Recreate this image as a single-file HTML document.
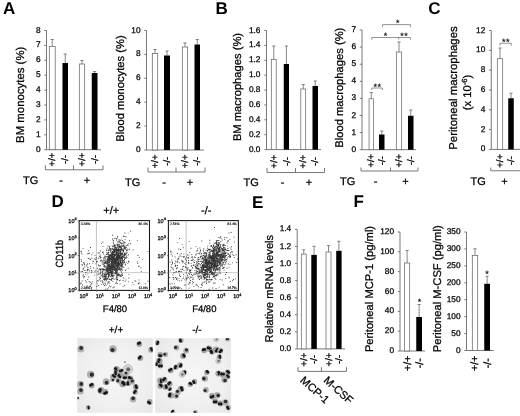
<!DOCTYPE html><html><head><meta charset="utf-8"><title>Figure</title><style>html,body{margin:0;padding:0;background:#fff}svg{display:block;text-rendering:geometricPrecision}</style></head><body><svg width="520" height="416" viewBox="0 0 520 416" font-family='"Liberation Sans", sans-serif'>
<defs><filter id="b1" x="-20%" y="-20%" width="140%" height="140%"><feGaussianBlur stdDeviation="0.45"/></filter><filter id="b2" x="-20%" y="-20%" width="140%" height="140%"><feGaussianBlur stdDeviation="0.8"/></filter><radialGradient id="bg" cx="50%" cy="50%" r="75%"><stop offset="0" stop-color="#f6f6f6"/><stop offset="0.6" stop-color="#efefef"/><stop offset="1" stop-color="#e4e4e4"/></radialGradient></defs>
<rect width="520" height="416" fill="#fff"/>
<text x="3.00" y="14.30" font-size="17" text-anchor="start" font-weight="bold" fill="#000">A</text>
<text x="215.50" y="13.60" font-size="17" text-anchor="start" font-weight="bold" fill="#000">B</text>
<text x="428.20" y="13.60" font-size="17" text-anchor="start" font-weight="bold" fill="#000">C</text>
<text x="51.50" y="207.40" font-size="17" text-anchor="start" font-weight="bold" fill="#000">D</text>
<text x="251.90" y="208.10" font-size="17" text-anchor="start" font-weight="bold" fill="#000">E</text>
<text x="353.60" y="207.30" font-size="17" text-anchor="start" font-weight="bold" fill="#000">F</text>
<line x1="46.50" y1="30.50" x2="46.50" y2="149.70" stroke="#6a6a6a" stroke-width="0.9"/>
<line x1="46.50" y1="149.70" x2="101.00" y2="149.70" stroke="#6a6a6a" stroke-width="0.9"/>
<line x1="44.30" y1="149.70" x2="46.50" y2="149.70" stroke="#6a6a6a" stroke-width="0.9"/>
<text x="40.50" y="151.79" font-size="8.3" text-anchor="end" font-weight="normal" fill="#000" stroke="#000" stroke-width="0.25">0</text>
<line x1="44.30" y1="134.80" x2="46.50" y2="134.80" stroke="#6a6a6a" stroke-width="0.9"/>
<text x="40.50" y="136.89" font-size="8.3" text-anchor="end" font-weight="normal" fill="#000" stroke="#000" stroke-width="0.25">1</text>
<line x1="44.30" y1="119.90" x2="46.50" y2="119.90" stroke="#6a6a6a" stroke-width="0.9"/>
<text x="40.50" y="121.99" font-size="8.3" text-anchor="end" font-weight="normal" fill="#000" stroke="#000" stroke-width="0.25">2</text>
<line x1="44.30" y1="105.00" x2="46.50" y2="105.00" stroke="#6a6a6a" stroke-width="0.9"/>
<text x="40.50" y="107.09" font-size="8.3" text-anchor="end" font-weight="normal" fill="#000" stroke="#000" stroke-width="0.25">3</text>
<line x1="44.30" y1="90.10" x2="46.50" y2="90.10" stroke="#6a6a6a" stroke-width="0.9"/>
<text x="40.50" y="92.19" font-size="8.3" text-anchor="end" font-weight="normal" fill="#000" stroke="#000" stroke-width="0.25">4</text>
<line x1="44.30" y1="75.20" x2="46.50" y2="75.20" stroke="#6a6a6a" stroke-width="0.9"/>
<text x="40.50" y="77.29" font-size="8.3" text-anchor="end" font-weight="normal" fill="#000" stroke="#000" stroke-width="0.25">5</text>
<line x1="44.30" y1="60.30" x2="46.50" y2="60.30" stroke="#6a6a6a" stroke-width="0.9"/>
<text x="40.50" y="62.39" font-size="8.3" text-anchor="end" font-weight="normal" fill="#000" stroke="#000" stroke-width="0.25">6</text>
<line x1="44.30" y1="45.40" x2="46.50" y2="45.40" stroke="#6a6a6a" stroke-width="0.9"/>
<text x="40.50" y="47.49" font-size="8.3" text-anchor="end" font-weight="normal" fill="#000" stroke="#000" stroke-width="0.25">7</text>
<line x1="44.30" y1="30.50" x2="46.50" y2="30.50" stroke="#6a6a6a" stroke-width="0.9"/>
<text x="40.50" y="32.59" font-size="8.3" text-anchor="end" font-weight="normal" fill="#000" stroke="#000" stroke-width="0.25">8</text>
<line x1="52.25" y1="39.50" x2="52.25" y2="46.50" stroke="#555" stroke-width="0.7"/>
<line x1="50.65" y1="39.50" x2="53.85" y2="39.50" stroke="#555" stroke-width="0.7"/>
<rect x="49.30" y="46.50" width="5.90" height="103.20" fill="#fff" stroke="#606060" stroke-width="0.7"/>
<line x1="65.25" y1="54.00" x2="65.25" y2="63.00" stroke="#555" stroke-width="0.7"/>
<line x1="63.65" y1="54.00" x2="66.85" y2="54.00" stroke="#555" stroke-width="0.7"/>
<rect x="62.50" y="63.00" width="5.50" height="86.70" fill="#000"/>
<line x1="82.00" y1="60.50" x2="82.00" y2="64.00" stroke="#555" stroke-width="0.7"/>
<line x1="80.40" y1="60.50" x2="83.60" y2="60.50" stroke="#555" stroke-width="0.7"/>
<rect x="79.30" y="64.00" width="5.40" height="85.70" fill="#fff" stroke="#606060" stroke-width="0.7"/>
<line x1="94.62" y1="71.50" x2="94.62" y2="73.00" stroke="#555" stroke-width="0.7"/>
<line x1="93.03" y1="71.50" x2="96.22" y2="71.50" stroke="#555" stroke-width="0.7"/>
<rect x="91.75" y="73.00" width="5.75" height="76.70" fill="#000"/>
<text transform="translate(24.30,94.80) rotate(-90)" font-size="11.4" text-anchor="middle" font-weight="normal" fill="#000" stroke="#000" stroke-width="0.25">BM monocytes (%)</text>
<text transform="translate(55.38,159.50) rotate(-90)" font-size="9.5" text-anchor="middle" font-weight="normal" fill="#000" stroke="#000" stroke-width="0.3">+/+</text>
<text transform="translate(68.39,159.50) rotate(-90)" font-size="9.5" text-anchor="middle" font-weight="normal" fill="#000" stroke="#000" stroke-width="0.3">-/-</text>
<text transform="translate(85.14,159.50) rotate(-90)" font-size="9.5" text-anchor="middle" font-weight="normal" fill="#000" stroke="#000" stroke-width="0.3">+/+</text>
<text transform="translate(97.76,159.50) rotate(-90)" font-size="9.5" text-anchor="middle" font-weight="normal" fill="#000" stroke="#000" stroke-width="0.3">-/-</text>
<polyline fill="none" stroke="#6a6a6a" stroke-width="0.9" points="45.40,165.30 45.40,169.80 103.00,169.80 103.00,165.30"/>
<line x1="73.50" y1="165.30" x2="73.50" y2="169.80" stroke="#6a6a6a" stroke-width="0.9"/>
<text x="23.00" y="184.00" font-size="11" text-anchor="start" font-weight="normal" fill="#000" stroke="#000" stroke-width="0.25">TG</text>
<text x="61.00" y="184.00" font-size="11" text-anchor="middle" font-weight="normal" fill="#000" stroke="#000" stroke-width="0.25">-</text>
<text x="87.00" y="184.00" font-size="11" text-anchor="middle" font-weight="normal" fill="#000" stroke="#000" stroke-width="0.25">+</text>
<line x1="146.50" y1="30.50" x2="146.50" y2="150.00" stroke="#6a6a6a" stroke-width="0.9"/>
<line x1="146.50" y1="150.00" x2="204.00" y2="150.00" stroke="#6a6a6a" stroke-width="0.9"/>
<line x1="144.30" y1="150.00" x2="146.50" y2="150.00" stroke="#6a6a6a" stroke-width="0.9"/>
<text x="140.50" y="152.09" font-size="8.3" text-anchor="end" font-weight="normal" fill="#000" stroke="#000" stroke-width="0.25">0</text>
<line x1="144.30" y1="126.10" x2="146.50" y2="126.10" stroke="#6a6a6a" stroke-width="0.9"/>
<text x="140.50" y="128.19" font-size="8.3" text-anchor="end" font-weight="normal" fill="#000" stroke="#000" stroke-width="0.25">2</text>
<line x1="144.30" y1="102.20" x2="146.50" y2="102.20" stroke="#6a6a6a" stroke-width="0.9"/>
<text x="140.50" y="104.29" font-size="8.3" text-anchor="end" font-weight="normal" fill="#000" stroke="#000" stroke-width="0.25">4</text>
<line x1="144.30" y1="78.30" x2="146.50" y2="78.30" stroke="#6a6a6a" stroke-width="0.9"/>
<text x="140.50" y="80.39" font-size="8.3" text-anchor="end" font-weight="normal" fill="#000" stroke="#000" stroke-width="0.25">6</text>
<line x1="144.30" y1="54.40" x2="146.50" y2="54.40" stroke="#6a6a6a" stroke-width="0.9"/>
<text x="140.50" y="56.49" font-size="8.3" text-anchor="end" font-weight="normal" fill="#000" stroke="#000" stroke-width="0.25">8</text>
<line x1="144.30" y1="30.50" x2="146.50" y2="30.50" stroke="#6a6a6a" stroke-width="0.9"/>
<text x="140.50" y="32.59" font-size="8.3" text-anchor="end" font-weight="normal" fill="#000" stroke="#000" stroke-width="0.25">10</text>
<line x1="155.00" y1="49.50" x2="155.00" y2="53.50" stroke="#555" stroke-width="0.7"/>
<line x1="153.40" y1="49.50" x2="156.60" y2="49.50" stroke="#555" stroke-width="0.7"/>
<rect x="152.30" y="53.50" width="5.40" height="96.50" fill="#fff" stroke="#606060" stroke-width="0.7"/>
<line x1="167.00" y1="51.00" x2="167.00" y2="55.50" stroke="#555" stroke-width="0.7"/>
<line x1="165.40" y1="51.00" x2="168.60" y2="51.00" stroke="#555" stroke-width="0.7"/>
<rect x="164.00" y="55.50" width="6.00" height="94.50" fill="#000"/>
<line x1="185.00" y1="43.00" x2="185.00" y2="47.00" stroke="#555" stroke-width="0.7"/>
<line x1="183.40" y1="43.00" x2="186.60" y2="43.00" stroke="#555" stroke-width="0.7"/>
<rect x="182.30" y="47.00" width="5.40" height="103.00" fill="#fff" stroke="#606060" stroke-width="0.7"/>
<line x1="197.25" y1="39.50" x2="197.25" y2="44.50" stroke="#555" stroke-width="0.7"/>
<line x1="195.65" y1="39.50" x2="198.85" y2="39.50" stroke="#555" stroke-width="0.7"/>
<rect x="194.50" y="44.50" width="5.50" height="105.50" fill="#000"/>
<text transform="translate(123.80,88.50) rotate(-90)" font-size="11.2" text-anchor="middle" font-weight="normal" fill="#000" stroke="#000" stroke-width="0.25">Blood monocytes (%)</text>
<text transform="translate(158.13,161.30) rotate(-90)" font-size="9.5" text-anchor="middle" font-weight="normal" fill="#000" stroke="#000" stroke-width="0.3">+/+</text>
<text transform="translate(170.13,161.30) rotate(-90)" font-size="9.5" text-anchor="middle" font-weight="normal" fill="#000" stroke="#000" stroke-width="0.3">-/-</text>
<text transform="translate(188.13,161.30) rotate(-90)" font-size="9.5" text-anchor="middle" font-weight="normal" fill="#000" stroke="#000" stroke-width="0.3">+/+</text>
<text transform="translate(200.38,161.30) rotate(-90)" font-size="9.5" text-anchor="middle" font-weight="normal" fill="#000" stroke="#000" stroke-width="0.3">-/-</text>
<polyline fill="none" stroke="#6a6a6a" stroke-width="0.9" points="148.00,167.50 148.00,172.00 205.00,172.00 205.00,167.50"/>
<line x1="176.00" y1="167.50" x2="176.00" y2="172.00" stroke="#6a6a6a" stroke-width="0.9"/>
<text x="125.00" y="186.00" font-size="11" text-anchor="start" font-weight="normal" fill="#000" stroke="#000" stroke-width="0.25">TG</text>
<text x="164.00" y="186.00" font-size="11" text-anchor="middle" font-weight="normal" fill="#000" stroke="#000" stroke-width="0.25">-</text>
<text x="190.00" y="186.00" font-size="11" text-anchor="middle" font-weight="normal" fill="#000" stroke="#000" stroke-width="0.25">+</text>
<line x1="266.50" y1="30.50" x2="266.50" y2="149.60" stroke="#6a6a6a" stroke-width="0.9"/>
<line x1="266.50" y1="149.60" x2="321.00" y2="149.60" stroke="#6a6a6a" stroke-width="0.9"/>
<line x1="264.30" y1="149.60" x2="266.50" y2="149.60" stroke="#6a6a6a" stroke-width="0.9"/>
<text x="260.50" y="151.69" font-size="8.3" text-anchor="end" font-weight="normal" fill="#000" stroke="#000" stroke-width="0.25">0.0</text>
<line x1="264.30" y1="134.71" x2="266.50" y2="134.71" stroke="#6a6a6a" stroke-width="0.9"/>
<text x="260.50" y="136.80" font-size="8.3" text-anchor="end" font-weight="normal" fill="#000" stroke="#000" stroke-width="0.25">0.2</text>
<line x1="264.30" y1="119.82" x2="266.50" y2="119.82" stroke="#6a6a6a" stroke-width="0.9"/>
<text x="260.50" y="121.91" font-size="8.3" text-anchor="end" font-weight="normal" fill="#000" stroke="#000" stroke-width="0.25">0.4</text>
<line x1="264.30" y1="104.94" x2="266.50" y2="104.94" stroke="#6a6a6a" stroke-width="0.9"/>
<text x="260.50" y="107.03" font-size="8.3" text-anchor="end" font-weight="normal" fill="#000" stroke="#000" stroke-width="0.25">0.6</text>
<line x1="264.30" y1="90.05" x2="266.50" y2="90.05" stroke="#6a6a6a" stroke-width="0.9"/>
<text x="260.50" y="92.14" font-size="8.3" text-anchor="end" font-weight="normal" fill="#000" stroke="#000" stroke-width="0.25">0.8</text>
<line x1="264.30" y1="75.16" x2="266.50" y2="75.16" stroke="#6a6a6a" stroke-width="0.9"/>
<text x="260.50" y="77.25" font-size="8.3" text-anchor="end" font-weight="normal" fill="#000" stroke="#000" stroke-width="0.25">1.0</text>
<line x1="264.30" y1="60.28" x2="266.50" y2="60.28" stroke="#6a6a6a" stroke-width="0.9"/>
<text x="260.50" y="62.36" font-size="8.3" text-anchor="end" font-weight="normal" fill="#000" stroke="#000" stroke-width="0.25">1.2</text>
<line x1="264.30" y1="45.39" x2="266.50" y2="45.39" stroke="#6a6a6a" stroke-width="0.9"/>
<text x="260.50" y="47.48" font-size="8.3" text-anchor="end" font-weight="normal" fill="#000" stroke="#000" stroke-width="0.25">1.4</text>
<line x1="264.30" y1="30.50" x2="266.50" y2="30.50" stroke="#6a6a6a" stroke-width="0.9"/>
<text x="260.50" y="32.59" font-size="8.3" text-anchor="end" font-weight="normal" fill="#000" stroke="#000" stroke-width="0.25">1.6</text>
<line x1="273.75" y1="46.00" x2="273.75" y2="59.50" stroke="#555" stroke-width="0.7"/>
<line x1="272.15" y1="46.00" x2="275.35" y2="46.00" stroke="#555" stroke-width="0.7"/>
<rect x="271.30" y="59.50" width="4.90" height="90.10" fill="#fff" stroke="#606060" stroke-width="0.7"/>
<line x1="286.38" y1="46.00" x2="286.38" y2="64.00" stroke="#555" stroke-width="0.7"/>
<line x1="284.77" y1="46.00" x2="287.98" y2="46.00" stroke="#555" stroke-width="0.7"/>
<rect x="283.75" y="64.00" width="5.25" height="85.60" fill="#000"/>
<line x1="303.25" y1="84.50" x2="303.25" y2="89.00" stroke="#555" stroke-width="0.7"/>
<line x1="301.65" y1="84.50" x2="304.85" y2="84.50" stroke="#555" stroke-width="0.7"/>
<rect x="300.80" y="89.00" width="4.90" height="60.60" fill="#fff" stroke="#606060" stroke-width="0.7"/>
<line x1="315.25" y1="81.00" x2="315.25" y2="86.00" stroke="#555" stroke-width="0.7"/>
<line x1="313.65" y1="81.00" x2="316.85" y2="81.00" stroke="#555" stroke-width="0.7"/>
<rect x="312.50" y="86.00" width="5.50" height="63.60" fill="#000"/>
<text transform="translate(241.20,87.00) rotate(-90)" font-size="11.2" text-anchor="middle" font-weight="normal" fill="#000" stroke="#000" stroke-width="0.25">BM macrophages (%)</text>
<text transform="translate(276.88,161.50) rotate(-90)" font-size="9.5" text-anchor="middle" font-weight="normal" fill="#000" stroke="#000" stroke-width="0.3">+/+</text>
<text transform="translate(289.51,161.50) rotate(-90)" font-size="9.5" text-anchor="middle" font-weight="normal" fill="#000" stroke="#000" stroke-width="0.3">-/-</text>
<text transform="translate(306.38,161.50) rotate(-90)" font-size="9.5" text-anchor="middle" font-weight="normal" fill="#000" stroke="#000" stroke-width="0.3">+/+</text>
<text transform="translate(318.38,161.50) rotate(-90)" font-size="9.5" text-anchor="middle" font-weight="normal" fill="#000" stroke="#000" stroke-width="0.3">-/-</text>
<polyline fill="none" stroke="#6a6a6a" stroke-width="0.9" points="267.00,168.00 267.00,172.50 324.50,172.50 324.50,168.00"/>
<line x1="295.50" y1="168.00" x2="295.50" y2="172.50" stroke="#6a6a6a" stroke-width="0.9"/>
<text x="243.50" y="186.00" font-size="11" text-anchor="start" font-weight="normal" fill="#000" stroke="#000" stroke-width="0.25">TG</text>
<text x="282.50" y="186.00" font-size="11" text-anchor="middle" font-weight="normal" fill="#000" stroke="#000" stroke-width="0.25">-</text>
<text x="309.00" y="186.00" font-size="11" text-anchor="middle" font-weight="normal" fill="#000" stroke="#000" stroke-width="0.25">+</text>
<line x1="362.00" y1="30.00" x2="362.00" y2="149.70" stroke="#6a6a6a" stroke-width="0.9"/>
<line x1="362.00" y1="149.70" x2="416.00" y2="149.70" stroke="#6a6a6a" stroke-width="0.9"/>
<line x1="359.80" y1="149.70" x2="362.00" y2="149.70" stroke="#6a6a6a" stroke-width="0.9"/>
<text x="356.00" y="151.79" font-size="8.3" text-anchor="end" font-weight="normal" fill="#000" stroke="#000" stroke-width="0.25">0</text>
<line x1="359.80" y1="132.60" x2="362.00" y2="132.60" stroke="#6a6a6a" stroke-width="0.9"/>
<text x="356.00" y="134.69" font-size="8.3" text-anchor="end" font-weight="normal" fill="#000" stroke="#000" stroke-width="0.25">1</text>
<line x1="359.80" y1="115.50" x2="362.00" y2="115.50" stroke="#6a6a6a" stroke-width="0.9"/>
<text x="356.00" y="117.59" font-size="8.3" text-anchor="end" font-weight="normal" fill="#000" stroke="#000" stroke-width="0.25">2</text>
<line x1="359.80" y1="98.40" x2="362.00" y2="98.40" stroke="#6a6a6a" stroke-width="0.9"/>
<text x="356.00" y="100.49" font-size="8.3" text-anchor="end" font-weight="normal" fill="#000" stroke="#000" stroke-width="0.25">3</text>
<line x1="359.80" y1="81.30" x2="362.00" y2="81.30" stroke="#6a6a6a" stroke-width="0.9"/>
<text x="356.00" y="83.39" font-size="8.3" text-anchor="end" font-weight="normal" fill="#000" stroke="#000" stroke-width="0.25">4</text>
<line x1="359.80" y1="64.20" x2="362.00" y2="64.20" stroke="#6a6a6a" stroke-width="0.9"/>
<text x="356.00" y="66.29" font-size="8.3" text-anchor="end" font-weight="normal" fill="#000" stroke="#000" stroke-width="0.25">5</text>
<line x1="359.80" y1="47.10" x2="362.00" y2="47.10" stroke="#6a6a6a" stroke-width="0.9"/>
<text x="356.00" y="49.19" font-size="8.3" text-anchor="end" font-weight="normal" fill="#000" stroke="#000" stroke-width="0.25">6</text>
<line x1="359.80" y1="30.00" x2="362.00" y2="30.00" stroke="#6a6a6a" stroke-width="0.9"/>
<text x="356.00" y="32.09" font-size="8.3" text-anchor="end" font-weight="normal" fill="#000" stroke="#000" stroke-width="0.25">7</text>
<line x1="371.25" y1="92.50" x2="371.25" y2="98.75" stroke="#555" stroke-width="0.7"/>
<line x1="369.65" y1="92.50" x2="372.85" y2="92.50" stroke="#555" stroke-width="0.7"/>
<rect x="369.05" y="98.75" width="4.40" height="50.95" fill="#fff" stroke="#606060" stroke-width="0.7"/>
<line x1="381.75" y1="131.00" x2="381.75" y2="134.50" stroke="#555" stroke-width="0.7"/>
<line x1="380.15" y1="131.00" x2="383.35" y2="131.00" stroke="#555" stroke-width="0.7"/>
<rect x="379.00" y="134.50" width="5.50" height="15.20" fill="#000"/>
<line x1="399.00" y1="42.00" x2="399.00" y2="52.00" stroke="#555" stroke-width="0.7"/>
<line x1="397.40" y1="42.00" x2="400.60" y2="42.00" stroke="#555" stroke-width="0.7"/>
<rect x="396.30" y="52.00" width="5.40" height="97.70" fill="#fff" stroke="#606060" stroke-width="0.7"/>
<line x1="410.75" y1="110.00" x2="410.75" y2="115.75" stroke="#555" stroke-width="0.7"/>
<line x1="409.15" y1="110.00" x2="412.35" y2="110.00" stroke="#555" stroke-width="0.7"/>
<rect x="408.00" y="115.75" width="5.50" height="33.95" fill="#000"/>
<text transform="translate(342.60,87.70) rotate(-90)" font-size="11.2" text-anchor="middle" font-weight="normal" fill="#000" stroke="#000" stroke-width="0.25">Blood macrophages (%)</text>
<text transform="translate(374.38,160.70) rotate(-90)" font-size="9.5" text-anchor="middle" font-weight="normal" fill="#000" stroke="#000" stroke-width="0.3">+/+</text>
<text transform="translate(384.88,160.70) rotate(-90)" font-size="9.5" text-anchor="middle" font-weight="normal" fill="#000" stroke="#000" stroke-width="0.3">-/-</text>
<text transform="translate(402.13,160.70) rotate(-90)" font-size="9.5" text-anchor="middle" font-weight="normal" fill="#000" stroke="#000" stroke-width="0.3">+/+</text>
<text transform="translate(413.88,160.70) rotate(-90)" font-size="9.5" text-anchor="middle" font-weight="normal" fill="#000" stroke="#000" stroke-width="0.3">-/-</text>
<polyline fill="none" stroke="#6a6a6a" stroke-width="0.9" points="361.00,167.50 361.00,171.00 418.00,171.00 418.00,167.50"/>
<line x1="390.50" y1="167.50" x2="390.50" y2="171.00" stroke="#6a6a6a" stroke-width="0.9"/>
<text x="340.00" y="185.00" font-size="11" text-anchor="start" font-weight="normal" fill="#000" stroke="#000" stroke-width="0.25">TG</text>
<text x="375.50" y="185.00" font-size="11" text-anchor="middle" font-weight="normal" fill="#000" stroke="#000" stroke-width="0.25">-</text>
<text x="405.50" y="185.00" font-size="11" text-anchor="middle" font-weight="normal" fill="#000" stroke="#000" stroke-width="0.25">+</text>
<polyline fill="none" stroke="#666" stroke-width="0.7" points="371.75,90.00 371.75,88.00 382.50,88.00 382.50,90.00"/>
<text x="377.50" y="89.80" font-size="9" text-anchor="middle" font-weight="normal" fill="#000" letter-spacing="0.5" stroke="#000" stroke-width="0.15">**</text>
<polyline fill="none" stroke="#666" stroke-width="0.7" points="382.60,27.30 382.60,24.60 410.60,24.60 410.60,27.30"/>
<text x="397.80" y="26.40" font-size="9" text-anchor="middle" font-weight="normal" fill="#000" stroke="#000" stroke-width="0.15">*</text>
<polyline fill="none" stroke="#666" stroke-width="0.7" points="371.75,39.70 371.75,37.50 410.50,37.50 410.50,39.70"/>
<line x1="398.75" y1="37.50" x2="398.75" y2="39.70" stroke="#666" stroke-width="0.7"/>
<text x="385.60" y="38.60" font-size="9" text-anchor="middle" font-weight="normal" fill="#000" stroke="#000" stroke-width="0.15">*</text>
<text x="404.20" y="38.60" font-size="9" text-anchor="middle" font-weight="normal" fill="#000" letter-spacing="0.5" stroke="#000" stroke-width="0.15">**</text>
<line x1="491.25" y1="30.50" x2="491.25" y2="149.40" stroke="#6a6a6a" stroke-width="0.9"/>
<line x1="491.25" y1="149.40" x2="520.00" y2="149.40" stroke="#6a6a6a" stroke-width="0.9"/>
<line x1="489.05" y1="149.40" x2="491.25" y2="149.40" stroke="#6a6a6a" stroke-width="0.9"/>
<text x="485.25" y="151.49" font-size="8.3" text-anchor="end" font-weight="normal" fill="#000" stroke="#000" stroke-width="0.25">0</text>
<line x1="489.05" y1="129.58" x2="491.25" y2="129.58" stroke="#6a6a6a" stroke-width="0.9"/>
<text x="485.25" y="131.67" font-size="8.3" text-anchor="end" font-weight="normal" fill="#000" stroke="#000" stroke-width="0.25">2</text>
<line x1="489.05" y1="109.77" x2="491.25" y2="109.77" stroke="#6a6a6a" stroke-width="0.9"/>
<text x="485.25" y="111.85" font-size="8.3" text-anchor="end" font-weight="normal" fill="#000" stroke="#000" stroke-width="0.25">4</text>
<line x1="489.05" y1="89.95" x2="491.25" y2="89.95" stroke="#6a6a6a" stroke-width="0.9"/>
<text x="485.25" y="92.04" font-size="8.3" text-anchor="end" font-weight="normal" fill="#000" stroke="#000" stroke-width="0.25">6</text>
<line x1="489.05" y1="70.13" x2="491.25" y2="70.13" stroke="#6a6a6a" stroke-width="0.9"/>
<text x="485.25" y="72.22" font-size="8.3" text-anchor="end" font-weight="normal" fill="#000" stroke="#000" stroke-width="0.25">8</text>
<line x1="489.05" y1="50.32" x2="491.25" y2="50.32" stroke="#6a6a6a" stroke-width="0.9"/>
<text x="485.25" y="52.40" font-size="8.3" text-anchor="end" font-weight="normal" fill="#000" stroke="#000" stroke-width="0.25">10</text>
<line x1="489.05" y1="30.50" x2="491.25" y2="30.50" stroke="#6a6a6a" stroke-width="0.9"/>
<text x="485.25" y="32.59" font-size="8.3" text-anchor="end" font-weight="normal" fill="#000" stroke="#000" stroke-width="0.25">12</text>
<line x1="500.00" y1="48.00" x2="500.00" y2="58.75" stroke="#555" stroke-width="0.7"/>
<line x1="498.40" y1="48.00" x2="501.60" y2="48.00" stroke="#555" stroke-width="0.7"/>
<rect x="497.30" y="58.75" width="5.40" height="90.65" fill="#fff" stroke="#606060" stroke-width="0.7"/>
<line x1="511.00" y1="93.25" x2="511.00" y2="98.25" stroke="#555" stroke-width="0.7"/>
<line x1="509.40" y1="93.25" x2="512.60" y2="93.25" stroke="#555" stroke-width="0.7"/>
<rect x="508.25" y="98.25" width="5.50" height="51.15" fill="#000"/>
<text transform="translate(457.20,88.00) rotate(-90)" font-size="11.4" text-anchor="middle" font-weight="normal" fill="#000" stroke="#000" stroke-width="0.25">Peritoneal macrophages</text>
<text transform="translate(471.30,92.50) rotate(-90)" font-size="11.2" text-anchor="middle" font-weight="normal" fill="#000" stroke="#000" stroke-width="0.25">(x 10<tspan font-size="7.5" dy="-4">-6</tspan><tspan dy="4">)</tspan></text>
<text transform="translate(503.13,160.80) rotate(-90)" font-size="9.5" text-anchor="middle" font-weight="normal" fill="#000" stroke="#000" stroke-width="0.3">+/+</text>
<text transform="translate(514.13,160.80) rotate(-90)" font-size="9.5" text-anchor="middle" font-weight="normal" fill="#000" stroke="#000" stroke-width="0.3">-/-</text>
<polyline fill="none" stroke="#6a6a6a" stroke-width="0.9" points="490.75,167.50 490.75,170.75 520.00,170.75"/>
<text x="470.50" y="185.00" font-size="11" text-anchor="start" font-weight="normal" fill="#000" stroke="#000" stroke-width="0.25">TG</text>
<text x="504.50" y="185.00" font-size="11" text-anchor="middle" font-weight="normal" fill="#000" stroke="#000" stroke-width="0.25">+</text>
<polyline fill="none" stroke="#666" stroke-width="0.7" points="500.00,45.75 500.00,43.25 511.25,43.25 511.25,45.75"/>
<text x="506.00" y="44.80" font-size="9" text-anchor="middle" font-weight="normal" fill="#000" letter-spacing="0.5" stroke="#000" stroke-width="0.15">**</text>
<line x1="297.20" y1="229.40" x2="297.20" y2="348.90" stroke="#6a6a6a" stroke-width="0.9"/>
<line x1="297.20" y1="348.90" x2="345.00" y2="348.90" stroke="#6a6a6a" stroke-width="0.9"/>
<line x1="295.00" y1="348.90" x2="297.20" y2="348.90" stroke="#6a6a6a" stroke-width="0.9"/>
<text x="291.20" y="350.99" font-size="8.3" text-anchor="end" font-weight="normal" fill="#000" stroke="#000" stroke-width="0.25">0.0</text>
<line x1="295.00" y1="331.83" x2="297.20" y2="331.83" stroke="#6a6a6a" stroke-width="0.9"/>
<text x="291.20" y="333.92" font-size="8.3" text-anchor="end" font-weight="normal" fill="#000" stroke="#000" stroke-width="0.25">0.2</text>
<line x1="295.00" y1="314.76" x2="297.20" y2="314.76" stroke="#6a6a6a" stroke-width="0.9"/>
<text x="291.20" y="316.85" font-size="8.3" text-anchor="end" font-weight="normal" fill="#000" stroke="#000" stroke-width="0.25">0.4</text>
<line x1="295.00" y1="297.69" x2="297.20" y2="297.69" stroke="#6a6a6a" stroke-width="0.9"/>
<text x="291.20" y="299.77" font-size="8.3" text-anchor="end" font-weight="normal" fill="#000" stroke="#000" stroke-width="0.25">0.6</text>
<line x1="295.00" y1="280.61" x2="297.20" y2="280.61" stroke="#6a6a6a" stroke-width="0.9"/>
<text x="291.20" y="282.70" font-size="8.3" text-anchor="end" font-weight="normal" fill="#000" stroke="#000" stroke-width="0.25">0.8</text>
<line x1="295.00" y1="263.54" x2="297.20" y2="263.54" stroke="#6a6a6a" stroke-width="0.9"/>
<text x="291.20" y="265.63" font-size="8.3" text-anchor="end" font-weight="normal" fill="#000" stroke="#000" stroke-width="0.25">1.0</text>
<line x1="295.00" y1="246.47" x2="297.20" y2="246.47" stroke="#6a6a6a" stroke-width="0.9"/>
<text x="291.20" y="248.56" font-size="8.3" text-anchor="end" font-weight="normal" fill="#000" stroke="#000" stroke-width="0.25">1.2</text>
<line x1="295.00" y1="229.40" x2="297.20" y2="229.40" stroke="#6a6a6a" stroke-width="0.9"/>
<text x="291.20" y="231.49" font-size="8.3" text-anchor="end" font-weight="normal" fill="#000" stroke="#000" stroke-width="0.25">1.4</text>
<line x1="303.75" y1="249.80" x2="303.75" y2="254.10" stroke="#555" stroke-width="0.7"/>
<line x1="302.15" y1="249.80" x2="305.35" y2="249.80" stroke="#555" stroke-width="0.7"/>
<rect x="301.30" y="254.10" width="4.90" height="94.80" fill="#fff" stroke="#606060" stroke-width="0.7"/>
<line x1="314.05" y1="246.25" x2="314.05" y2="254.90" stroke="#555" stroke-width="0.7"/>
<line x1="312.45" y1="246.25" x2="315.65" y2="246.25" stroke="#555" stroke-width="0.7"/>
<rect x="311.30" y="254.90" width="5.50" height="94.00" fill="#000"/>
<line x1="328.50" y1="245.60" x2="328.50" y2="252.00" stroke="#555" stroke-width="0.7"/>
<line x1="326.90" y1="245.60" x2="330.10" y2="245.60" stroke="#555" stroke-width="0.7"/>
<rect x="326.00" y="252.00" width="5.00" height="96.90" fill="#fff" stroke="#606060" stroke-width="0.7"/>
<line x1="338.90" y1="241.25" x2="338.90" y2="250.80" stroke="#555" stroke-width="0.7"/>
<line x1="337.30" y1="241.25" x2="340.50" y2="241.25" stroke="#555" stroke-width="0.7"/>
<rect x="336.20" y="250.80" width="5.40" height="98.10" fill="#000"/>
<text transform="translate(273.00,288.60) rotate(-90)" font-size="11.2" text-anchor="middle" font-weight="normal" fill="#000" stroke="#000" stroke-width="0.25">Relative mRNA levels</text>
<text transform="translate(306.88,359.50) rotate(-90)" font-size="9.5" text-anchor="middle" font-weight="normal" fill="#000" stroke="#000" stroke-width="0.3">+/+</text>
<text transform="translate(317.19,359.50) rotate(-90)" font-size="9.5" text-anchor="middle" font-weight="normal" fill="#000" stroke="#000" stroke-width="0.3">-/-</text>
<text transform="translate(331.63,359.50) rotate(-90)" font-size="9.5" text-anchor="middle" font-weight="normal" fill="#000" stroke="#000" stroke-width="0.3">+/+</text>
<text transform="translate(342.03,359.50) rotate(-90)" font-size="9.5" text-anchor="middle" font-weight="normal" fill="#000" stroke="#000" stroke-width="0.3">-/-</text>
<polyline fill="none" stroke="#6a6a6a" stroke-width="0.9" points="298.00,367.20 298.00,371.40 346.50,371.40 346.50,367.20"/>
<line x1="321.40" y1="367.20" x2="321.40" y2="371.40" stroke="#6a6a6a" stroke-width="0.9"/>
<text transform="translate(299.60,381.30) rotate(42)" font-size="11" text-anchor="start" font-weight="normal" fill="#000" stroke="#000" stroke-width="0.25">MCP-1</text>
<text transform="translate(323.10,381.30) rotate(42)" font-size="11" text-anchor="start" font-weight="normal" fill="#000" stroke="#000" stroke-width="0.25">M-CSF</text>
<line x1="400.00" y1="232.00" x2="400.00" y2="351.00" stroke="#6a6a6a" stroke-width="0.9"/>
<line x1="400.00" y1="351.00" x2="425.00" y2="351.00" stroke="#6a6a6a" stroke-width="0.9"/>
<line x1="397.80" y1="351.00" x2="400.00" y2="351.00" stroke="#6a6a6a" stroke-width="0.9"/>
<text x="394.00" y="353.09" font-size="8.3" text-anchor="end" font-weight="normal" fill="#000" stroke="#000" stroke-width="0.25">0</text>
<line x1="397.80" y1="331.17" x2="400.00" y2="331.17" stroke="#6a6a6a" stroke-width="0.9"/>
<text x="394.00" y="333.25" font-size="8.3" text-anchor="end" font-weight="normal" fill="#000" stroke="#000" stroke-width="0.25">20</text>
<line x1="397.80" y1="311.33" x2="400.00" y2="311.33" stroke="#6a6a6a" stroke-width="0.9"/>
<text x="394.00" y="313.42" font-size="8.3" text-anchor="end" font-weight="normal" fill="#000" stroke="#000" stroke-width="0.25">40</text>
<line x1="397.80" y1="291.50" x2="400.00" y2="291.50" stroke="#6a6a6a" stroke-width="0.9"/>
<text x="394.00" y="293.59" font-size="8.3" text-anchor="end" font-weight="normal" fill="#000" stroke="#000" stroke-width="0.25">60</text>
<line x1="397.80" y1="271.67" x2="400.00" y2="271.67" stroke="#6a6a6a" stroke-width="0.9"/>
<text x="394.00" y="273.75" font-size="8.3" text-anchor="end" font-weight="normal" fill="#000" stroke="#000" stroke-width="0.25">80</text>
<line x1="397.80" y1="251.83" x2="400.00" y2="251.83" stroke="#6a6a6a" stroke-width="0.9"/>
<text x="394.00" y="253.92" font-size="8.3" text-anchor="end" font-weight="normal" fill="#000" stroke="#000" stroke-width="0.25">100</text>
<line x1="397.80" y1="232.00" x2="400.00" y2="232.00" stroke="#6a6a6a" stroke-width="0.9"/>
<text x="394.00" y="234.09" font-size="8.3" text-anchor="end" font-weight="normal" fill="#000" stroke="#000" stroke-width="0.25">120</text>
<line x1="407.12" y1="250.50" x2="407.12" y2="263.00" stroke="#555" stroke-width="0.7"/>
<line x1="405.52" y1="250.50" x2="408.73" y2="250.50" stroke="#555" stroke-width="0.7"/>
<rect x="404.55" y="263.00" width="5.15" height="88.00" fill="#fff" stroke="#606060" stroke-width="0.7"/>
<line x1="419.12" y1="304.50" x2="419.12" y2="317.00" stroke="#555" stroke-width="0.7"/>
<line x1="417.52" y1="304.50" x2="420.73" y2="304.50" stroke="#555" stroke-width="0.7"/>
<rect x="416.25" y="317.00" width="5.75" height="34.00" fill="#000"/>
<text transform="translate(373.30,289.00) rotate(-90)" font-size="11.2" text-anchor="middle" font-weight="normal" fill="#000" stroke="#000" stroke-width="0.25">Peritoneal MCP-1 (pg/ml)</text>
<text transform="translate(410.59,363.30) rotate(-90)" font-size="10.5" text-anchor="middle" font-weight="normal" fill="#000" stroke="#000" stroke-width="0.3">+/+</text>
<text transform="translate(422.59,363.30) rotate(-90)" font-size="10.5" text-anchor="middle" font-weight="normal" fill="#000" stroke="#000" stroke-width="0.3">-/-</text>
<text x="419.50" y="305.30" font-size="9" text-anchor="middle" font-weight="normal" fill="#000" stroke="#000" stroke-width="0.15">*</text>
<line x1="466.50" y1="232.00" x2="466.50" y2="350.50" stroke="#6a6a6a" stroke-width="0.9"/>
<line x1="466.50" y1="350.50" x2="493.75" y2="350.50" stroke="#6a6a6a" stroke-width="0.9"/>
<line x1="464.30" y1="350.50" x2="466.50" y2="350.50" stroke="#6a6a6a" stroke-width="0.9"/>
<text x="460.50" y="352.59" font-size="8.3" text-anchor="end" font-weight="normal" fill="#000" stroke="#000" stroke-width="0.25">0</text>
<line x1="464.30" y1="333.57" x2="466.50" y2="333.57" stroke="#6a6a6a" stroke-width="0.9"/>
<text x="460.50" y="335.66" font-size="8.3" text-anchor="end" font-weight="normal" fill="#000" stroke="#000" stroke-width="0.25">50</text>
<line x1="464.30" y1="316.64" x2="466.50" y2="316.64" stroke="#6a6a6a" stroke-width="0.9"/>
<text x="460.50" y="318.73" font-size="8.3" text-anchor="end" font-weight="normal" fill="#000" stroke="#000" stroke-width="0.25">100</text>
<line x1="464.30" y1="299.71" x2="466.50" y2="299.71" stroke="#6a6a6a" stroke-width="0.9"/>
<text x="460.50" y="301.80" font-size="8.3" text-anchor="end" font-weight="normal" fill="#000" stroke="#000" stroke-width="0.25">150</text>
<line x1="464.30" y1="282.79" x2="466.50" y2="282.79" stroke="#6a6a6a" stroke-width="0.9"/>
<text x="460.50" y="284.87" font-size="8.3" text-anchor="end" font-weight="normal" fill="#000" stroke="#000" stroke-width="0.25">200</text>
<line x1="464.30" y1="265.86" x2="466.50" y2="265.86" stroke="#6a6a6a" stroke-width="0.9"/>
<text x="460.50" y="267.95" font-size="8.3" text-anchor="end" font-weight="normal" fill="#000" stroke="#000" stroke-width="0.25">250</text>
<line x1="464.30" y1="248.93" x2="466.50" y2="248.93" stroke="#6a6a6a" stroke-width="0.9"/>
<text x="460.50" y="251.02" font-size="8.3" text-anchor="end" font-weight="normal" fill="#000" stroke="#000" stroke-width="0.25">300</text>
<line x1="464.30" y1="232.00" x2="466.50" y2="232.00" stroke="#6a6a6a" stroke-width="0.9"/>
<text x="460.50" y="234.09" font-size="8.3" text-anchor="end" font-weight="normal" fill="#000" stroke="#000" stroke-width="0.25">350</text>
<line x1="475.00" y1="248.75" x2="475.00" y2="255.50" stroke="#555" stroke-width="0.7"/>
<line x1="473.40" y1="248.75" x2="476.60" y2="248.75" stroke="#555" stroke-width="0.7"/>
<rect x="472.30" y="255.50" width="5.40" height="95.00" fill="#fff" stroke="#606060" stroke-width="0.7"/>
<line x1="487.12" y1="276.25" x2="487.12" y2="283.75" stroke="#555" stroke-width="0.7"/>
<line x1="485.52" y1="276.25" x2="488.73" y2="276.25" stroke="#555" stroke-width="0.7"/>
<rect x="484.25" y="283.75" width="5.75" height="66.75" fill="#000"/>
<text transform="translate(440.70,288.80) rotate(-90)" font-size="11.2" text-anchor="middle" font-weight="normal" fill="#000" stroke="#000" stroke-width="0.25">Peritoneal M-CSF (pg/ml)</text>
<text transform="translate(478.46,363.30) rotate(-90)" font-size="10.5" text-anchor="middle" font-weight="normal" fill="#000" stroke="#000" stroke-width="0.3">+/+</text>
<text transform="translate(490.59,363.30) rotate(-90)" font-size="10.5" text-anchor="middle" font-weight="normal" fill="#000" stroke="#000" stroke-width="0.3">-/-</text>
<text x="487.00" y="276.80" font-size="9" text-anchor="middle" font-weight="normal" fill="#000" stroke="#000" stroke-width="0.15">*</text>
<rect x="79.2" y="220.6" width="70.3" height="69.79999999999998" fill="#fff" stroke="#151515" stroke-width="1.05"/>
<line x1="96.40" y1="220.60" x2="96.40" y2="290.40" stroke="#9a9a9a" stroke-width="0.6"/>
<line x1="79.20" y1="272.60" x2="149.50" y2="272.60" stroke="#a8a8a8" stroke-width="0.6"/>
<path d="M121.8 243.2h.9v.9h-.9zM114.7 267.2h.9v.9h-.9zM108.0 265.4h.9v.9h-.9zM108.4 277.6h.9v.9h-.9zM115.5 259.0h.9v.9h-.9zM117.5 266.4h.9v.9h-.9zM114.3 261.5h.9v.9h-.9zM105.6 262.9h.9v.9h-.9zM116.2 239.4h.9v.9h-.9zM115.5 261.4h.9v.9h-.9zM121.4 254.0h.9v.9h-.9zM119.6 260.2h.9v.9h-.9zM115.6 251.4h.9v.9h-.9zM118.3 256.9h.9v.9h-.9zM108.0 261.8h.9v.9h-.9zM114.7 254.6h.9v.9h-.9zM115.6 250.8h.9v.9h-.9zM114.0 259.5h.9v.9h-.9zM118.2 267.4h.9v.9h-.9zM112.0 267.0h.9v.9h-.9zM125.8 253.3h.9v.9h-.9zM118.1 253.0h.9v.9h-.9zM112.7 275.4h.9v.9h-.9zM119.9 260.3h.9v.9h-.9zM118.5 269.0h.9v.9h-.9zM111.8 252.2h.9v.9h-.9zM122.6 265.9h.9v.9h-.9zM106.6 267.1h.9v.9h-.9zM118.5 256.5h.9v.9h-.9zM116.1 268.1h.9v.9h-.9zM117.7 249.0h.9v.9h-.9zM111.8 275.0h.9v.9h-.9zM109.9 257.8h.9v.9h-.9zM104.2 269.2h.9v.9h-.9zM108.6 266.3h.9v.9h-.9zM112.9 261.9h.9v.9h-.9zM123.0 251.0h.9v.9h-.9zM122.0 256.5h.9v.9h-.9zM111.5 259.8h.9v.9h-.9zM97.9 273.5h.9v.9h-.9zM115.2 270.8h.9v.9h-.9zM117.0 263.8h.9v.9h-.9zM100.0 273.3h.9v.9h-.9zM108.6 269.6h.9v.9h-.9zM113.4 251.0h.9v.9h-.9zM114.9 260.8h.9v.9h-.9zM116.6 274.7h.9v.9h-.9zM121.5 264.8h.9v.9h-.9zM116.8 268.7h.9v.9h-.9zM108.6 268.5h.9v.9h-.9zM125.3 247.0h.9v.9h-.9zM110.8 266.0h.9v.9h-.9zM107.6 266.2h.9v.9h-.9zM111.0 257.3h.9v.9h-.9zM106.4 269.6h.9v.9h-.9zM109.4 270.7h.9v.9h-.9zM118.4 256.9h.9v.9h-.9zM117.7 248.4h.9v.9h-.9zM121.0 267.7h.9v.9h-.9zM117.4 273.6h.9v.9h-.9zM113.9 245.0h.9v.9h-.9zM113.2 265.0h.9v.9h-.9zM115.3 260.1h.9v.9h-.9zM114.5 267.3h.9v.9h-.9zM120.6 248.8h.9v.9h-.9zM113.1 259.2h.9v.9h-.9zM118.1 249.4h.9v.9h-.9zM116.6 253.4h.9v.9h-.9zM112.8 271.2h.9v.9h-.9zM111.4 254.5h.9v.9h-.9zM120.0 255.6h.9v.9h-.9zM111.0 260.8h.9v.9h-.9zM123.9 242.4h.9v.9h-.9zM110.3 264.3h.9v.9h-.9zM105.9 276.8h.9v.9h-.9zM115.4 260.0h.9v.9h-.9zM119.9 246.1h.9v.9h-.9zM119.1 246.2h.9v.9h-.9zM111.1 272.9h.9v.9h-.9zM117.2 236.1h.9v.9h-.9zM116.4 269.2h.9v.9h-.9zM115.7 247.9h.9v.9h-.9zM108.3 258.6h.9v.9h-.9zM110.8 252.8h.9v.9h-.9zM118.9 255.1h.9v.9h-.9zM125.9 255.9h.9v.9h-.9zM110.3 248.2h.9v.9h-.9zM109.2 246.1h.9v.9h-.9zM114.1 270.0h.9v.9h-.9zM114.3 259.9h.9v.9h-.9zM115.5 261.8h.9v.9h-.9zM120.6 276.1h.9v.9h-.9zM111.1 265.6h.9v.9h-.9zM124.9 270.1h.9v.9h-.9zM112.3 272.2h.9v.9h-.9zM110.4 258.4h.9v.9h-.9zM116.7 247.0h.9v.9h-.9zM110.8 261.3h.9v.9h-.9zM121.1 248.3h.9v.9h-.9zM112.4 252.9h.9v.9h-.9zM108.9 249.6h.9v.9h-.9zM115.2 261.3h.9v.9h-.9zM115.9 252.6h.9v.9h-.9zM124.4 254.8h.9v.9h-.9zM112.2 257.6h.9v.9h-.9zM109.2 279.1h.9v.9h-.9zM119.1 260.6h.9v.9h-.9zM120.8 264.9h.9v.9h-.9zM97.5 271.0h.9v.9h-.9zM115.2 246.8h.9v.9h-.9zM117.3 256.1h.9v.9h-.9zM117.7 261.6h.9v.9h-.9zM114.7 272.1h.9v.9h-.9zM117.3 265.6h.9v.9h-.9zM111.7 257.0h.9v.9h-.9zM119.6 265.6h.9v.9h-.9zM125.9 257.5h.9v.9h-.9zM119.1 249.4h.9v.9h-.9zM115.6 258.6h.9v.9h-.9zM124.7 245.8h.9v.9h-.9zM116.9 274.6h.9v.9h-.9zM110.0 254.3h.9v.9h-.9zM115.4 268.3h.9v.9h-.9zM110.6 266.3h.9v.9h-.9zM118.3 254.8h.9v.9h-.9zM120.1 263.7h.9v.9h-.9zM120.0 261.0h.9v.9h-.9zM112.6 247.6h.9v.9h-.9zM114.7 261.9h.9v.9h-.9zM113.1 265.2h.9v.9h-.9zM123.3 242.7h.9v.9h-.9zM118.5 256.4h.9v.9h-.9zM120.3 257.2h.9v.9h-.9zM116.9 255.7h.9v.9h-.9zM114.8 246.6h.9v.9h-.9zM124.5 242.3h.9v.9h-.9zM103.2 253.6h.9v.9h-.9zM118.4 261.8h.9v.9h-.9zM114.2 251.4h.9v.9h-.9zM121.1 248.7h.9v.9h-.9zM115.1 260.1h.9v.9h-.9zM119.1 258.2h.9v.9h-.9zM109.1 270.1h.9v.9h-.9zM113.5 258.8h.9v.9h-.9zM127.4 262.9h.9v.9h-.9zM117.1 259.7h.9v.9h-.9zM116.0 248.2h.9v.9h-.9zM121.5 257.0h.9v.9h-.9zM111.1 274.9h.9v.9h-.9zM113.9 250.7h.9v.9h-.9zM112.8 256.2h.9v.9h-.9zM118.4 254.6h.9v.9h-.9zM120.6 257.3h.9v.9h-.9zM109.5 274.5h.9v.9h-.9zM119.7 260.1h.9v.9h-.9zM112.5 255.3h.9v.9h-.9zM109.7 249.4h.9v.9h-.9zM118.2 262.6h.9v.9h-.9zM110.6 254.5h.9v.9h-.9zM107.4 271.5h.9v.9h-.9zM114.3 259.3h.9v.9h-.9zM114.4 257.7h.9v.9h-.9zM112.2 263.6h.9v.9h-.9zM121.6 250.1h.9v.9h-.9zM111.7 248.4h.9v.9h-.9zM102.8 268.8h.9v.9h-.9zM118.2 249.9h.9v.9h-.9zM114.9 263.8h.9v.9h-.9zM117.7 260.1h.9v.9h-.9zM117.1 283.2h.9v.9h-.9zM116.5 266.1h.9v.9h-.9zM119.8 250.6h.9v.9h-.9zM118.5 261.3h.9v.9h-.9zM116.8 262.0h.9v.9h-.9zM115.5 261.2h.9v.9h-.9zM109.2 248.0h.9v.9h-.9zM118.5 275.4h.9v.9h-.9zM119.5 269.0h.9v.9h-.9zM113.0 266.9h.9v.9h-.9zM111.2 261.2h.9v.9h-.9zM112.4 274.7h.9v.9h-.9zM114.3 257.9h.9v.9h-.9zM124.6 257.0h.9v.9h-.9zM107.4 269.3h.9v.9h-.9zM118.1 265.7h.9v.9h-.9zM110.1 259.4h.9v.9h-.9zM114.2 259.2h.9v.9h-.9zM110.7 270.7h.9v.9h-.9zM112.4 263.7h.9v.9h-.9zM112.4 258.8h.9v.9h-.9zM117.5 254.0h.9v.9h-.9zM117.1 266.5h.9v.9h-.9zM107.8 259.0h.9v.9h-.9zM114.4 259.9h.9v.9h-.9zM107.6 267.8h.9v.9h-.9zM110.6 271.1h.9v.9h-.9zM110.6 276.4h.9v.9h-.9zM114.8 250.7h.9v.9h-.9zM110.2 263.2h.9v.9h-.9zM108.0 260.0h.9v.9h-.9zM125.1 263.5h.9v.9h-.9zM113.0 249.9h.9v.9h-.9zM116.4 258.5h.9v.9h-.9zM102.4 271.0h.9v.9h-.9zM119.6 244.9h.9v.9h-.9zM118.0 263.2h.9v.9h-.9zM110.3 279.4h.9v.9h-.9zM108.1 256.1h.9v.9h-.9zM113.6 272.8h.9v.9h-.9zM122.0 269.6h.9v.9h-.9zM121.6 258.4h.9v.9h-.9zM116.3 253.8h.9v.9h-.9zM115.8 249.1h.9v.9h-.9zM114.4 263.7h.9v.9h-.9zM110.5 276.1h.9v.9h-.9zM110.3 255.6h.9v.9h-.9zM119.1 245.7h.9v.9h-.9zM130.1 243.3h.9v.9h-.9zM117.2 270.0h.9v.9h-.9zM112.9 243.4h.9v.9h-.9zM117.4 259.9h.9v.9h-.9zM116.1 275.8h.9v.9h-.9zM109.5 275.7h.9v.9h-.9zM101.9 263.6h.9v.9h-.9zM119.9 258.4h.9v.9h-.9zM116.3 268.1h.9v.9h-.9zM116.9 252.6h.9v.9h-.9zM123.2 241.2h.9v.9h-.9zM117.1 260.0h.9v.9h-.9zM109.5 269.7h.9v.9h-.9zM117.9 253.6h.9v.9h-.9zM114.4 246.8h.9v.9h-.9zM118.1 258.1h.9v.9h-.9zM113.2 261.2h.9v.9h-.9zM108.8 273.4h.9v.9h-.9zM116.3 264.5h.9v.9h-.9zM112.7 251.8h.9v.9h-.9zM113.2 250.7h.9v.9h-.9zM114.3 248.2h.9v.9h-.9zM117.0 273.9h.9v.9h-.9zM121.5 257.5h.9v.9h-.9zM102.9 268.4h.9v.9h-.9zM115.2 271.3h.9v.9h-.9zM110.8 259.0h.9v.9h-.9zM122.5 245.3h.9v.9h-.9zM121.4 246.3h.9v.9h-.9zM99.9 277.8h.9v.9h-.9zM115.4 283.0h.9v.9h-.9zM118.8 250.1h.9v.9h-.9zM109.8 267.5h.9v.9h-.9zM108.9 265.2h.9v.9h-.9zM114.1 261.2h.9v.9h-.9zM108.4 262.1h.9v.9h-.9zM112.3 254.4h.9v.9h-.9zM116.1 272.3h.9v.9h-.9zM105.9 266.6h.9v.9h-.9zM111.5 259.1h.9v.9h-.9zM119.0 257.4h.9v.9h-.9zM104.5 278.3h.9v.9h-.9zM117.6 267.5h.9v.9h-.9zM120.7 257.0h.9v.9h-.9zM117.3 266.3h.9v.9h-.9zM113.7 286.5h.9v.9h-.9zM113.1 257.0h.9v.9h-.9zM109.1 272.0h.9v.9h-.9zM114.0 260.7h.9v.9h-.9zM109.6 258.7h.9v.9h-.9zM104.8 258.6h.9v.9h-.9zM106.2 274.0h.9v.9h-.9zM122.0 263.7h.9v.9h-.9zM104.7 267.4h.9v.9h-.9zM109.0 274.4h.9v.9h-.9zM110.2 270.3h.9v.9h-.9zM108.6 273.9h.9v.9h-.9zM123.7 259.8h.9v.9h-.9zM119.9 268.8h.9v.9h-.9zM117.5 269.3h.9v.9h-.9zM111.6 257.6h.9v.9h-.9zM111.2 279.9h.9v.9h-.9zM111.1 264.7h.9v.9h-.9zM117.6 267.0h.9v.9h-.9zM112.6 261.7h.9v.9h-.9zM104.7 269.0h.9v.9h-.9zM109.5 260.8h.9v.9h-.9zM113.7 262.9h.9v.9h-.9zM100.3 272.2h.9v.9h-.9zM112.2 270.6h.9v.9h-.9zM111.3 273.9h.9v.9h-.9zM115.3 254.7h.9v.9h-.9zM117.8 262.9h.9v.9h-.9zM124.0 246.6h.9v.9h-.9zM108.8 266.2h.9v.9h-.9zM104.8 269.0h.9v.9h-.9zM118.4 247.2h.9v.9h-.9zM111.9 278.0h.9v.9h-.9zM113.3 250.2h.9v.9h-.9zM115.1 249.6h.9v.9h-.9zM119.1 244.2h.9v.9h-.9zM117.8 264.1h.9v.9h-.9zM116.9 237.6h.9v.9h-.9zM111.3 279.0h.9v.9h-.9zM126.5 248.5h.9v.9h-.9zM110.7 268.8h.9v.9h-.9zM105.4 261.6h.9v.9h-.9zM115.1 265.8h.9v.9h-.9zM111.8 266.4h.9v.9h-.9zM120.5 258.0h.9v.9h-.9zM122.3 262.2h.9v.9h-.9zM110.7 267.7h.9v.9h-.9zM111.2 264.1h.9v.9h-.9zM120.2 246.4h.9v.9h-.9zM108.1 254.7h.9v.9h-.9zM114.9 247.1h.9v.9h-.9zM113.3 268.8h.9v.9h-.9zM118.9 252.3h.9v.9h-.9zM111.6 262.8h.9v.9h-.9zM115.1 257.8h.9v.9h-.9zM104.4 278.6h.9v.9h-.9zM114.6 258.6h.9v.9h-.9zM111.3 278.2h.9v.9h-.9zM122.1 257.9h.9v.9h-.9zM108.2 251.9h.9v.9h-.9zM120.9 247.4h.9v.9h-.9zM119.1 252.6h.9v.9h-.9zM108.7 264.9h.9v.9h-.9zM116.4 254.1h.9v.9h-.9zM117.1 267.5h.9v.9h-.9zM110.8 266.4h.9v.9h-.9zM113.2 269.2h.9v.9h-.9zM103.7 279.1h.9v.9h-.9zM116.1 259.8h.9v.9h-.9zM117.7 274.5h.9v.9h-.9zM111.9 255.2h.9v.9h-.9zM102.9 278.6h.9v.9h-.9zM104.6 257.8h.9v.9h-.9zM114.5 265.7h.9v.9h-.9zM115.2 261.1h.9v.9h-.9zM119.5 247.2h.9v.9h-.9zM119.6 254.2h.9v.9h-.9zM118.7 250.8h.9v.9h-.9zM121.1 271.6h.9v.9h-.9zM116.3 258.9h.9v.9h-.9zM115.2 262.4h.9v.9h-.9zM113.9 257.1h.9v.9h-.9zM115.5 259.1h.9v.9h-.9zM108.1 276.2h.9v.9h-.9zM110.0 279.3h.9v.9h-.9zM111.3 270.4h.9v.9h-.9zM103.9 285.1h.9v.9h-.9zM111.6 267.9h.9v.9h-.9zM126.9 244.4h.9v.9h-.9zM109.8 268.6h.9v.9h-.9zM108.4 272.0h.9v.9h-.9zM112.3 262.9h.9v.9h-.9zM110.7 256.7h.9v.9h-.9zM118.0 241.6h.9v.9h-.9zM106.7 260.9h.9v.9h-.9zM112.1 276.2h.9v.9h-.9zM112.6 276.2h.9v.9h-.9zM114.1 237.9h.9v.9h-.9zM121.9 240.0h.9v.9h-.9zM121.2 269.0h.9v.9h-.9zM116.7 258.0h.9v.9h-.9zM116.8 268.0h.9v.9h-.9zM102.8 251.6h.9v.9h-.9zM121.2 253.3h.9v.9h-.9zM111.5 261.6h.9v.9h-.9zM107.1 258.2h.9v.9h-.9zM115.3 261.6h.9v.9h-.9zM111.8 263.4h.9v.9h-.9zM115.1 263.9h.9v.9h-.9zM119.9 255.1h.9v.9h-.9zM113.8 268.7h.9v.9h-.9zM121.4 244.8h.9v.9h-.9zM118.3 273.7h.9v.9h-.9zM112.3 254.1h.9v.9h-.9zM114.5 250.0h.9v.9h-.9zM111.8 256.1h.9v.9h-.9zM117.3 279.5h.9v.9h-.9zM111.9 264.7h.9v.9h-.9zM110.7 271.3h.9v.9h-.9zM123.5 255.2h.9v.9h-.9zM118.9 269.0h.9v.9h-.9zM102.2 273.9h.9v.9h-.9zM116.7 265.4h.9v.9h-.9zM117.4 251.9h.9v.9h-.9zM111.7 263.4h.9v.9h-.9zM110.0 255.0h.9v.9h-.9zM124.6 249.2h.9v.9h-.9zM111.4 269.1h.9v.9h-.9zM112.7 254.6h.9v.9h-.9zM109.9 251.7h.9v.9h-.9zM107.2 266.3h.9v.9h-.9zM121.9 240.2h.9v.9h-.9zM111.9 256.0h.9v.9h-.9zM129.0 240.3h.9v.9h-.9zM101.6 268.0h.9v.9h-.9zM128.1 260.7h.9v.9h-.9zM119.6 274.8h.9v.9h-.9zM123.5 261.4h.9v.9h-.9zM119.0 249.8h.9v.9h-.9zM98.2 285.0h.9v.9h-.9zM116.2 272.5h.9v.9h-.9zM114.2 269.1h.9v.9h-.9zM122.1 259.6h.9v.9h-.9zM109.0 259.5h.9v.9h-.9zM121.4 257.1h.9v.9h-.9zM115.9 255.6h.9v.9h-.9zM111.4 273.2h.9v.9h-.9zM117.4 261.7h.9v.9h-.9zM106.4 259.6h.9v.9h-.9zM116.8 257.9h.9v.9h-.9zM109.9 266.1h.9v.9h-.9zM117.8 254.3h.9v.9h-.9zM109.5 272.2h.9v.9h-.9zM116.3 258.0h.9v.9h-.9zM119.2 267.2h.9v.9h-.9zM119.6 242.1h.9v.9h-.9zM119.8 255.8h.9v.9h-.9zM119.6 268.0h.9v.9h-.9zM111.7 245.4h.9v.9h-.9zM104.8 277.8h.9v.9h-.9zM119.1 263.1h.9v.9h-.9zM111.0 272.9h.9v.9h-.9zM124.1 259.0h.9v.9h-.9zM112.7 277.6h.9v.9h-.9zM118.8 257.8h.9v.9h-.9zM117.2 245.5h.9v.9h-.9zM115.2 270.5h.9v.9h-.9zM108.4 264.6h.9v.9h-.9zM122.0 265.5h.9v.9h-.9zM112.9 263.3h.9v.9h-.9zM118.1 265.8h.9v.9h-.9zM116.1 253.0h.9v.9h-.9zM114.1 262.0h.9v.9h-.9zM117.9 253.4h.9v.9h-.9zM121.6 264.8h.9v.9h-.9zM121.4 257.7h.9v.9h-.9zM107.7 270.6h.9v.9h-.9zM107.1 268.0h.9v.9h-.9zM120.3 275.7h.9v.9h-.9zM107.4 259.5h.9v.9h-.9zM112.6 255.6h.9v.9h-.9zM106.6 267.1h.9v.9h-.9zM99.2 279.3h.9v.9h-.9zM118.6 247.5h.9v.9h-.9zM123.8 254.5h.9v.9h-.9zM109.2 268.0h.9v.9h-.9zM103.2 257.7h.9v.9h-.9zM121.1 263.7h.9v.9h-.9zM124.9 264.6h.9v.9h-.9zM117.5 265.5h.9v.9h-.9zM104.2 265.1h.9v.9h-.9zM107.6 255.8h.9v.9h-.9zM109.1 264.0h.9v.9h-.9zM111.5 261.9h.9v.9h-.9zM110.6 256.7h.9v.9h-.9zM117.8 257.8h.9v.9h-.9zM113.6 244.8h.9v.9h-.9zM110.3 267.7h.9v.9h-.9zM118.8 257.8h.9v.9h-.9zM104.8 269.2h.9v.9h-.9zM112.1 271.1h.9v.9h-.9zM115.4 269.8h.9v.9h-.9zM112.8 271.7h.9v.9h-.9zM123.4 256.7h.9v.9h-.9zM116.9 256.7h.9v.9h-.9zM118.4 259.3h.9v.9h-.9zM118.7 256.7h.9v.9h-.9zM100.1 268.8h.9v.9h-.9zM106.8 258.5h.9v.9h-.9zM115.6 263.2h.9v.9h-.9zM107.5 269.2h.9v.9h-.9zM106.3 250.1h.9v.9h-.9zM117.0 259.8h.9v.9h-.9zM108.6 268.1h.9v.9h-.9zM112.9 265.8h.9v.9h-.9zM113.8 254.5h.9v.9h-.9zM104.1 266.6h.9v.9h-.9zM120.7 267.9h.9v.9h-.9zM113.2 265.1h.9v.9h-.9zM107.7 257.8h.9v.9h-.9zM112.4 252.7h.9v.9h-.9zM116.7 261.6h.9v.9h-.9zM116.0 263.0h.9v.9h-.9zM104.8 256.0h.9v.9h-.9zM116.4 249.6h.9v.9h-.9zM103.8 259.9h.9v.9h-.9zM119.1 257.8h.9v.9h-.9zM102.0 269.2h.9v.9h-.9zM110.4 265.5h.9v.9h-.9zM114.6 268.4h.9v.9h-.9zM113.5 261.5h.9v.9h-.9zM122.8 255.6h.9v.9h-.9zM127.9 261.0h.9v.9h-.9zM113.5 251.1h.9v.9h-.9zM105.2 262.5h.9v.9h-.9zM116.6 264.4h.9v.9h-.9zM112.9 248.9h.9v.9h-.9zM111.7 260.6h.9v.9h-.9zM116.8 248.9h.9v.9h-.9zM102.3 282.3h.9v.9h-.9zM106.5 269.1h.9v.9h-.9zM117.9 251.3h.9v.9h-.9zM112.6 249.4h.9v.9h-.9zM113.9 255.5h.9v.9h-.9zM109.9 257.2h.9v.9h-.9zM110.1 254.2h.9v.9h-.9zM119.3 241.5h.9v.9h-.9zM111.8 272.7h.9v.9h-.9zM119.1 254.8h.9v.9h-.9zM111.2 274.6h.9v.9h-.9zM118.9 274.1h.9v.9h-.9zM111.6 253.9h.9v.9h-.9zM112.8 258.2h.9v.9h-.9zM117.1 253.9h.9v.9h-.9zM120.4 250.9h.9v.9h-.9zM112.1 273.0h.9v.9h-.9zM112.6 267.8h.9v.9h-.9zM116.6 248.8h.9v.9h-.9zM118.8 263.6h.9v.9h-.9zM115.5 260.1h.9v.9h-.9zM111.6 252.0h.9v.9h-.9zM117.9 255.3h.9v.9h-.9zM107.2 288.5h.9v.9h-.9zM110.0 254.5h.9v.9h-.9zM113.1 262.1h.9v.9h-.9zM112.8 258.0h.9v.9h-.9zM114.2 246.5h.9v.9h-.9zM113.6 263.7h.9v.9h-.9zM122.5 248.6h.9v.9h-.9zM118.3 253.6h.9v.9h-.9zM114.1 258.5h.9v.9h-.9zM117.4 257.8h.9v.9h-.9zM103.4 257.3h.9v.9h-.9zM111.5 267.9h.9v.9h-.9zM112.3 268.6h.9v.9h-.9zM109.2 265.5h.9v.9h-.9zM119.4 259.7h.9v.9h-.9zM117.0 270.4h.9v.9h-.9zM118.7 267.4h.9v.9h-.9zM118.4 264.3h.9v.9h-.9zM110.8 274.2h.9v.9h-.9zM106.9 268.3h.9v.9h-.9zM108.6 267.1h.9v.9h-.9zM120.9 263.3h.9v.9h-.9zM112.5 263.2h.9v.9h-.9zM110.7 263.9h.9v.9h-.9zM115.7 251.2h.9v.9h-.9zM110.1 265.9h.9v.9h-.9zM113.4 251.4h.9v.9h-.9zM108.5 263.8h.9v.9h-.9zM118.8 252.7h.9v.9h-.9zM110.2 272.8h.9v.9h-.9zM103.6 273.5h.9v.9h-.9zM112.8 274.8h.9v.9h-.9zM119.2 256.0h.9v.9h-.9zM112.9 266.5h.9v.9h-.9zM117.0 261.4h.9v.9h-.9zM117.2 262.9h.9v.9h-.9zM120.4 270.3h.9v.9h-.9zM108.1 250.3h.9v.9h-.9zM120.4 242.6h.9v.9h-.9zM109.7 258.2h.9v.9h-.9zM120.1 249.0h.9v.9h-.9zM113.2 249.3h.9v.9h-.9zM116.7 270.2h.9v.9h-.9zM128.6 249.4h.9v.9h-.9zM121.6 261.5h.9v.9h-.9zM108.9 257.5h.9v.9h-.9zM119.1 263.8h.9v.9h-.9zM115.7 271.2h.9v.9h-.9zM102.4 260.5h.9v.9h-.9zM107.7 259.6h.9v.9h-.9zM120.5 253.3h.9v.9h-.9zM123.1 251.4h.9v.9h-.9zM116.0 259.7h.9v.9h-.9zM116.7 256.2h.9v.9h-.9zM108.9 265.4h.9v.9h-.9zM112.1 238.5h.9v.9h-.9zM121.4 262.5h.9v.9h-.9zM117.8 273.3h.9v.9h-.9zM114.6 245.4h.9v.9h-.9zM114.8 249.8h.9v.9h-.9zM112.2 258.7h.9v.9h-.9zM116.5 278.0h.9v.9h-.9zM109.6 248.3h.9v.9h-.9zM109.5 254.3h.9v.9h-.9zM124.3 254.0h.9v.9h-.9zM120.1 253.6h.9v.9h-.9zM110.9 258.6h.9v.9h-.9zM116.8 267.5h.9v.9h-.9zM111.7 274.3h.9v.9h-.9zM112.3 262.8h.9v.9h-.9zM108.6 281.0h.9v.9h-.9zM118.2 247.4h.9v.9h-.9zM109.0 264.3h.9v.9h-.9zM110.4 286.2h.9v.9h-.9zM126.6 249.5h.9v.9h-.9zM106.1 256.3h.9v.9h-.9zM118.5 245.9h.9v.9h-.9zM118.5 253.4h.9v.9h-.9zM122.6 257.2h.9v.9h-.9zM115.7 269.2h.9v.9h-.9zM107.7 264.1h.9v.9h-.9zM115.6 273.5h.9v.9h-.9zM116.5 250.8h.9v.9h-.9zM107.0 269.3h.9v.9h-.9zM124.2 260.9h.9v.9h-.9zM117.6 251.9h.9v.9h-.9zM115.3 259.0h.9v.9h-.9zM117.6 256.1h.9v.9h-.9zM115.2 272.9h.9v.9h-.9zM115.7 266.6h.9v.9h-.9zM123.0 235.8h.9v.9h-.9zM120.8 274.5h.9v.9h-.9zM120.1 255.7h.9v.9h-.9zM108.0 276.0h.9v.9h-.9zM120.4 262.0h.9v.9h-.9zM113.8 260.8h.9v.9h-.9zM119.8 279.7h.9v.9h-.9zM121.4 262.6h.9v.9h-.9zM111.9 257.5h.9v.9h-.9zM116.4 279.0h.9v.9h-.9zM117.8 259.7h.9v.9h-.9zM108.3 270.6h.9v.9h-.9zM105.0 261.2h.9v.9h-.9zM122.9 260.0h.9v.9h-.9zM111.6 275.4h.9v.9h-.9zM110.2 272.7h.9v.9h-.9zM114.4 246.2h.9v.9h-.9zM120.4 248.2h.9v.9h-.9zM108.7 258.1h.9v.9h-.9zM110.1 271.6h.9v.9h-.9zM118.5 258.7h.9v.9h-.9zM128.7 248.8h.9v.9h-.9zM112.5 256.0h.9v.9h-.9zM107.6 260.2h.9v.9h-.9zM123.4 255.5h.9v.9h-.9zM111.3 253.7h.9v.9h-.9zM107.8 262.6h.9v.9h-.9zM111.2 260.7h.9v.9h-.9zM109.7 259.2h.9v.9h-.9zM117.6 243.7h.9v.9h-.9zM112.2 258.8h.9v.9h-.9zM104.1 275.2h.9v.9h-.9zM115.8 271.5h.9v.9h-.9zM113.7 269.1h.9v.9h-.9zM117.1 253.9h.9v.9h-.9zM111.6 257.5h.9v.9h-.9zM111.1 262.4h.9v.9h-.9zM117.3 254.0h.9v.9h-.9zM117.7 244.1h.9v.9h-.9zM110.5 265.1h.9v.9h-.9zM103.7 261.4h.9v.9h-.9zM107.8 270.8h.9v.9h-.9zM111.3 259.7h.9v.9h-.9zM112.7 264.6h.9v.9h-.9zM114.8 263.5h.9v.9h-.9zM114.2 269.4h.9v.9h-.9zM111.1 273.7h.9v.9h-.9zM119.3 249.7h.9v.9h-.9zM118.2 255.3h.9v.9h-.9zM110.8 258.9h.9v.9h-.9zM105.3 288.8h.9v.9h-.9zM107.4 253.4h.9v.9h-.9zM115.7 246.8h.9v.9h-.9zM110.2 255.5h.9v.9h-.9zM123.5 245.8h.9v.9h-.9zM116.0 250.6h.9v.9h-.9zM111.7 248.0h.9v.9h-.9zM107.6 272.4h.9v.9h-.9zM114.4 267.4h.9v.9h-.9zM124.5 247.8h.9v.9h-.9zM110.0 249.9h.9v.9h-.9zM122.2 258.4h.9v.9h-.9zM123.4 244.3h.9v.9h-.9zM111.4 267.9h.9v.9h-.9zM116.1 249.9h.9v.9h-.9zM123.4 241.5h.9v.9h-.9zM111.5 278.2h.9v.9h-.9zM104.5 255.4h.9v.9h-.9zM120.4 246.4h.9v.9h-.9zM114.3 260.3h.9v.9h-.9zM117.1 255.0h.9v.9h-.9zM114.8 268.9h.9v.9h-.9zM106.4 265.5h.9v.9h-.9zM113.4 249.6h.9v.9h-.9zM108.1 282.4h.9v.9h-.9zM102.9 269.7h.9v.9h-.9zM124.0 256.8h.9v.9h-.9zM110.2 260.8h.9v.9h-.9zM123.2 245.2h.9v.9h-.9zM119.4 249.3h.9v.9h-.9zM112.6 261.5h.9v.9h-.9zM116.7 243.8h.9v.9h-.9zM101.5 275.1h.9v.9h-.9zM116.5 261.5h.9v.9h-.9zM113.6 263.8h.9v.9h-.9zM108.8 260.8h.9v.9h-.9zM121.8 258.5h.9v.9h-.9zM116.8 249.7h.9v.9h-.9zM110.5 264.6h.9v.9h-.9zM106.7 253.2h.9v.9h-.9zM124.3 255.4h.9v.9h-.9zM125.9 245.2h.9v.9h-.9zM103.7 264.7h.9v.9h-.9zM115.8 255.6h.9v.9h-.9zM118.3 261.9h.9v.9h-.9zM120.9 253.5h.9v.9h-.9zM125.3 253.8h.9v.9h-.9zM99.8 255.5h.9v.9h-.9zM117.5 274.2h.9v.9h-.9zM110.8 270.4h.9v.9h-.9zM119.7 262.3h.9v.9h-.9zM121.0 260.3h.9v.9h-.9zM119.9 262.1h.9v.9h-.9zM107.4 261.1h.9v.9h-.9zM112.9 257.6h.9v.9h-.9zM104.7 276.9h.9v.9h-.9zM112.3 245.8h.9v.9h-.9zM116.6 273.6h.9v.9h-.9zM96.0 258.7h.9v.9h-.9zM116.2 270.3h.9v.9h-.9zM120.0 249.5h.9v.9h-.9zM126.8 250.2h.9v.9h-.9zM111.4 256.2h.9v.9h-.9zM106.5 270.6h.9v.9h-.9zM108.5 270.1h.9v.9h-.9zM106.8 278.8h.9v.9h-.9zM107.9 262.4h.9v.9h-.9zM114.5 261.5h.9v.9h-.9zM117.0 252.6h.9v.9h-.9zM117.1 241.4h.9v.9h-.9zM116.0 256.5h.9v.9h-.9zM111.5 253.9h.9v.9h-.9zM122.6 280.1h.9v.9h-.9zM119.0 266.8h.9v.9h-.9zM116.3 258.8h.9v.9h-.9zM107.0 277.9h.9v.9h-.9zM112.8 239.8h.9v.9h-.9zM107.1 269.8h.9v.9h-.9zM112.6 264.5h.9v.9h-.9zM120.8 238.7h.9v.9h-.9zM114.0 257.7h.9v.9h-.9zM112.4 249.0h.9v.9h-.9zM114.0 255.4h.9v.9h-.9zM113.2 252.3h.9v.9h-.9zM113.9 268.4h.9v.9h-.9zM125.4 269.4h.9v.9h-.9zM115.3 263.3h.9v.9h-.9zM109.0 247.2h.9v.9h-.9zM116.3 263.1h.9v.9h-.9zM109.1 261.9h.9v.9h-.9zM114.3 263.1h.9v.9h-.9zM110.4 250.9h.9v.9h-.9zM115.6 261.7h.9v.9h-.9zM107.0 273.0h.9v.9h-.9zM118.6 264.3h.9v.9h-.9zM118.1 259.2h.9v.9h-.9zM116.6 256.3h.9v.9h-.9zM111.8 265.1h.9v.9h-.9zM113.9 255.7h.9v.9h-.9zM128.3 243.3h.9v.9h-.9zM106.7 247.8h.9v.9h-.9zM113.6 267.4h.9v.9h-.9zM115.0 260.9h.9v.9h-.9zM115.8 260.2h.9v.9h-.9zM114.1 250.4h.9v.9h-.9zM124.2 252.9h.9v.9h-.9zM123.5 246.3h.9v.9h-.9zM121.2 253.6h.9v.9h-.9zM115.5 253.3h.9v.9h-.9zM108.7 264.6h.9v.9h-.9zM107.7 258.1h.9v.9h-.9zM115.5 255.0h.9v.9h-.9zM112.3 269.0h.9v.9h-.9zM119.9 260.5h.9v.9h-.9zM113.1 261.6h.9v.9h-.9zM117.0 258.5h.9v.9h-.9zM108.3 274.4h.9v.9h-.9zM120.2 259.3h.9v.9h-.9zM112.9 269.5h.9v.9h-.9zM119.7 253.0h.9v.9h-.9zM111.2 277.9h.9v.9h-.9zM124.8 258.1h.9v.9h-.9zM107.5 270.2h.9v.9h-.9zM107.7 265.9h.9v.9h-.9zM111.1 273.4h.9v.9h-.9zM118.3 265.3h.9v.9h-.9zM103.5 266.1h.9v.9h-.9zM111.1 272.6h.9v.9h-.9zM104.6 274.1h.9v.9h-.9zM110.8 267.7h.9v.9h-.9zM111.4 252.4h.9v.9h-.9zM120.5 253.8h.9v.9h-.9zM117.6 262.5h.9v.9h-.9zM105.9 262.7h.9v.9h-.9zM122.3 261.0h.9v.9h-.9zM110.3 269.9h.9v.9h-.9zM106.6 262.0h.9v.9h-.9zM108.0 254.0h.9v.9h-.9zM124.0 253.1h.9v.9h-.9zM114.1 268.4h.9v.9h-.9zM119.5 256.4h.9v.9h-.9zM105.7 275.3h.9v.9h-.9zM117.0 263.2h.9v.9h-.9zM116.9 257.0h.9v.9h-.9zM122.6 255.7h.9v.9h-.9zM120.4 247.1h.9v.9h-.9zM122.0 258.3h.9v.9h-.9zM115.9 238.2h.9v.9h-.9zM113.2 267.0h.9v.9h-.9zM115.0 270.5h.9v.9h-.9zM109.4 268.3h.9v.9h-.9zM112.7 253.7h.9v.9h-.9zM107.9 267.2h.9v.9h-.9zM115.8 262.4h.9v.9h-.9zM118.6 238.9h.9v.9h-.9zM108.0 273.0h.9v.9h-.9zM111.3 267.8h.9v.9h-.9zM111.2 259.7h.9v.9h-.9zM124.4 232.6h.9v.9h-.9zM113.8 278.8h.9v.9h-.9zM123.4 254.2h.9v.9h-.9zM111.9 253.4h.9v.9h-.9zM113.6 263.4h.9v.9h-.9zM109.2 256.9h.9v.9h-.9zM119.2 264.6h.9v.9h-.9zM111.0 252.9h.9v.9h-.9zM110.1 267.6h.9v.9h-.9zM109.8 266.3h.9v.9h-.9zM119.3 256.8h.9v.9h-.9zM120.1 251.6h.9v.9h-.9zM102.6 269.8h.9v.9h-.9zM114.2 275.2h.9v.9h-.9zM118.8 258.1h.9v.9h-.9zM111.4 258.8h.9v.9h-.9zM119.9 250.8h.9v.9h-.9zM111.3 263.6h.9v.9h-.9zM128.5 261.5h.9v.9h-.9zM114.7 260.4h.9v.9h-.9zM123.0 249.4h.9v.9h-.9zM115.6 262.6h.9v.9h-.9zM121.5 255.1h.9v.9h-.9zM113.7 260.0h.9v.9h-.9zM118.3 257.7h.9v.9h-.9zM115.8 253.1h.9v.9h-.9zM110.1 266.1h.9v.9h-.9zM114.7 254.9h.9v.9h-.9zM117.5 262.7h.9v.9h-.9zM108.3 268.6h.9v.9h-.9zM111.4 255.6h.9v.9h-.9zM118.0 257.7h.9v.9h-.9zM108.0 276.7h.9v.9h-.9zM115.0 255.3h.9v.9h-.9zM116.5 261.5h.9v.9h-.9zM117.6 275.3h.9v.9h-.9zM121.0 243.3h.9v.9h-.9zM115.3 258.2h.9v.9h-.9zM113.1 254.3h.9v.9h-.9zM109.0 269.8h.9v.9h-.9zM116.6 271.4h.9v.9h-.9zM117.2 255.0h.9v.9h-.9zM114.2 265.3h.9v.9h-.9zM124.4 258.1h.9v.9h-.9zM115.2 253.5h.9v.9h-.9zM114.2 252.2h.9v.9h-.9zM114.3 258.8h.9v.9h-.9zM114.3 255.4h.9v.9h-.9zM110.6 256.2h.9v.9h-.9zM120.3 265.4h.9v.9h-.9zM105.6 278.7h.9v.9h-.9zM109.7 258.6h.9v.9h-.9zM114.7 244.8h.9v.9h-.9zM123.5 267.2h.9v.9h-.9zM112.0 265.2h.9v.9h-.9zM123.6 247.5h.9v.9h-.9zM119.7 263.9h.9v.9h-.9zM126.1 261.7h.9v.9h-.9zM114.5 269.0h.9v.9h-.9zM109.1 262.7h.9v.9h-.9zM109.1 259.0h.9v.9h-.9zM117.3 258.3h.9v.9h-.9zM118.0 248.7h.9v.9h-.9zM120.6 266.0h.9v.9h-.9zM118.1 250.6h.9v.9h-.9zM112.1 265.9h.9v.9h-.9zM121.3 250.2h.9v.9h-.9zM115.1 248.3h.9v.9h-.9zM119.7 242.3h.9v.9h-.9zM112.1 254.3h.9v.9h-.9zM102.8 274.9h.9v.9h-.9zM124.0 262.1h.9v.9h-.9zM113.4 264.6h.9v.9h-.9zM117.1 249.3h.9v.9h-.9zM123.6 255.4h.9v.9h-.9zM116.3 252.1h.9v.9h-.9zM121.0 258.4h.9v.9h-.9zM122.2 267.4h.9v.9h-.9zM115.9 271.5h.9v.9h-.9zM111.6 269.7h.9v.9h-.9zM124.6 239.2h.9v.9h-.9zM118.8 256.3h.9v.9h-.9zM103.0 283.8h.9v.9h-.9zM115.4 254.0h.9v.9h-.9zM117.3 265.0h.9v.9h-.9zM109.8 259.7h.9v.9h-.9zM127.5 245.1h.9v.9h-.9zM114.1 262.1h.9v.9h-.9zM116.9 256.5h.9v.9h-.9zM106.0 254.0h.9v.9h-.9zM116.9 254.3h.9v.9h-.9zM111.7 253.5h.9v.9h-.9zM120.2 262.8h.9v.9h-.9zM120.3 262.6h.9v.9h-.9zM103.6 261.8h.9v.9h-.9zM108.5 269.9h.9v.9h-.9zM108.9 265.6h.9v.9h-.9zM112.2 261.2h.9v.9h-.9zM117.0 245.2h.9v.9h-.9zM116.9 254.7h.9v.9h-.9zM117.1 252.0h.9v.9h-.9zM119.5 254.7h.9v.9h-.9zM107.6 274.1h.9v.9h-.9zM116.0 262.5h.9v.9h-.9zM111.9 267.2h.9v.9h-.9zM110.1 254.8h.9v.9h-.9zM118.8 268.4h.9v.9h-.9zM115.4 260.3h.9v.9h-.9zM111.6 254.1h.9v.9h-.9zM116.2 259.0h.9v.9h-.9zM109.3 256.6h.9v.9h-.9zM115.7 257.5h.9v.9h-.9zM110.3 251.3h.9v.9h-.9zM96.4 286.0h.9v.9h-.9zM104.7 279.0h.9v.9h-.9zM108.3 269.7h.9v.9h-.9zM112.4 260.8h.9v.9h-.9zM122.1 250.4h.9v.9h-.9zM115.0 261.8h.9v.9h-.9zM116.5 252.5h.9v.9h-.9zM110.1 249.3h.9v.9h-.9zM114.2 253.8h.9v.9h-.9zM100.1 269.8h.9v.9h-.9zM112.0 251.1h.9v.9h-.9zM120.2 254.0h.9v.9h-.9zM117.9 260.9h.9v.9h-.9zM109.1 255.2h.9v.9h-.9zM107.3 270.6h.9v.9h-.9zM107.5 274.0h.9v.9h-.9zM111.9 255.7h.9v.9h-.9zM108.7 258.9h.9v.9h-.9zM103.5 276.0h.9v.9h-.9zM109.3 259.1h.9v.9h-.9zM122.0 275.0h.9v.9h-.9zM114.7 247.0h.9v.9h-.9zM114.4 246.9h.9v.9h-.9zM121.0 253.6h.9v.9h-.9zM106.2 272.6h.9v.9h-.9zM123.3 261.9h.9v.9h-.9zM108.0 269.5h.9v.9h-.9zM121.6 254.7h.9v.9h-.9zM105.5 272.8h.9v.9h-.9zM118.2 248.4h.9v.9h-.9zM123.1 250.1h.9v.9h-.9zM117.0 267.2h.9v.9h-.9zM111.0 275.0h.9v.9h-.9zM113.5 258.2h.9v.9h-.9zM114.6 268.8h.9v.9h-.9zM117.6 250.8h.9v.9h-.9zM121.5 274.0h.9v.9h-.9zM100.3 280.5h.9v.9h-.9zM117.4 250.0h.9v.9h-.9zM118.5 257.6h.9v.9h-.9zM115.7 262.0h.9v.9h-.9zM110.4 272.2h.9v.9h-.9zM132.7 249.6h.9v.9h-.9zM117.5 254.0h.9v.9h-.9zM119.5 257.6h.9v.9h-.9zM119.7 240.1h.9v.9h-.9zM110.6 268.6h.9v.9h-.9zM108.5 268.3h.9v.9h-.9zM107.2 263.4h.9v.9h-.9zM118.2 247.9h.9v.9h-.9zM121.8 258.7h.9v.9h-.9zM115.4 266.9h.9v.9h-.9zM114.7 259.9h.9v.9h-.9zM117.2 259.4h.9v.9h-.9zM108.1 257.1h.9v.9h-.9zM113.5 273.3h.9v.9h-.9zM104.4 262.5h.9v.9h-.9zM104.0 262.9h.9v.9h-.9zM123.1 250.0h.9v.9h-.9zM119.0 252.7h.9v.9h-.9zM110.9 261.7h.9v.9h-.9zM103.5 263.7h.9v.9h-.9zM118.0 257.0h.9v.9h-.9zM120.6 257.8h.9v.9h-.9zM104.4 256.3h.9v.9h-.9zM114.9 265.7h.9v.9h-.9zM111.3 266.3h.9v.9h-.9zM115.5 270.8h.9v.9h-.9zM114.9 263.5h.9v.9h-.9zM118.1 260.9h.9v.9h-.9zM118.0 265.7h.9v.9h-.9zM116.4 262.0h.9v.9h-.9zM120.5 253.3h.9v.9h-.9zM120.2 260.7h.9v.9h-.9zM110.8 263.8h.9v.9h-.9zM108.4 267.6h.9v.9h-.9zM121.6 264.7h.9v.9h-.9zM111.0 262.7h.9v.9h-.9zM123.7 236.1h.9v.9h-.9zM111.1 267.2h.9v.9h-.9zM115.8 265.4h.9v.9h-.9zM102.9 264.4h.9v.9h-.9zM116.5 257.0h.9v.9h-.9zM117.4 257.1h.9v.9h-.9zM110.7 258.4h.9v.9h-.9zM114.1 259.7h.9v.9h-.9zM108.0 264.9h.9v.9h-.9zM114.0 268.4h.9v.9h-.9zM109.9 267.8h.9v.9h-.9zM114.4 266.2h.9v.9h-.9zM108.0 265.0h.9v.9h-.9zM107.3 263.4h.9v.9h-.9zM109.4 266.3h.9v.9h-.9zM120.7 274.9h.9v.9h-.9zM106.6 271.0h.9v.9h-.9zM113.5 269.0h.9v.9h-.9zM108.9 270.2h.9v.9h-.9zM108.5 264.4h.9v.9h-.9zM110.3 265.3h.9v.9h-.9zM114.5 255.2h.9v.9h-.9zM110.7 267.2h.9v.9h-.9zM116.7 277.3h.9v.9h-.9zM114.6 268.3h.9v.9h-.9zM119.3 260.1h.9v.9h-.9zM109.3 256.0h.9v.9h-.9zM111.1 270.7h.9v.9h-.9zM116.9 275.3h.9v.9h-.9zM113.3 255.9h.9v.9h-.9zM107.1 258.4h.9v.9h-.9zM112.6 266.9h.9v.9h-.9zM104.7 256.3h.9v.9h-.9zM121.9 258.2h.9v.9h-.9zM116.4 275.4h.9v.9h-.9zM114.7 257.6h.9v.9h-.9zM109.9 269.6h.9v.9h-.9zM113.1 268.7h.9v.9h-.9zM104.7 261.9h.9v.9h-.9zM119.2 252.6h.9v.9h-.9zM118.4 249.4h.9v.9h-.9zM112.5 287.3h.9v.9h-.9zM114.4 265.7h.9v.9h-.9zM107.6 261.8h.9v.9h-.9zM108.5 275.3h.9v.9h-.9zM128.0 254.3h.9v.9h-.9zM115.2 255.5h.9v.9h-.9zM117.7 259.5h.9v.9h-.9zM117.2 259.7h.9v.9h-.9zM111.7 265.2h.9v.9h-.9zM117.8 252.7h.9v.9h-.9zM116.8 271.9h.9v.9h-.9zM113.0 257.8h.9v.9h-.9zM112.0 258.6h.9v.9h-.9zM114.9 250.6h.9v.9h-.9zM101.2 269.3h.9v.9h-.9zM120.3 250.9h.9v.9h-.9zM111.3 265.0h.9v.9h-.9zM112.3 258.9h.9v.9h-.9zM118.5 262.8h.9v.9h-.9zM120.3 252.7h.9v.9h-.9zM102.4 273.0h.9v.9h-.9zM113.5 267.2h.9v.9h-.9zM114.8 261.1h.9v.9h-.9zM113.7 263.8h.9v.9h-.9zM115.9 264.8h.9v.9h-.9zM117.4 273.6h.9v.9h-.9zM114.7 264.8h.9v.9h-.9zM112.1 260.3h.9v.9h-.9zM106.0 268.9h.9v.9h-.9zM112.7 266.3h.9v.9h-.9zM110.6 258.1h.9v.9h-.9zM114.3 269.7h.9v.9h-.9zM109.4 256.8h.9v.9h-.9zM114.9 257.6h.9v.9h-.9zM114.4 259.2h.9v.9h-.9zM111.2 271.5h.9v.9h-.9zM108.7 272.5h.9v.9h-.9zM124.3 248.4h.9v.9h-.9zM114.6 261.7h.9v.9h-.9zM105.1 261.5h.9v.9h-.9zM104.4 259.8h.9v.9h-.9zM111.4 274.9h.9v.9h-.9zM122.7 263.1h.9v.9h-.9zM112.7 263.5h.9v.9h-.9zM105.8 263.6h.9v.9h-.9zM106.7 268.2h.9v.9h-.9zM107.8 252.6h.9v.9h-.9zM114.5 248.7h.9v.9h-.9zM111.3 261.4h.9v.9h-.9zM117.3 258.2h.9v.9h-.9zM112.7 252.8h.9v.9h-.9zM116.4 258.9h.9v.9h-.9zM119.0 280.3h.9v.9h-.9zM108.4 261.4h.9v.9h-.9zM112.2 264.8h.9v.9h-.9zM105.9 270.3h.9v.9h-.9zM122.1 259.4h.9v.9h-.9zM108.6 267.6h.9v.9h-.9zM120.3 262.0h.9v.9h-.9zM105.0 265.9h.9v.9h-.9zM112.3 261.3h.9v.9h-.9zM104.6 277.5h.9v.9h-.9zM112.5 259.5h.9v.9h-.9zM124.2 242.3h.9v.9h-.9zM120.8 248.3h.9v.9h-.9zM120.2 251.3h.9v.9h-.9zM117.9 261.6h.9v.9h-.9zM111.5 252.2h.9v.9h-.9zM107.6 270.8h.9v.9h-.9zM113.0 260.4h.9v.9h-.9zM110.4 267.7h.9v.9h-.9zM109.8 270.6h.9v.9h-.9zM112.1 234.8h.9v.9h-.9zM107.6 245.6h.9v.9h-.9zM107.2 264.8h.9v.9h-.9zM113.9 256.1h.9v.9h-.9zM112.6 271.3h.9v.9h-.9zM111.1 266.1h.9v.9h-.9zM105.8 268.0h.9v.9h-.9zM114.8 273.2h.9v.9h-.9zM106.7 259.9h.9v.9h-.9zM108.9 270.5h.9v.9h-.9zM110.9 268.8h.9v.9h-.9zM117.3 256.9h.9v.9h-.9zM126.4 255.2h.9v.9h-.9zM116.4 265.3h.9v.9h-.9zM119.7 269.7h.9v.9h-.9zM109.5 266.4h.9v.9h-.9zM130.2 230.8h.9v.9h-.9zM125.6 252.8h.9v.9h-.9zM105.5 262.9h.9v.9h-.9zM120.4 262.1h.9v.9h-.9zM125.5 236.3h.9v.9h-.9zM104.6 271.5h.9v.9h-.9zM112.8 264.3h.9v.9h-.9zM113.4 261.3h.9v.9h-.9zM112.8 240.5h.9v.9h-.9zM111.6 273.2h.9v.9h-.9zM121.0 247.7h.9v.9h-.9zM107.8 273.2h.9v.9h-.9zM109.3 282.7h.9v.9h-.9zM106.8 262.8h.9v.9h-.9zM106.7 268.7h.9v.9h-.9zM112.7 267.1h.9v.9h-.9zM117.0 257.6h.9v.9h-.9zM121.4 252.9h.9v.9h-.9zM110.9 249.6h.9v.9h-.9zM116.0 255.6h.9v.9h-.9zM116.0 262.5h.9v.9h-.9zM109.0 254.6h.9v.9h-.9zM110.1 266.7h.9v.9h-.9zM119.3 248.9h.9v.9h-.9zM114.4 244.2h.9v.9h-.9zM113.0 242.3h.9v.9h-.9zM122.2 253.6h.9v.9h-.9zM113.0 252.6h.9v.9h-.9zM104.6 262.2h.9v.9h-.9zM118.2 244.8h.9v.9h-.9zM122.4 252.5h.9v.9h-.9zM117.0 267.0h.9v.9h-.9zM117.5 265.1h.9v.9h-.9zM106.5 252.0h.9v.9h-.9zM124.5 254.4h.9v.9h-.9zM116.1 239.6h.9v.9h-.9zM106.6 253.9h.9v.9h-.9zM112.5 257.0h.9v.9h-.9zM113.9 248.3h.9v.9h-.9zM121.3 257.2h.9v.9h-.9zM121.2 247.9h.9v.9h-.9zM122.4 263.8h.9v.9h-.9zM119.3 257.2h.9v.9h-.9zM115.8 272.9h.9v.9h-.9zM126.7 252.3h.9v.9h-.9zM116.9 271.4h.9v.9h-.9zM113.2 260.3h.9v.9h-.9zM115.0 269.8h.9v.9h-.9zM116.3 262.9h.9v.9h-.9zM119.5 266.7h.9v.9h-.9zM121.1 264.6h.9v.9h-.9zM107.9 261.8h.9v.9h-.9zM117.8 254.7h.9v.9h-.9zM111.1 265.8h.9v.9h-.9zM109.1 255.4h.9v.9h-.9zM104.1 278.6h.9v.9h-.9zM107.6 261.6h.9v.9h-.9zM105.7 260.6h.9v.9h-.9zM104.5 282.8h.9v.9h-.9zM116.2 256.2h.9v.9h-.9zM112.2 251.2h.9v.9h-.9zM111.8 267.2h.9v.9h-.9zM113.3 250.5h.9v.9h-.9zM113.3 245.8h.9v.9h-.9zM122.2 245.9h.9v.9h-.9zM119.6 246.1h.9v.9h-.9zM117.1 278.9h.9v.9h-.9zM115.4 261.3h.9v.9h-.9zM107.5 281.8h.9v.9h-.9zM115.1 269.7h.9v.9h-.9zM114.3 267.9h.9v.9h-.9zM116.2 267.8h.9v.9h-.9zM115.7 260.4h.9v.9h-.9zM111.6 265.2h.9v.9h-.9zM115.9 282.3h.9v.9h-.9zM103.2 268.4h.9v.9h-.9zM114.4 258.9h.9v.9h-.9zM116.3 267.8h.9v.9h-.9zM121.8 249.1h.9v.9h-.9zM116.3 261.6h.9v.9h-.9zM110.2 269.1h.9v.9h-.9zM116.5 258.5h.9v.9h-.9zM119.1 255.4h.9v.9h-.9zM111.7 253.0h.9v.9h-.9zM106.1 278.4h.9v.9h-.9zM116.5 263.5h.9v.9h-.9zM106.1 279.6h.9v.9h-.9zM114.3 249.5h.9v.9h-.9zM122.5 255.8h.9v.9h-.9zM112.8 269.1h.9v.9h-.9zM125.2 253.7h.9v.9h-.9zM112.1 256.1h.9v.9h-.9zM120.9 255.8h.9v.9h-.9zM121.4 266.4h.9v.9h-.9zM116.9 254.0h.9v.9h-.9zM116.7 253.7h.9v.9h-.9zM115.3 255.4h.9v.9h-.9zM102.2 276.1h.9v.9h-.9zM119.2 266.7h.9v.9h-.9zM109.2 247.8h.9v.9h-.9zM114.7 258.4h.9v.9h-.9zM116.5 244.7h.9v.9h-.9zM112.8 269.1h.9v.9h-.9zM115.9 248.0h.9v.9h-.9zM104.0 269.7h.9v.9h-.9zM112.0 261.5h.9v.9h-.9zM118.1 255.6h.9v.9h-.9zM105.2 269.7h.9v.9h-.9zM113.5 262.0h.9v.9h-.9zM120.4 259.2h.9v.9h-.9zM110.6 265.1h.9v.9h-.9zM114.5 255.0h.9v.9h-.9zM104.3 279.8h.9v.9h-.9zM113.8 253.5h.9v.9h-.9zM114.0 259.2h.9v.9h-.9zM124.4 252.6h.9v.9h-.9zM116.0 260.1h.9v.9h-.9zM119.9 252.5h.9v.9h-.9zM112.8 256.1h.9v.9h-.9zM116.9 263.1h.9v.9h-.9zM118.6 240.5h.9v.9h-.9zM108.0 274.7h.9v.9h-.9zM113.6 263.2h.9v.9h-.9zM115.7 260.3h.9v.9h-.9zM115.2 250.8h.9v.9h-.9zM121.7 273.2h.9v.9h-.9zM117.5 258.4h.9v.9h-.9zM117.4 258.2h.9v.9h-.9zM116.4 261.3h.9v.9h-.9zM110.6 265.1h.9v.9h-.9zM119.0 257.2h.9v.9h-.9zM113.9 250.7h.9v.9h-.9zM119.3 264.7h.9v.9h-.9zM109.7 265.8h.9v.9h-.9zM117.1 250.2h.9v.9h-.9zM104.5 256.9h.9v.9h-.9zM114.6 258.9h.9v.9h-.9zM119.1 255.1h.9v.9h-.9zM115.4 251.8h.9v.9h-.9zM121.1 265.3h.9v.9h-.9zM105.2 276.6h.9v.9h-.9zM115.8 262.0h.9v.9h-.9zM113.2 266.0h.9v.9h-.9zM109.4 260.1h.9v.9h-.9zM114.1 258.6h.9v.9h-.9zM117.4 246.2h.9v.9h-.9zM126.6 256.9h.9v.9h-.9zM121.8 253.9h.9v.9h-.9zM116.9 249.5h.9v.9h-.9zM110.9 264.5h.9v.9h-.9zM119.9 251.7h.9v.9h-.9zM124.8 248.0h.9v.9h-.9zM115.1 261.4h.9v.9h-.9zM117.8 273.8h.9v.9h-.9zM121.8 252.7h.9v.9h-.9zM110.7 262.8h.9v.9h-.9zM117.4 268.6h.9v.9h-.9zM119.5 275.5h.9v.9h-.9zM122.7 257.2h.9v.9h-.9zM115.8 262.1h.9v.9h-.9zM110.8 255.3h.9v.9h-.9zM108.8 265.7h.9v.9h-.9zM117.4 268.9h.9v.9h-.9zM117.9 265.9h.9v.9h-.9zM119.4 260.1h.9v.9h-.9zM121.8 255.9h.9v.9h-.9zM108.5 257.0h.9v.9h-.9zM121.2 247.9h.9v.9h-.9zM105.8 276.3h.9v.9h-.9zM119.7 253.0h.9v.9h-.9zM112.5 263.8h.9v.9h-.9zM115.3 278.4h.9v.9h-.9zM107.4 276.4h.9v.9h-.9zM120.3 259.8h.9v.9h-.9zM102.2 271.3h.9v.9h-.9zM112.2 268.6h.9v.9h-.9zM105.9 274.9h.9v.9h-.9zM116.0 263.5h.9v.9h-.9zM118.7 246.5h.9v.9h-.9zM112.3 275.9h.9v.9h-.9zM108.6 264.6h.9v.9h-.9zM118.6 259.4h.9v.9h-.9zM114.0 259.4h.9v.9h-.9zM121.3 249.8h.9v.9h-.9zM112.2 267.7h.9v.9h-.9zM114.1 266.3h.9v.9h-.9zM108.6 256.5h.9v.9h-.9zM115.4 269.4h.9v.9h-.9zM116.7 268.2h.9v.9h-.9zM108.6 278.9h.9v.9h-.9zM107.4 270.3h.9v.9h-.9zM115.7 260.9h.9v.9h-.9zM115.9 259.6h.9v.9h-.9zM111.6 253.2h.9v.9h-.9zM107.8 274.4h.9v.9h-.9zM126.0 250.5h.9v.9h-.9zM115.5 238.0h.9v.9h-.9zM108.0 252.2h.9v.9h-.9zM114.0 263.0h.9v.9h-.9zM108.5 265.9h.9v.9h-.9zM118.5 258.2h.9v.9h-.9zM111.5 259.9h.9v.9h-.9zM121.5 255.4h.9v.9h-.9zM111.8 266.3h.9v.9h-.9zM116.4 264.5h.9v.9h-.9zM122.3 260.0h.9v.9h-.9zM108.4 249.3h.9v.9h-.9zM97.4 274.3h.9v.9h-.9zM100.7 256.9h.9v.9h-.9zM87.4 273.4h.9v.9h-.9zM89.3 270.6h.9v.9h-.9zM104.2 265.2h.9v.9h-.9zM101.8 272.6h.9v.9h-.9zM104.3 276.0h.9v.9h-.9zM94.5 255.2h.9v.9h-.9zM84.4 266.4h.9v.9h-.9zM109.0 266.9h.9v.9h-.9zM89.7 258.8h.9v.9h-.9zM100.5 275.7h.9v.9h-.9zM87.8 257.8h.9v.9h-.9zM90.0 247.0h.9v.9h-.9zM100.4 261.2h.9v.9h-.9zM86.0 281.5h.9v.9h-.9zM87.1 268.8h.9v.9h-.9zM105.6 284.9h.9v.9h-.9zM86.8 285.5h.9v.9h-.9zM82.5 268.8h.9v.9h-.9zM83.8 262.4h.9v.9h-.9zM82.1 271.1h.9v.9h-.9zM95.7 257.1h.9v.9h-.9zM80.9 252.5h.9v.9h-.9zM80.7 250.8h.9v.9h-.9zM85.5 269.8h.9v.9h-.9zM97.1 283.4h.9v.9h-.9zM105.5 280.7h.9v.9h-.9zM107.4 263.8h.9v.9h-.9zM103.8 269.7h.9v.9h-.9zM92.5 260.8h.9v.9h-.9zM100.5 275.6h.9v.9h-.9zM101.1 259.8h.9v.9h-.9zM83.7 270.1h.9v.9h-.9zM81.2 260.8h.9v.9h-.9zM97.0 279.9h.9v.9h-.9zM108.4 264.8h.9v.9h-.9zM83.6 263.3h.9v.9h-.9zM82.6 248.2h.9v.9h-.9zM85.4 273.9h.9v.9h-.9zM97.8 264.6h.9v.9h-.9zM106.6 262.9h.9v.9h-.9zM88.2 250.3h.9v.9h-.9zM104.8 273.5h.9v.9h-.9zM93.9 274.7h.9v.9h-.9zM100.4 270.9h.9v.9h-.9zM90.3 267.8h.9v.9h-.9zM83.9 276.1h.9v.9h-.9zM96.9 261.2h.9v.9h-.9zM92.0 281.4h.9v.9h-.9zM106.3 249.4h.9v.9h-.9zM81.6 253.7h.9v.9h-.9zM106.8 255.9h.9v.9h-.9zM95.9 260.9h.9v.9h-.9zM91.3 282.7h.9v.9h-.9zM95.5 263.4h.9v.9h-.9zM87.1 263.5h.9v.9h-.9zM91.1 270.1h.9v.9h-.9zM86.5 265.7h.9v.9h-.9zM99.8 258.4h.9v.9h-.9zM87.9 253.3h.9v.9h-.9zM102.4 281.3h.9v.9h-.9zM100.1 250.6h.9v.9h-.9zM92.4 252.4h.9v.9h-.9zM88.7 258.4h.9v.9h-.9zM105.8 270.5h.9v.9h-.9zM102.0 252.0h.9v.9h-.9zM80.7 271.2h.9v.9h-.9zM99.9 257.0h.9v.9h-.9zM98.8 252.5h.9v.9h-.9zM105.0 274.5h.9v.9h-.9zM102.5 269.4h.9v.9h-.9zM97.1 267.7h.9v.9h-.9zM91.4 257.8h.9v.9h-.9zM80.4 283.3h.9v.9h-.9zM94.7 259.1h.9v.9h-.9zM97.6 269.7h.9v.9h-.9zM96.4 261.6h.9v.9h-.9zM101.0 243.2h.9v.9h-.9zM86.9 253.4h.9v.9h-.9zM99.6 268.8h.9v.9h-.9zM107.5 257.2h.9v.9h-.9zM91.6 270.7h.9v.9h-.9zM91.0 271.9h.9v.9h-.9zM108.9 285.4h.9v.9h-.9zM99.2 256.1h.9v.9h-.9zM94.4 258.5h.9v.9h-.9zM107.9 256.4h.9v.9h-.9zM91.0 254.4h.9v.9h-.9zM103.4 277.2h.9v.9h-.9zM101.5 274.6h.9v.9h-.9zM87.3 278.9h.9v.9h-.9zM87.5 267.0h.9v.9h-.9zM82.8 268.3h.9v.9h-.9zM99.4 268.4h.9v.9h-.9zM107.7 262.4h.9v.9h-.9zM93.2 267.6h.9v.9h-.9zM81.6 264.1h.9v.9h-.9zM103.7 269.3h.9v.9h-.9zM99.0 268.6h.9v.9h-.9zM80.5 251.2h.9v.9h-.9zM82.6 276.4h.9v.9h-.9zM97.7 252.5h.9v.9h-.9zM103.9 274.1h.9v.9h-.9zM105.5 278.0h.9v.9h-.9zM105.3 275.9h.9v.9h-.9zM91.2 283.6h.9v.9h-.9zM94.6 271.3h.9v.9h-.9zM89.0 252.8h.9v.9h-.9zM105.0 283.5h.9v.9h-.9zM80.7 259.3h.9v.9h-.9zM81.8 264.9h.9v.9h-.9zM105.4 274.8h.9v.9h-.9zM88.4 269.4h.9v.9h-.9zM107.3 283.5h.9v.9h-.9zM93.0 261.2h.9v.9h-.9zM82.7 273.9h.9v.9h-.9zM98.5 265.4h.9v.9h-.9zM102.6 246.2h.9v.9h-.9zM107.5 265.7h.9v.9h-.9zM90.2 265.9h.9v.9h-.9zM92.2 262.7h.9v.9h-.9zM99.4 265.5h.9v.9h-.9zM102.1 276.5h.9v.9h-.9zM85.6 271.9h.9v.9h-.9zM85.9 264.4h.9v.9h-.9zM97.7 269.4h.9v.9h-.9zM90.0 286.0h.9v.9h-.9zM83.0 261.9h.9v.9h-.9zM98.0 257.8h.9v.9h-.9zM82.6 274.9h.9v.9h-.9zM94.7 269.7h.9v.9h-.9zM85.2 271.9h.9v.9h-.9zM86.5 285.4h.9v.9h-.9zM102.4 241.6h.9v.9h-.9zM83.4 267.4h.9v.9h-.9zM103.3 262.7h.9v.9h-.9zM87.5 269.0h.9v.9h-.9zM83.5 277.3h.9v.9h-.9zM99.3 273.6h.9v.9h-.9zM103.2 253.7h.9v.9h-.9zM84.1 264.3h.9v.9h-.9zM89.0 285.9h.9v.9h-.9zM101.7 261.8h.9v.9h-.9zM85.9 264.7h.9v.9h-.9zM107.0 278.0h.9v.9h-.9zM100.2 260.2h.9v.9h-.9zM87.0 270.3h.9v.9h-.9zM99.9 264.9h.9v.9h-.9zM99.9 254.4h.9v.9h-.9zM84.9 280.3h.9v.9h-.9zM108.2 275.3h.9v.9h-.9zM89.1 263.3h.9v.9h-.9zM103.1 259.6h.9v.9h-.9zM100.0 278.1h.9v.9h-.9zM107.7 267.2h.9v.9h-.9zM89.8 259.0h.9v.9h-.9zM84.5 287.7h.9v.9h-.9zM138.6 279.5h.9v.9h-.9zM112.4 281.2h.9v.9h-.9zM99.1 276.8h.9v.9h-.9zM91.2 287.0h.9v.9h-.9zM133.5 283.9h.9v.9h-.9zM138.8 282.3h.9v.9h-.9zM122.9 277.4h.9v.9h-.9zM89.9 284.6h.9v.9h-.9zM138.4 283.0h.9v.9h-.9zM144.8 283.3h.9v.9h-.9zM108.0 287.4h.9v.9h-.9zM125.6 279.4h.9v.9h-.9zM100.9 284.2h.9v.9h-.9zM81.7 280.6h.9v.9h-.9zM134.6 279.9h.9v.9h-.9zM124.8 280.7h.9v.9h-.9zM88.6 281.1h.9v.9h-.9zM101.8 280.3h.9v.9h-.9zM119.6 283.4h.9v.9h-.9zM97.8 280.5h.9v.9h-.9zM135.4 281.1h.9v.9h-.9zM89.7 281.8h.9v.9h-.9zM137.8 283.3h.9v.9h-.9zM91.0 288.8h.9v.9h-.9zM82.0 284.6h.9v.9h-.9zM147.5 280.8h.9v.9h-.9zM116.0 280.7h.9v.9h-.9zM108.4 277.9h.9v.9h-.9zM122.6 286.2h.9v.9h-.9zM88.3 276.5h.9v.9h-.9zM96.2 281.4h.9v.9h-.9zM109.7 286.4h.9v.9h-.9zM115.8 276.9h.9v.9h-.9zM80.5 282.6h.9v.9h-.9zM91.0 287.7h.9v.9h-.9zM140.6 267.5h.9v.9h-.9zM121.7 242.7h.9v.9h-.9zM142.2 258.9h.9v.9h-.9zM115.7 269.2h.9v.9h-.9zM128.0 281.4h.9v.9h-.9zM137.5 255.1h.9v.9h-.9zM127.7 232.7h.9v.9h-.9zM126.0 247.2h.9v.9h-.9zM121.5 252.5h.9v.9h-.9zM132.3 282.2h.9v.9h-.9zM128.5 274.2h.9v.9h-.9zM137.3 262.9h.9v.9h-.9zM147.7 250.9h.9v.9h-.9zM136.8 261.5h.9v.9h-.9zM138.2 265.8h.9v.9h-.9zM124.2 284.8h.9v.9h-.9zM123.5 277.7h.9v.9h-.9zM140.9 270.9h.9v.9h-.9zM138.7 257.0h.9v.9h-.9zM116.2 272.1h.9v.9h-.9zM120.5 260.7h.9v.9h-.9zM115.8 270.6h.9v.9h-.9zM128.4 277.5h.9v.9h-.9zM114.4 262.0h.9v.9h-.9zM127.7 267.8h.9v.9h-.9zM138.8 265.8h.9v.9h-.9zM116.9 265.0h.9v.9h-.9zM136.9 240.2h.9v.9h-.9z" fill="#111" opacity="0.85"/>
<text x="111.25" y="213.70" font-size="11" text-anchor="middle" font-weight="normal" fill="#000" stroke="#000" stroke-width="0.25">+/+</text>
<text x="76.60" y="292.40" font-size="5.5" text-anchor="end" font-weight="normal" fill="#000" stroke="#000" stroke-width="0.25">10<tspan font-size="3.8" dy="-2.2">0</tspan></text>
<text x="83.70" y="298.00" font-size="5.5" text-anchor="middle" font-weight="normal" fill="#000" stroke="#000" stroke-width="0.25">10<tspan font-size="3.8" dy="-2.2">0</tspan></text>
<line x1="77.70" y1="290.40" x2="79.20" y2="290.40" stroke="#333" stroke-width="0.5"/>
<line x1="79.20" y1="290.40" x2="79.20" y2="291.90" stroke="#333" stroke-width="0.5"/>
<text x="76.60" y="274.95" font-size="5.5" text-anchor="end" font-weight="normal" fill="#000" stroke="#000" stroke-width="0.25">10<tspan font-size="3.8" dy="-2.2">1</tspan></text>
<text x="99.80" y="298.00" font-size="5.5" text-anchor="middle" font-weight="normal" fill="#000" stroke="#000" stroke-width="0.25">10<tspan font-size="3.8" dy="-2.2">1</tspan></text>
<line x1="77.70" y1="272.95" x2="79.20" y2="272.95" stroke="#333" stroke-width="0.5"/>
<line x1="96.78" y1="290.40" x2="96.78" y2="291.90" stroke="#333" stroke-width="0.5"/>
<text x="76.60" y="257.50" font-size="5.5" text-anchor="end" font-weight="normal" fill="#000" stroke="#000" stroke-width="0.25">10<tspan font-size="3.8" dy="-2.2">2</tspan></text>
<text x="115.90" y="298.00" font-size="5.5" text-anchor="middle" font-weight="normal" fill="#000" stroke="#000" stroke-width="0.25">10<tspan font-size="3.8" dy="-2.2">2</tspan></text>
<line x1="77.70" y1="255.50" x2="79.20" y2="255.50" stroke="#333" stroke-width="0.5"/>
<line x1="114.35" y1="290.40" x2="114.35" y2="291.90" stroke="#333" stroke-width="0.5"/>
<text x="76.60" y="240.05" font-size="5.5" text-anchor="end" font-weight="normal" fill="#000" stroke="#000" stroke-width="0.25">10<tspan font-size="3.8" dy="-2.2">3</tspan></text>
<text x="132.00" y="298.00" font-size="5.5" text-anchor="middle" font-weight="normal" fill="#000" stroke="#000" stroke-width="0.25">10<tspan font-size="3.8" dy="-2.2">3</tspan></text>
<line x1="77.70" y1="238.05" x2="79.20" y2="238.05" stroke="#333" stroke-width="0.5"/>
<line x1="131.93" y1="290.40" x2="131.93" y2="291.90" stroke="#333" stroke-width="0.5"/>
<text x="76.60" y="222.60" font-size="5.5" text-anchor="end" font-weight="normal" fill="#000" stroke="#000" stroke-width="0.25">10<tspan font-size="3.8" dy="-2.2">4</tspan></text>
<text x="148.10" y="298.00" font-size="5.5" text-anchor="middle" font-weight="normal" fill="#000" stroke="#000" stroke-width="0.25">10<tspan font-size="3.8" dy="-2.2">4</tspan></text>
<line x1="77.70" y1="220.60" x2="79.20" y2="220.60" stroke="#333" stroke-width="0.5"/>
<line x1="149.50" y1="290.40" x2="149.50" y2="291.90" stroke="#333" stroke-width="0.5"/>
<text x="80.70" y="224.80" font-size="3.4" text-anchor="start" font-weight="normal" fill="#000" stroke="#000" stroke-width="0.12">3.38%</text>
<text x="148.00" y="224.80" font-size="3.4" text-anchor="end" font-weight="normal" fill="#000" stroke="#000" stroke-width="0.12">80.4%</text>
<text x="80.70" y="288.90" font-size="3.4" text-anchor="start" font-weight="normal" fill="#000" stroke="#000" stroke-width="0.12">2.38%</text>
<text x="148.00" y="288.90" font-size="3.4" text-anchor="end" font-weight="normal" fill="#000" stroke="#000" stroke-width="0.12">13.8%</text>
<rect x="168.4" y="220.6" width="70.0" height="69.79999999999998" fill="#fff" stroke="#151515" stroke-width="1.05"/>
<line x1="186.10" y1="220.60" x2="186.10" y2="290.40" stroke="#9a9a9a" stroke-width="0.6"/>
<line x1="168.40" y1="272.60" x2="238.40" y2="272.60" stroke="#a8a8a8" stroke-width="0.6"/>
<path d="M229.3 255.0h.9v.9h-.9zM215.3 257.5h.9v.9h-.9zM218.5 267.9h.9v.9h-.9zM209.5 268.5h.9v.9h-.9zM204.8 272.3h.9v.9h-.9zM208.8 265.2h.9v.9h-.9zM206.0 261.3h.9v.9h-.9zM208.6 288.8h.9v.9h-.9zM221.1 258.1h.9v.9h-.9zM207.1 261.8h.9v.9h-.9zM214.2 259.0h.9v.9h-.9zM206.3 262.9h.9v.9h-.9zM201.4 256.0h.9v.9h-.9zM203.4 268.0h.9v.9h-.9zM212.6 258.6h.9v.9h-.9zM210.7 257.8h.9v.9h-.9zM186.3 279.3h.9v.9h-.9zM210.4 266.4h.9v.9h-.9zM222.6 262.9h.9v.9h-.9zM211.0 278.9h.9v.9h-.9zM213.5 274.0h.9v.9h-.9zM200.2 250.4h.9v.9h-.9zM216.6 259.0h.9v.9h-.9zM212.8 273.1h.9v.9h-.9zM203.9 263.7h.9v.9h-.9zM196.2 269.9h.9v.9h-.9zM198.9 269.4h.9v.9h-.9zM203.4 253.1h.9v.9h-.9zM219.0 261.6h.9v.9h-.9zM197.7 277.5h.9v.9h-.9zM211.1 270.6h.9v.9h-.9zM213.6 252.7h.9v.9h-.9zM211.1 266.0h.9v.9h-.9zM217.3 260.9h.9v.9h-.9zM217.8 260.8h.9v.9h-.9zM223.4 256.8h.9v.9h-.9zM203.8 266.4h.9v.9h-.9zM206.9 272.8h.9v.9h-.9zM210.6 256.6h.9v.9h-.9zM195.8 272.7h.9v.9h-.9zM210.5 264.0h.9v.9h-.9zM217.5 269.0h.9v.9h-.9zM216.4 260.8h.9v.9h-.9zM212.4 263.4h.9v.9h-.9zM209.2 267.9h.9v.9h-.9zM214.7 242.8h.9v.9h-.9zM219.4 250.0h.9v.9h-.9zM215.8 263.2h.9v.9h-.9zM216.1 242.0h.9v.9h-.9zM202.4 261.1h.9v.9h-.9zM219.2 254.7h.9v.9h-.9zM217.6 246.6h.9v.9h-.9zM228.0 240.5h.9v.9h-.9zM224.0 251.0h.9v.9h-.9zM218.0 256.1h.9v.9h-.9zM214.1 263.8h.9v.9h-.9zM217.0 246.3h.9v.9h-.9zM210.9 260.0h.9v.9h-.9zM216.6 258.1h.9v.9h-.9zM218.9 254.7h.9v.9h-.9zM203.6 275.0h.9v.9h-.9zM217.4 252.5h.9v.9h-.9zM220.2 253.8h.9v.9h-.9zM213.7 272.9h.9v.9h-.9zM222.4 261.9h.9v.9h-.9zM219.8 265.4h.9v.9h-.9zM207.4 262.8h.9v.9h-.9zM209.2 268.6h.9v.9h-.9zM218.8 251.2h.9v.9h-.9zM215.2 261.8h.9v.9h-.9zM206.3 268.6h.9v.9h-.9zM208.5 263.5h.9v.9h-.9zM217.9 258.6h.9v.9h-.9zM206.6 269.5h.9v.9h-.9zM221.6 253.4h.9v.9h-.9zM214.1 257.4h.9v.9h-.9zM216.7 256.8h.9v.9h-.9zM220.9 248.6h.9v.9h-.9zM191.9 275.0h.9v.9h-.9zM233.8 257.2h.9v.9h-.9zM213.4 251.3h.9v.9h-.9zM212.5 249.8h.9v.9h-.9zM203.3 276.6h.9v.9h-.9zM211.1 267.4h.9v.9h-.9zM204.7 261.0h.9v.9h-.9zM214.4 259.2h.9v.9h-.9zM209.6 260.3h.9v.9h-.9zM211.6 267.0h.9v.9h-.9zM216.2 255.1h.9v.9h-.9zM213.1 254.5h.9v.9h-.9zM204.5 266.8h.9v.9h-.9zM208.7 252.2h.9v.9h-.9zM216.2 241.1h.9v.9h-.9zM223.8 256.2h.9v.9h-.9zM204.6 261.7h.9v.9h-.9zM210.5 263.1h.9v.9h-.9zM204.9 260.6h.9v.9h-.9zM213.8 256.4h.9v.9h-.9zM214.7 266.3h.9v.9h-.9zM196.4 273.1h.9v.9h-.9zM207.9 267.7h.9v.9h-.9zM219.4 256.8h.9v.9h-.9zM223.4 252.0h.9v.9h-.9zM217.5 253.2h.9v.9h-.9zM218.3 266.9h.9v.9h-.9zM220.4 254.6h.9v.9h-.9zM205.5 260.1h.9v.9h-.9zM215.0 248.5h.9v.9h-.9zM217.8 254.2h.9v.9h-.9zM200.7 254.6h.9v.9h-.9zM223.2 247.3h.9v.9h-.9zM215.8 248.5h.9v.9h-.9zM206.3 258.9h.9v.9h-.9zM212.7 268.5h.9v.9h-.9zM215.1 255.9h.9v.9h-.9zM224.8 245.0h.9v.9h-.9zM201.0 283.8h.9v.9h-.9zM211.9 262.6h.9v.9h-.9zM205.8 276.6h.9v.9h-.9zM211.1 270.7h.9v.9h-.9zM207.5 256.8h.9v.9h-.9zM214.2 265.5h.9v.9h-.9zM204.4 267.2h.9v.9h-.9zM225.0 256.5h.9v.9h-.9zM225.0 258.8h.9v.9h-.9zM211.0 255.9h.9v.9h-.9zM206.9 263.7h.9v.9h-.9zM202.7 261.5h.9v.9h-.9zM220.8 260.4h.9v.9h-.9zM213.8 262.9h.9v.9h-.9zM197.0 248.4h.9v.9h-.9zM217.0 250.9h.9v.9h-.9zM215.3 257.3h.9v.9h-.9zM229.6 264.2h.9v.9h-.9zM210.2 265.3h.9v.9h-.9zM211.0 255.9h.9v.9h-.9zM207.3 274.6h.9v.9h-.9zM204.4 262.1h.9v.9h-.9zM219.3 249.6h.9v.9h-.9zM224.0 257.3h.9v.9h-.9zM219.6 250.4h.9v.9h-.9zM211.3 267.3h.9v.9h-.9zM218.8 261.9h.9v.9h-.9zM210.4 269.7h.9v.9h-.9zM225.1 252.8h.9v.9h-.9zM208.9 264.8h.9v.9h-.9zM210.9 260.8h.9v.9h-.9zM200.2 277.8h.9v.9h-.9zM216.1 249.4h.9v.9h-.9zM205.2 264.3h.9v.9h-.9zM208.3 281.5h.9v.9h-.9zM210.2 270.7h.9v.9h-.9zM218.8 258.2h.9v.9h-.9zM212.2 272.5h.9v.9h-.9zM213.5 275.5h.9v.9h-.9zM214.1 248.4h.9v.9h-.9zM203.8 259.3h.9v.9h-.9zM222.6 255.6h.9v.9h-.9zM220.5 254.7h.9v.9h-.9zM208.9 279.0h.9v.9h-.9zM204.7 277.5h.9v.9h-.9zM229.6 247.4h.9v.9h-.9zM211.2 272.2h.9v.9h-.9zM224.9 261.9h.9v.9h-.9zM223.2 244.9h.9v.9h-.9zM213.0 265.5h.9v.9h-.9zM212.2 271.4h.9v.9h-.9zM217.2 243.9h.9v.9h-.9zM218.9 247.9h.9v.9h-.9zM207.5 261.3h.9v.9h-.9zM205.1 268.9h.9v.9h-.9zM217.7 236.9h.9v.9h-.9zM213.0 259.9h.9v.9h-.9zM198.8 267.9h.9v.9h-.9zM205.9 276.1h.9v.9h-.9zM201.8 266.3h.9v.9h-.9zM209.6 256.9h.9v.9h-.9zM210.8 261.6h.9v.9h-.9zM223.1 247.2h.9v.9h-.9zM218.0 245.0h.9v.9h-.9zM214.1 267.5h.9v.9h-.9zM206.7 276.8h.9v.9h-.9zM215.0 262.1h.9v.9h-.9zM216.2 251.4h.9v.9h-.9zM206.6 262.8h.9v.9h-.9zM221.7 253.9h.9v.9h-.9zM219.2 257.7h.9v.9h-.9zM205.6 266.8h.9v.9h-.9zM198.9 263.6h.9v.9h-.9zM208.8 252.0h.9v.9h-.9zM203.6 265.2h.9v.9h-.9zM215.0 260.5h.9v.9h-.9zM215.3 264.8h.9v.9h-.9zM204.7 276.9h.9v.9h-.9zM208.4 269.8h.9v.9h-.9zM214.2 262.4h.9v.9h-.9zM207.7 269.6h.9v.9h-.9zM198.7 272.4h.9v.9h-.9zM215.5 269.4h.9v.9h-.9zM210.6 256.2h.9v.9h-.9zM207.5 262.2h.9v.9h-.9zM209.4 242.6h.9v.9h-.9zM222.6 244.3h.9v.9h-.9zM207.5 258.4h.9v.9h-.9zM211.3 258.3h.9v.9h-.9zM208.3 261.9h.9v.9h-.9zM206.9 261.7h.9v.9h-.9zM225.3 263.4h.9v.9h-.9zM202.9 262.6h.9v.9h-.9zM218.3 259.8h.9v.9h-.9zM216.8 254.2h.9v.9h-.9zM216.5 246.6h.9v.9h-.9zM207.8 258.2h.9v.9h-.9zM214.0 265.2h.9v.9h-.9zM216.2 268.8h.9v.9h-.9zM201.6 258.7h.9v.9h-.9zM204.4 251.9h.9v.9h-.9zM220.1 259.9h.9v.9h-.9zM206.0 282.9h.9v.9h-.9zM211.9 274.3h.9v.9h-.9zM224.0 266.9h.9v.9h-.9zM212.9 282.6h.9v.9h-.9zM209.9 251.3h.9v.9h-.9zM209.2 269.4h.9v.9h-.9zM209.0 259.7h.9v.9h-.9zM219.0 258.3h.9v.9h-.9zM197.4 267.7h.9v.9h-.9zM219.6 237.0h.9v.9h-.9zM213.7 258.4h.9v.9h-.9zM208.5 257.0h.9v.9h-.9zM225.5 260.4h.9v.9h-.9zM213.1 268.7h.9v.9h-.9zM207.4 265.4h.9v.9h-.9zM216.1 265.1h.9v.9h-.9zM210.3 250.7h.9v.9h-.9zM216.2 252.4h.9v.9h-.9zM215.4 260.3h.9v.9h-.9zM215.6 254.3h.9v.9h-.9zM212.5 252.1h.9v.9h-.9zM212.5 253.1h.9v.9h-.9zM212.6 254.5h.9v.9h-.9zM207.5 268.4h.9v.9h-.9zM203.9 256.2h.9v.9h-.9zM216.2 256.4h.9v.9h-.9zM217.0 264.5h.9v.9h-.9zM213.2 264.3h.9v.9h-.9zM198.7 271.6h.9v.9h-.9zM206.0 253.0h.9v.9h-.9zM207.0 269.2h.9v.9h-.9zM219.7 256.0h.9v.9h-.9zM202.6 265.0h.9v.9h-.9zM206.9 250.1h.9v.9h-.9zM204.7 271.7h.9v.9h-.9zM192.3 279.2h.9v.9h-.9zM226.3 252.7h.9v.9h-.9zM205.4 262.8h.9v.9h-.9zM210.3 262.3h.9v.9h-.9zM230.8 232.1h.9v.9h-.9zM224.2 239.2h.9v.9h-.9zM205.7 281.1h.9v.9h-.9zM217.9 253.8h.9v.9h-.9zM212.8 261.3h.9v.9h-.9zM217.8 252.5h.9v.9h-.9zM214.4 255.3h.9v.9h-.9zM211.0 264.6h.9v.9h-.9zM222.8 256.0h.9v.9h-.9zM227.2 245.7h.9v.9h-.9zM212.9 251.0h.9v.9h-.9zM208.8 264.5h.9v.9h-.9zM210.0 262.2h.9v.9h-.9zM217.5 240.1h.9v.9h-.9zM216.3 266.8h.9v.9h-.9zM206.4 279.4h.9v.9h-.9zM217.8 249.8h.9v.9h-.9zM214.9 256.0h.9v.9h-.9zM216.4 254.5h.9v.9h-.9zM217.2 255.6h.9v.9h-.9zM205.2 257.5h.9v.9h-.9zM222.3 267.7h.9v.9h-.9zM210.8 271.0h.9v.9h-.9zM216.2 260.5h.9v.9h-.9zM223.0 244.6h.9v.9h-.9zM209.0 266.7h.9v.9h-.9zM208.2 258.6h.9v.9h-.9zM205.6 261.4h.9v.9h-.9zM202.2 258.6h.9v.9h-.9zM216.0 267.8h.9v.9h-.9zM206.7 263.1h.9v.9h-.9zM214.5 282.8h.9v.9h-.9zM214.0 247.1h.9v.9h-.9zM209.2 273.8h.9v.9h-.9zM221.5 252.8h.9v.9h-.9zM213.9 254.5h.9v.9h-.9zM203.4 271.9h.9v.9h-.9zM204.1 275.3h.9v.9h-.9zM210.1 270.8h.9v.9h-.9zM224.3 248.8h.9v.9h-.9zM218.6 270.3h.9v.9h-.9zM210.9 262.9h.9v.9h-.9zM213.6 256.1h.9v.9h-.9zM206.6 271.9h.9v.9h-.9zM219.5 237.4h.9v.9h-.9zM227.8 253.0h.9v.9h-.9zM206.7 262.8h.9v.9h-.9zM215.9 243.8h.9v.9h-.9zM210.7 267.8h.9v.9h-.9zM220.1 261.6h.9v.9h-.9zM206.1 260.3h.9v.9h-.9zM211.0 270.2h.9v.9h-.9zM210.5 265.2h.9v.9h-.9zM210.8 267.7h.9v.9h-.9zM216.7 260.8h.9v.9h-.9zM208.0 254.7h.9v.9h-.9zM205.6 258.8h.9v.9h-.9zM216.8 260.2h.9v.9h-.9zM214.0 271.8h.9v.9h-.9zM214.3 267.9h.9v.9h-.9zM206.1 262.5h.9v.9h-.9zM207.1 263.0h.9v.9h-.9zM215.5 250.0h.9v.9h-.9zM215.4 250.2h.9v.9h-.9zM206.9 267.2h.9v.9h-.9zM217.2 247.8h.9v.9h-.9zM215.8 262.8h.9v.9h-.9zM204.6 273.4h.9v.9h-.9zM220.7 263.3h.9v.9h-.9zM210.8 256.5h.9v.9h-.9zM215.7 264.3h.9v.9h-.9zM227.0 249.8h.9v.9h-.9zM214.5 252.6h.9v.9h-.9zM210.2 256.4h.9v.9h-.9zM211.4 268.5h.9v.9h-.9zM205.5 262.0h.9v.9h-.9zM213.2 261.4h.9v.9h-.9zM209.1 264.7h.9v.9h-.9zM218.3 247.9h.9v.9h-.9zM210.6 259.6h.9v.9h-.9zM198.9 278.7h.9v.9h-.9zM207.3 271.3h.9v.9h-.9zM217.5 274.3h.9v.9h-.9zM216.0 252.7h.9v.9h-.9zM228.5 254.2h.9v.9h-.9zM215.8 246.4h.9v.9h-.9zM219.3 263.8h.9v.9h-.9zM209.9 271.5h.9v.9h-.9zM213.0 254.6h.9v.9h-.9zM222.4 249.6h.9v.9h-.9zM219.0 247.7h.9v.9h-.9zM206.5 258.9h.9v.9h-.9zM219.6 257.4h.9v.9h-.9zM205.5 263.7h.9v.9h-.9zM213.6 254.2h.9v.9h-.9zM199.5 271.9h.9v.9h-.9zM227.1 240.6h.9v.9h-.9zM211.4 263.6h.9v.9h-.9zM210.6 269.6h.9v.9h-.9zM209.2 263.0h.9v.9h-.9zM203.8 266.8h.9v.9h-.9zM214.4 269.7h.9v.9h-.9zM209.2 275.2h.9v.9h-.9zM212.8 258.5h.9v.9h-.9zM208.7 262.4h.9v.9h-.9zM216.5 252.4h.9v.9h-.9zM202.8 269.4h.9v.9h-.9zM202.1 282.6h.9v.9h-.9zM219.9 249.6h.9v.9h-.9zM221.7 248.4h.9v.9h-.9zM208.8 261.2h.9v.9h-.9zM208.6 252.0h.9v.9h-.9zM195.4 268.3h.9v.9h-.9zM208.5 257.3h.9v.9h-.9zM221.2 260.0h.9v.9h-.9zM222.4 245.3h.9v.9h-.9zM201.1 253.1h.9v.9h-.9zM203.9 277.0h.9v.9h-.9zM219.3 261.9h.9v.9h-.9zM214.1 259.8h.9v.9h-.9zM205.1 252.3h.9v.9h-.9zM223.2 252.9h.9v.9h-.9zM223.9 253.2h.9v.9h-.9zM214.4 261.7h.9v.9h-.9zM202.9 269.4h.9v.9h-.9zM205.6 261.6h.9v.9h-.9zM213.6 264.4h.9v.9h-.9zM221.8 251.5h.9v.9h-.9zM225.7 255.1h.9v.9h-.9zM209.7 268.3h.9v.9h-.9zM214.2 260.7h.9v.9h-.9zM212.8 246.1h.9v.9h-.9zM218.3 261.8h.9v.9h-.9zM215.4 260.7h.9v.9h-.9zM210.3 263.7h.9v.9h-.9zM213.0 255.0h.9v.9h-.9zM219.8 255.4h.9v.9h-.9zM206.7 264.3h.9v.9h-.9zM211.1 263.5h.9v.9h-.9zM203.7 267.2h.9v.9h-.9zM199.4 258.7h.9v.9h-.9zM217.8 251.0h.9v.9h-.9zM205.8 262.9h.9v.9h-.9zM221.8 256.3h.9v.9h-.9zM204.8 266.4h.9v.9h-.9zM196.2 263.5h.9v.9h-.9zM215.7 269.5h.9v.9h-.9zM217.6 248.0h.9v.9h-.9zM217.1 252.1h.9v.9h-.9zM223.6 251.5h.9v.9h-.9zM222.7 255.6h.9v.9h-.9zM207.6 266.3h.9v.9h-.9zM205.0 262.2h.9v.9h-.9zM207.5 260.8h.9v.9h-.9zM214.8 245.8h.9v.9h-.9zM225.3 256.7h.9v.9h-.9zM211.3 262.6h.9v.9h-.9zM208.1 248.8h.9v.9h-.9zM221.4 256.5h.9v.9h-.9zM202.5 272.1h.9v.9h-.9zM212.7 247.7h.9v.9h-.9zM203.3 254.8h.9v.9h-.9zM202.2 264.3h.9v.9h-.9zM204.1 269.3h.9v.9h-.9zM195.3 266.8h.9v.9h-.9zM212.7 268.8h.9v.9h-.9zM197.1 271.0h.9v.9h-.9zM212.3 272.3h.9v.9h-.9zM216.0 259.3h.9v.9h-.9zM204.3 272.3h.9v.9h-.9zM194.7 266.1h.9v.9h-.9zM219.5 257.6h.9v.9h-.9zM203.4 275.6h.9v.9h-.9zM210.2 269.2h.9v.9h-.9zM214.5 266.3h.9v.9h-.9zM218.9 246.9h.9v.9h-.9zM208.1 270.0h.9v.9h-.9zM191.1 274.1h.9v.9h-.9zM215.1 266.5h.9v.9h-.9zM220.5 260.9h.9v.9h-.9zM203.9 259.5h.9v.9h-.9zM215.7 275.2h.9v.9h-.9zM207.4 274.3h.9v.9h-.9zM210.8 260.2h.9v.9h-.9zM209.1 261.6h.9v.9h-.9zM218.9 259.1h.9v.9h-.9zM203.3 274.5h.9v.9h-.9zM218.4 242.9h.9v.9h-.9zM211.2 258.4h.9v.9h-.9zM206.6 269.1h.9v.9h-.9zM219.3 260.3h.9v.9h-.9zM213.7 258.9h.9v.9h-.9zM220.7 253.4h.9v.9h-.9zM212.0 263.4h.9v.9h-.9zM208.6 255.0h.9v.9h-.9zM227.8 263.5h.9v.9h-.9zM219.8 263.9h.9v.9h-.9zM207.9 266.0h.9v.9h-.9zM209.2 265.8h.9v.9h-.9zM208.1 249.0h.9v.9h-.9zM202.0 272.7h.9v.9h-.9zM206.8 262.8h.9v.9h-.9zM203.1 266.8h.9v.9h-.9zM213.2 244.5h.9v.9h-.9zM217.0 258.2h.9v.9h-.9zM213.1 245.4h.9v.9h-.9zM211.6 266.7h.9v.9h-.9zM207.9 266.5h.9v.9h-.9zM218.7 264.6h.9v.9h-.9zM208.2 263.6h.9v.9h-.9zM205.7 259.8h.9v.9h-.9zM209.6 258.5h.9v.9h-.9zM216.1 246.3h.9v.9h-.9zM224.9 259.6h.9v.9h-.9zM203.0 276.1h.9v.9h-.9zM215.8 254.3h.9v.9h-.9zM212.4 261.0h.9v.9h-.9zM223.3 246.5h.9v.9h-.9zM214.0 254.7h.9v.9h-.9zM201.6 258.1h.9v.9h-.9zM227.2 249.9h.9v.9h-.9zM209.3 252.7h.9v.9h-.9zM208.9 262.1h.9v.9h-.9zM216.8 259.0h.9v.9h-.9zM217.5 272.8h.9v.9h-.9zM195.0 266.0h.9v.9h-.9zM216.3 256.3h.9v.9h-.9zM209.7 262.0h.9v.9h-.9zM215.6 267.7h.9v.9h-.9zM214.3 265.7h.9v.9h-.9zM227.4 248.0h.9v.9h-.9zM214.4 251.2h.9v.9h-.9zM219.2 248.5h.9v.9h-.9zM207.8 262.3h.9v.9h-.9zM218.8 254.6h.9v.9h-.9zM213.4 264.5h.9v.9h-.9zM213.9 248.5h.9v.9h-.9zM203.9 277.0h.9v.9h-.9zM203.9 278.4h.9v.9h-.9zM221.6 239.5h.9v.9h-.9zM216.1 257.5h.9v.9h-.9zM222.4 245.7h.9v.9h-.9zM196.3 271.5h.9v.9h-.9zM230.0 252.3h.9v.9h-.9zM207.5 268.7h.9v.9h-.9zM223.8 256.7h.9v.9h-.9zM215.5 248.9h.9v.9h-.9zM213.8 259.4h.9v.9h-.9zM205.1 275.1h.9v.9h-.9zM220.2 265.8h.9v.9h-.9zM220.2 245.5h.9v.9h-.9zM223.2 255.0h.9v.9h-.9zM206.5 263.5h.9v.9h-.9zM221.8 250.1h.9v.9h-.9zM216.0 259.2h.9v.9h-.9zM219.1 271.7h.9v.9h-.9zM204.2 253.4h.9v.9h-.9zM215.9 252.7h.9v.9h-.9zM199.0 276.0h.9v.9h-.9zM209.5 263.2h.9v.9h-.9zM221.0 259.5h.9v.9h-.9zM213.4 265.6h.9v.9h-.9zM210.9 258.5h.9v.9h-.9zM215.5 250.6h.9v.9h-.9zM203.6 260.0h.9v.9h-.9zM215.8 264.7h.9v.9h-.9zM221.9 259.7h.9v.9h-.9zM209.9 257.9h.9v.9h-.9zM222.6 257.2h.9v.9h-.9zM223.0 250.4h.9v.9h-.9zM207.1 258.2h.9v.9h-.9zM213.0 265.9h.9v.9h-.9zM211.5 251.2h.9v.9h-.9zM215.0 260.8h.9v.9h-.9zM218.3 267.9h.9v.9h-.9zM217.2 246.8h.9v.9h-.9zM204.3 274.5h.9v.9h-.9zM206.4 266.0h.9v.9h-.9zM207.2 264.0h.9v.9h-.9zM205.4 262.8h.9v.9h-.9zM216.6 254.2h.9v.9h-.9zM208.5 256.4h.9v.9h-.9zM201.5 272.8h.9v.9h-.9zM212.0 250.6h.9v.9h-.9zM209.8 257.3h.9v.9h-.9zM224.2 237.3h.9v.9h-.9zM224.9 258.8h.9v.9h-.9zM214.4 255.2h.9v.9h-.9zM217.3 253.2h.9v.9h-.9zM211.7 260.6h.9v.9h-.9zM202.8 261.0h.9v.9h-.9zM214.9 263.5h.9v.9h-.9zM225.3 252.1h.9v.9h-.9zM207.9 258.7h.9v.9h-.9zM215.7 253.2h.9v.9h-.9zM211.9 254.7h.9v.9h-.9zM213.4 250.2h.9v.9h-.9zM214.9 265.3h.9v.9h-.9zM205.3 260.5h.9v.9h-.9zM219.2 267.6h.9v.9h-.9zM216.9 258.1h.9v.9h-.9zM214.6 265.5h.9v.9h-.9zM204.7 270.1h.9v.9h-.9zM206.8 267.4h.9v.9h-.9zM213.3 259.5h.9v.9h-.9zM226.0 259.2h.9v.9h-.9zM209.5 261.6h.9v.9h-.9zM217.0 265.7h.9v.9h-.9zM202.4 264.9h.9v.9h-.9zM215.3 254.0h.9v.9h-.9zM217.1 269.6h.9v.9h-.9zM220.1 256.4h.9v.9h-.9zM227.4 253.9h.9v.9h-.9zM197.3 271.1h.9v.9h-.9zM213.9 256.9h.9v.9h-.9zM214.1 263.6h.9v.9h-.9zM200.8 269.3h.9v.9h-.9zM210.3 267.0h.9v.9h-.9zM213.0 262.5h.9v.9h-.9zM198.3 276.2h.9v.9h-.9zM206.6 266.2h.9v.9h-.9zM224.1 253.2h.9v.9h-.9zM216.5 274.5h.9v.9h-.9zM221.1 259.1h.9v.9h-.9zM216.3 266.5h.9v.9h-.9zM212.3 254.1h.9v.9h-.9zM212.4 258.8h.9v.9h-.9zM207.2 269.5h.9v.9h-.9zM214.5 260.6h.9v.9h-.9zM213.5 265.1h.9v.9h-.9zM209.8 256.2h.9v.9h-.9zM222.5 257.1h.9v.9h-.9zM208.0 262.4h.9v.9h-.9zM219.1 254.0h.9v.9h-.9zM220.2 256.9h.9v.9h-.9zM205.8 279.6h.9v.9h-.9zM218.6 254.5h.9v.9h-.9zM208.0 260.6h.9v.9h-.9zM204.4 257.5h.9v.9h-.9zM219.8 246.5h.9v.9h-.9zM209.5 251.2h.9v.9h-.9zM218.4 244.1h.9v.9h-.9zM200.6 260.8h.9v.9h-.9zM221.8 256.6h.9v.9h-.9zM219.3 255.1h.9v.9h-.9zM222.8 255.6h.9v.9h-.9zM212.9 269.4h.9v.9h-.9zM227.1 257.5h.9v.9h-.9zM205.2 272.2h.9v.9h-.9zM213.2 259.5h.9v.9h-.9zM215.7 246.1h.9v.9h-.9zM219.6 267.2h.9v.9h-.9zM213.9 260.9h.9v.9h-.9zM217.9 255.9h.9v.9h-.9zM222.0 253.2h.9v.9h-.9zM226.4 258.9h.9v.9h-.9zM220.8 247.7h.9v.9h-.9zM207.5 274.1h.9v.9h-.9zM208.0 260.3h.9v.9h-.9zM224.3 264.3h.9v.9h-.9zM210.6 271.6h.9v.9h-.9zM218.2 255.5h.9v.9h-.9zM212.9 254.3h.9v.9h-.9zM214.8 247.3h.9v.9h-.9zM210.6 266.3h.9v.9h-.9zM212.7 260.5h.9v.9h-.9zM221.7 257.5h.9v.9h-.9zM208.9 268.0h.9v.9h-.9zM207.2 279.3h.9v.9h-.9zM213.6 255.7h.9v.9h-.9zM213.8 265.6h.9v.9h-.9zM219.1 250.5h.9v.9h-.9zM214.4 254.1h.9v.9h-.9zM211.9 257.6h.9v.9h-.9zM216.4 267.4h.9v.9h-.9zM209.1 268.2h.9v.9h-.9zM215.4 278.9h.9v.9h-.9zM214.6 259.1h.9v.9h-.9zM211.3 258.0h.9v.9h-.9zM202.1 265.4h.9v.9h-.9zM207.3 268.6h.9v.9h-.9zM222.3 256.7h.9v.9h-.9zM220.1 255.8h.9v.9h-.9zM210.5 264.7h.9v.9h-.9zM202.4 269.6h.9v.9h-.9zM213.6 248.6h.9v.9h-.9zM217.9 250.4h.9v.9h-.9zM206.1 270.4h.9v.9h-.9zM215.2 254.5h.9v.9h-.9zM205.1 257.0h.9v.9h-.9zM208.1 261.1h.9v.9h-.9zM209.3 256.7h.9v.9h-.9zM218.7 248.3h.9v.9h-.9zM206.2 263.3h.9v.9h-.9zM228.4 250.0h.9v.9h-.9zM215.9 257.2h.9v.9h-.9zM209.1 249.0h.9v.9h-.9zM223.7 258.5h.9v.9h-.9zM216.2 243.3h.9v.9h-.9zM215.9 257.5h.9v.9h-.9zM219.6 249.2h.9v.9h-.9zM204.1 272.2h.9v.9h-.9zM223.9 257.5h.9v.9h-.9zM212.3 265.6h.9v.9h-.9zM226.2 261.3h.9v.9h-.9zM213.9 262.5h.9v.9h-.9zM210.5 271.3h.9v.9h-.9zM207.0 265.5h.9v.9h-.9zM214.4 273.7h.9v.9h-.9zM213.3 266.8h.9v.9h-.9zM212.2 264.1h.9v.9h-.9zM211.7 262.8h.9v.9h-.9zM215.9 258.2h.9v.9h-.9zM200.6 287.1h.9v.9h-.9zM202.4 264.7h.9v.9h-.9zM200.7 276.1h.9v.9h-.9zM225.5 254.9h.9v.9h-.9zM211.1 258.7h.9v.9h-.9zM217.1 261.6h.9v.9h-.9zM213.3 276.1h.9v.9h-.9zM214.8 254.4h.9v.9h-.9zM200.2 261.2h.9v.9h-.9zM226.0 272.1h.9v.9h-.9zM211.0 250.3h.9v.9h-.9zM217.4 262.9h.9v.9h-.9zM208.1 266.3h.9v.9h-.9zM217.3 264.2h.9v.9h-.9zM202.0 266.3h.9v.9h-.9zM207.0 250.7h.9v.9h-.9zM205.1 263.1h.9v.9h-.9zM210.9 273.4h.9v.9h-.9zM208.8 278.8h.9v.9h-.9zM215.2 266.5h.9v.9h-.9zM203.6 278.9h.9v.9h-.9zM222.4 250.0h.9v.9h-.9zM205.3 266.6h.9v.9h-.9zM216.9 253.2h.9v.9h-.9zM212.5 277.2h.9v.9h-.9zM224.5 253.9h.9v.9h-.9zM222.3 264.5h.9v.9h-.9zM218.1 246.3h.9v.9h-.9zM220.7 265.1h.9v.9h-.9zM210.6 249.4h.9v.9h-.9zM206.6 258.8h.9v.9h-.9zM211.2 273.3h.9v.9h-.9zM219.3 247.4h.9v.9h-.9zM217.1 255.5h.9v.9h-.9zM219.7 271.7h.9v.9h-.9zM212.2 247.0h.9v.9h-.9zM216.0 249.6h.9v.9h-.9zM210.8 258.9h.9v.9h-.9zM204.2 261.7h.9v.9h-.9zM214.5 262.2h.9v.9h-.9zM212.3 259.9h.9v.9h-.9zM214.0 253.4h.9v.9h-.9zM219.7 273.0h.9v.9h-.9zM214.3 250.3h.9v.9h-.9zM204.2 267.2h.9v.9h-.9zM229.6 254.5h.9v.9h-.9zM219.7 253.9h.9v.9h-.9zM202.2 269.2h.9v.9h-.9zM199.4 271.8h.9v.9h-.9zM219.0 251.1h.9v.9h-.9zM214.6 263.4h.9v.9h-.9zM217.1 247.6h.9v.9h-.9zM218.0 248.9h.9v.9h-.9zM215.8 254.7h.9v.9h-.9zM206.1 252.5h.9v.9h-.9zM205.0 272.5h.9v.9h-.9zM207.5 269.6h.9v.9h-.9zM222.1 255.9h.9v.9h-.9zM210.6 263.9h.9v.9h-.9zM212.5 249.8h.9v.9h-.9zM223.3 257.0h.9v.9h-.9zM224.8 247.6h.9v.9h-.9zM214.8 248.5h.9v.9h-.9zM213.4 257.2h.9v.9h-.9zM213.7 268.9h.9v.9h-.9zM203.6 273.9h.9v.9h-.9zM206.3 269.2h.9v.9h-.9zM208.6 254.1h.9v.9h-.9zM212.6 254.1h.9v.9h-.9zM215.0 265.8h.9v.9h-.9zM210.5 273.7h.9v.9h-.9zM200.2 265.4h.9v.9h-.9zM212.2 260.1h.9v.9h-.9zM219.4 266.9h.9v.9h-.9zM211.3 279.3h.9v.9h-.9zM206.1 260.0h.9v.9h-.9zM201.4 278.3h.9v.9h-.9zM210.1 248.7h.9v.9h-.9zM217.8 258.7h.9v.9h-.9zM216.8 257.2h.9v.9h-.9zM209.4 266.9h.9v.9h-.9zM215.5 259.7h.9v.9h-.9zM217.8 261.7h.9v.9h-.9zM218.2 260.3h.9v.9h-.9zM220.8 247.4h.9v.9h-.9zM207.3 245.7h.9v.9h-.9zM214.9 264.5h.9v.9h-.9zM203.4 265.7h.9v.9h-.9zM213.3 266.2h.9v.9h-.9zM204.5 269.6h.9v.9h-.9zM204.7 270.9h.9v.9h-.9zM206.0 261.4h.9v.9h-.9zM194.2 256.5h.9v.9h-.9zM209.1 263.2h.9v.9h-.9zM202.9 258.2h.9v.9h-.9zM211.3 264.3h.9v.9h-.9zM205.7 260.3h.9v.9h-.9zM215.7 263.7h.9v.9h-.9zM223.9 260.6h.9v.9h-.9zM220.9 253.9h.9v.9h-.9zM202.5 269.2h.9v.9h-.9zM216.2 261.6h.9v.9h-.9zM213.0 261.2h.9v.9h-.9zM215.3 264.1h.9v.9h-.9zM225.5 249.7h.9v.9h-.9zM222.9 255.9h.9v.9h-.9zM213.8 267.7h.9v.9h-.9zM212.6 248.5h.9v.9h-.9zM214.5 265.1h.9v.9h-.9zM208.4 258.6h.9v.9h-.9zM211.2 245.3h.9v.9h-.9zM214.0 259.4h.9v.9h-.9zM217.6 244.3h.9v.9h-.9zM201.5 273.4h.9v.9h-.9zM207.5 279.6h.9v.9h-.9zM211.2 262.2h.9v.9h-.9zM218.4 251.7h.9v.9h-.9zM217.1 252.9h.9v.9h-.9zM209.3 239.8h.9v.9h-.9zM223.0 256.4h.9v.9h-.9zM206.0 260.8h.9v.9h-.9zM219.6 252.1h.9v.9h-.9zM218.0 249.2h.9v.9h-.9zM215.5 266.0h.9v.9h-.9zM208.9 277.0h.9v.9h-.9zM219.0 260.6h.9v.9h-.9zM213.7 242.9h.9v.9h-.9zM206.8 264.2h.9v.9h-.9zM206.7 279.0h.9v.9h-.9zM219.5 256.8h.9v.9h-.9zM212.0 254.7h.9v.9h-.9zM211.0 256.1h.9v.9h-.9zM221.4 260.3h.9v.9h-.9zM215.5 257.4h.9v.9h-.9zM220.0 236.2h.9v.9h-.9zM205.4 252.9h.9v.9h-.9zM213.2 254.8h.9v.9h-.9zM215.2 259.9h.9v.9h-.9zM203.7 266.3h.9v.9h-.9zM206.2 253.1h.9v.9h-.9zM215.7 263.1h.9v.9h-.9zM209.8 253.4h.9v.9h-.9zM202.4 265.6h.9v.9h-.9zM213.5 267.1h.9v.9h-.9zM219.9 259.0h.9v.9h-.9zM219.9 254.2h.9v.9h-.9zM208.0 264.4h.9v.9h-.9zM219.6 263.4h.9v.9h-.9zM206.7 265.1h.9v.9h-.9zM216.4 253.2h.9v.9h-.9zM205.6 274.4h.9v.9h-.9zM211.8 262.9h.9v.9h-.9zM214.4 271.5h.9v.9h-.9zM208.9 271.8h.9v.9h-.9zM223.7 269.7h.9v.9h-.9zM205.9 269.1h.9v.9h-.9zM200.0 272.3h.9v.9h-.9zM207.0 276.6h.9v.9h-.9zM209.0 252.6h.9v.9h-.9zM213.3 249.4h.9v.9h-.9zM221.4 253.8h.9v.9h-.9zM210.3 279.5h.9v.9h-.9zM197.9 268.4h.9v.9h-.9zM212.8 259.1h.9v.9h-.9zM206.3 267.0h.9v.9h-.9zM204.8 258.8h.9v.9h-.9zM213.0 276.2h.9v.9h-.9zM208.3 253.7h.9v.9h-.9zM205.0 274.3h.9v.9h-.9zM205.5 269.5h.9v.9h-.9zM213.0 261.7h.9v.9h-.9zM213.5 264.6h.9v.9h-.9zM216.9 246.7h.9v.9h-.9zM206.2 262.5h.9v.9h-.9zM214.6 257.9h.9v.9h-.9zM212.1 257.1h.9v.9h-.9zM210.9 266.6h.9v.9h-.9zM207.0 258.3h.9v.9h-.9zM208.8 277.1h.9v.9h-.9zM209.1 266.9h.9v.9h-.9zM218.5 248.8h.9v.9h-.9zM204.8 255.8h.9v.9h-.9zM214.8 246.9h.9v.9h-.9zM208.8 257.8h.9v.9h-.9zM217.6 245.0h.9v.9h-.9zM203.5 266.6h.9v.9h-.9zM213.3 261.6h.9v.9h-.9zM206.3 266.5h.9v.9h-.9zM213.0 245.0h.9v.9h-.9zM212.8 252.0h.9v.9h-.9zM208.9 261.0h.9v.9h-.9zM212.3 260.0h.9v.9h-.9zM202.4 267.1h.9v.9h-.9zM230.7 248.8h.9v.9h-.9zM203.4 248.4h.9v.9h-.9zM215.7 255.6h.9v.9h-.9zM201.8 269.7h.9v.9h-.9zM210.9 262.8h.9v.9h-.9zM205.5 259.9h.9v.9h-.9zM203.3 257.5h.9v.9h-.9zM212.4 264.0h.9v.9h-.9zM201.6 264.8h.9v.9h-.9zM215.0 270.4h.9v.9h-.9zM224.2 254.8h.9v.9h-.9zM201.8 257.9h.9v.9h-.9zM205.1 272.3h.9v.9h-.9zM202.5 274.4h.9v.9h-.9zM210.5 270.4h.9v.9h-.9zM214.3 267.6h.9v.9h-.9zM211.6 278.9h.9v.9h-.9zM208.5 263.9h.9v.9h-.9zM216.6 260.9h.9v.9h-.9zM213.0 257.8h.9v.9h-.9zM206.1 260.7h.9v.9h-.9zM214.3 263.8h.9v.9h-.9zM203.7 256.6h.9v.9h-.9zM219.8 254.5h.9v.9h-.9zM219.8 244.6h.9v.9h-.9zM211.3 257.0h.9v.9h-.9zM216.3 254.5h.9v.9h-.9zM211.5 265.0h.9v.9h-.9zM217.7 255.7h.9v.9h-.9zM223.8 249.8h.9v.9h-.9zM213.0 270.1h.9v.9h-.9zM211.5 259.2h.9v.9h-.9zM211.3 267.1h.9v.9h-.9zM192.1 280.9h.9v.9h-.9zM213.2 247.8h.9v.9h-.9zM204.3 262.0h.9v.9h-.9zM203.2 259.4h.9v.9h-.9zM210.7 261.9h.9v.9h-.9zM214.8 264.4h.9v.9h-.9zM207.6 256.2h.9v.9h-.9zM202.4 274.5h.9v.9h-.9zM217.7 251.8h.9v.9h-.9zM206.6 270.6h.9v.9h-.9zM213.0 245.8h.9v.9h-.9zM222.6 256.6h.9v.9h-.9zM208.4 264.1h.9v.9h-.9zM200.0 266.7h.9v.9h-.9zM209.4 254.6h.9v.9h-.9zM206.6 262.1h.9v.9h-.9zM208.0 267.9h.9v.9h-.9zM224.6 259.9h.9v.9h-.9zM211.6 258.3h.9v.9h-.9zM225.6 249.9h.9v.9h-.9zM209.3 260.7h.9v.9h-.9zM224.5 248.6h.9v.9h-.9zM216.9 240.2h.9v.9h-.9zM206.2 255.7h.9v.9h-.9zM206.5 254.7h.9v.9h-.9zM216.1 253.3h.9v.9h-.9zM214.4 257.3h.9v.9h-.9zM192.0 283.4h.9v.9h-.9zM227.3 250.3h.9v.9h-.9zM211.5 256.5h.9v.9h-.9zM219.1 254.8h.9v.9h-.9zM219.7 251.0h.9v.9h-.9zM208.3 262.0h.9v.9h-.9zM219.6 263.0h.9v.9h-.9zM212.8 266.3h.9v.9h-.9zM210.5 274.0h.9v.9h-.9zM213.2 265.1h.9v.9h-.9zM220.0 258.4h.9v.9h-.9zM226.7 242.5h.9v.9h-.9zM207.2 247.8h.9v.9h-.9zM213.2 257.0h.9v.9h-.9zM203.4 267.2h.9v.9h-.9zM207.8 273.8h.9v.9h-.9zM204.6 255.2h.9v.9h-.9zM208.5 263.5h.9v.9h-.9zM206.7 268.0h.9v.9h-.9zM208.4 264.4h.9v.9h-.9zM212.4 254.2h.9v.9h-.9zM211.7 262.5h.9v.9h-.9zM206.2 260.5h.9v.9h-.9zM215.1 261.8h.9v.9h-.9zM199.4 270.3h.9v.9h-.9zM197.4 259.3h.9v.9h-.9zM212.3 251.2h.9v.9h-.9zM210.5 255.6h.9v.9h-.9zM223.8 247.3h.9v.9h-.9zM204.7 278.1h.9v.9h-.9zM208.0 262.7h.9v.9h-.9zM203.5 282.2h.9v.9h-.9zM207.2 266.1h.9v.9h-.9zM198.5 271.8h.9v.9h-.9zM216.8 268.0h.9v.9h-.9zM212.4 262.6h.9v.9h-.9zM213.2 259.1h.9v.9h-.9zM204.6 262.8h.9v.9h-.9zM225.7 250.3h.9v.9h-.9zM201.3 271.5h.9v.9h-.9zM224.5 255.7h.9v.9h-.9zM212.3 272.1h.9v.9h-.9zM200.3 270.5h.9v.9h-.9zM213.7 266.3h.9v.9h-.9zM213.9 263.9h.9v.9h-.9zM196.6 274.4h.9v.9h-.9zM215.5 241.9h.9v.9h-.9zM200.9 266.7h.9v.9h-.9zM213.9 257.5h.9v.9h-.9zM212.4 249.7h.9v.9h-.9zM219.7 262.3h.9v.9h-.9zM205.5 266.1h.9v.9h-.9zM201.1 267.9h.9v.9h-.9zM217.0 263.1h.9v.9h-.9zM209.4 269.1h.9v.9h-.9zM212.5 257.8h.9v.9h-.9zM204.4 259.5h.9v.9h-.9zM204.7 266.1h.9v.9h-.9zM213.5 268.6h.9v.9h-.9zM209.2 272.2h.9v.9h-.9zM218.7 258.8h.9v.9h-.9zM201.0 263.0h.9v.9h-.9zM208.9 249.1h.9v.9h-.9zM210.6 257.6h.9v.9h-.9zM203.6 269.2h.9v.9h-.9zM210.5 255.7h.9v.9h-.9zM221.0 255.1h.9v.9h-.9zM210.6 269.8h.9v.9h-.9zM206.9 266.2h.9v.9h-.9zM219.1 242.9h.9v.9h-.9zM209.9 268.4h.9v.9h-.9zM204.8 259.7h.9v.9h-.9zM221.6 250.2h.9v.9h-.9zM223.4 253.8h.9v.9h-.9zM208.9 261.9h.9v.9h-.9zM203.3 269.0h.9v.9h-.9zM207.7 279.4h.9v.9h-.9zM212.1 257.0h.9v.9h-.9zM221.2 256.8h.9v.9h-.9zM220.0 262.8h.9v.9h-.9zM220.5 261.7h.9v.9h-.9zM211.0 272.8h.9v.9h-.9zM224.0 257.0h.9v.9h-.9zM219.9 257.1h.9v.9h-.9zM213.8 254.5h.9v.9h-.9zM203.7 263.4h.9v.9h-.9zM209.5 270.8h.9v.9h-.9zM219.7 257.7h.9v.9h-.9zM221.3 254.3h.9v.9h-.9zM209.6 267.4h.9v.9h-.9zM212.3 266.0h.9v.9h-.9zM218.9 261.3h.9v.9h-.9zM222.0 257.6h.9v.9h-.9zM211.7 266.4h.9v.9h-.9zM228.6 266.7h.9v.9h-.9zM218.1 248.3h.9v.9h-.9zM220.4 241.3h.9v.9h-.9zM223.0 267.1h.9v.9h-.9zM213.3 267.9h.9v.9h-.9zM210.8 263.7h.9v.9h-.9zM219.7 249.5h.9v.9h-.9zM212.2 267.4h.9v.9h-.9zM214.7 258.9h.9v.9h-.9zM209.2 255.9h.9v.9h-.9zM221.7 261.4h.9v.9h-.9zM221.4 263.9h.9v.9h-.9zM208.8 275.9h.9v.9h-.9zM214.6 245.8h.9v.9h-.9zM203.5 272.0h.9v.9h-.9zM204.7 265.3h.9v.9h-.9zM219.7 267.9h.9v.9h-.9zM217.5 242.3h.9v.9h-.9zM210.0 262.8h.9v.9h-.9zM216.2 274.2h.9v.9h-.9zM205.5 261.6h.9v.9h-.9zM211.9 255.6h.9v.9h-.9zM205.0 267.2h.9v.9h-.9zM206.5 274.1h.9v.9h-.9zM216.8 244.8h.9v.9h-.9zM205.5 262.5h.9v.9h-.9zM216.5 247.8h.9v.9h-.9zM207.1 276.7h.9v.9h-.9zM215.4 265.4h.9v.9h-.9zM203.0 269.8h.9v.9h-.9zM211.7 260.3h.9v.9h-.9zM210.5 278.9h.9v.9h-.9zM196.5 267.9h.9v.9h-.9zM221.5 251.3h.9v.9h-.9zM204.3 258.8h.9v.9h-.9zM205.2 255.4h.9v.9h-.9zM214.2 253.1h.9v.9h-.9zM206.1 260.2h.9v.9h-.9zM197.6 260.5h.9v.9h-.9zM203.3 267.3h.9v.9h-.9zM218.6 249.4h.9v.9h-.9zM213.3 272.5h.9v.9h-.9zM221.8 257.4h.9v.9h-.9zM202.4 255.2h.9v.9h-.9zM231.5 251.0h.9v.9h-.9zM220.6 247.3h.9v.9h-.9zM215.6 253.2h.9v.9h-.9zM214.9 275.1h.9v.9h-.9zM207.2 267.8h.9v.9h-.9zM206.3 263.9h.9v.9h-.9zM212.0 255.4h.9v.9h-.9zM228.4 256.1h.9v.9h-.9zM218.0 242.6h.9v.9h-.9zM212.4 273.5h.9v.9h-.9zM212.2 250.8h.9v.9h-.9zM217.0 269.1h.9v.9h-.9zM214.7 260.2h.9v.9h-.9zM209.1 255.9h.9v.9h-.9zM194.4 260.2h.9v.9h-.9zM225.8 254.9h.9v.9h-.9zM205.6 276.5h.9v.9h-.9zM215.4 263.2h.9v.9h-.9zM198.1 286.3h.9v.9h-.9zM216.4 250.4h.9v.9h-.9zM203.0 255.0h.9v.9h-.9zM208.7 262.0h.9v.9h-.9zM205.2 257.0h.9v.9h-.9zM210.9 262.1h.9v.9h-.9zM214.9 265.0h.9v.9h-.9zM222.3 251.7h.9v.9h-.9zM207.8 273.2h.9v.9h-.9zM213.7 258.8h.9v.9h-.9zM211.1 270.9h.9v.9h-.9zM221.7 253.8h.9v.9h-.9zM219.5 251.4h.9v.9h-.9zM211.2 266.9h.9v.9h-.9zM203.0 259.5h.9v.9h-.9zM210.9 250.5h.9v.9h-.9zM223.0 249.4h.9v.9h-.9zM213.2 251.5h.9v.9h-.9zM225.0 253.0h.9v.9h-.9zM217.6 244.0h.9v.9h-.9zM205.8 259.2h.9v.9h-.9zM211.7 256.1h.9v.9h-.9zM219.6 256.6h.9v.9h-.9zM216.0 244.3h.9v.9h-.9zM218.4 251.6h.9v.9h-.9zM213.9 258.2h.9v.9h-.9zM220.8 256.1h.9v.9h-.9zM210.2 265.7h.9v.9h-.9zM210.8 259.5h.9v.9h-.9zM213.0 261.0h.9v.9h-.9zM229.6 257.1h.9v.9h-.9zM214.4 253.0h.9v.9h-.9zM213.2 258.4h.9v.9h-.9zM203.8 264.6h.9v.9h-.9zM218.6 262.7h.9v.9h-.9zM216.0 250.7h.9v.9h-.9zM213.5 258.1h.9v.9h-.9zM202.1 257.3h.9v.9h-.9zM229.4 238.9h.9v.9h-.9zM225.0 274.1h.9v.9h-.9zM207.4 267.7h.9v.9h-.9zM213.0 264.7h.9v.9h-.9zM199.0 271.3h.9v.9h-.9zM200.6 271.3h.9v.9h-.9zM218.7 242.1h.9v.9h-.9zM216.3 252.2h.9v.9h-.9zM199.1 279.1h.9v.9h-.9zM216.8 253.3h.9v.9h-.9zM213.2 266.0h.9v.9h-.9zM208.9 259.6h.9v.9h-.9zM225.1 253.2h.9v.9h-.9zM195.7 253.5h.9v.9h-.9zM217.3 262.1h.9v.9h-.9zM222.7 248.1h.9v.9h-.9zM208.8 267.7h.9v.9h-.9zM218.4 256.3h.9v.9h-.9zM222.4 259.1h.9v.9h-.9zM207.1 274.9h.9v.9h-.9zM210.6 245.3h.9v.9h-.9zM196.3 267.8h.9v.9h-.9zM204.2 273.7h.9v.9h-.9zM226.6 267.8h.9v.9h-.9zM208.6 281.9h.9v.9h-.9zM207.2 260.3h.9v.9h-.9zM212.1 253.1h.9v.9h-.9zM217.6 261.6h.9v.9h-.9zM212.6 256.9h.9v.9h-.9zM209.4 280.9h.9v.9h-.9zM208.8 260.7h.9v.9h-.9zM213.6 275.4h.9v.9h-.9zM205.7 259.9h.9v.9h-.9zM206.2 257.4h.9v.9h-.9zM203.8 281.6h.9v.9h-.9zM203.2 248.6h.9v.9h-.9zM206.5 270.2h.9v.9h-.9zM215.4 263.6h.9v.9h-.9zM197.3 275.5h.9v.9h-.9zM219.7 269.6h.9v.9h-.9zM202.3 269.2h.9v.9h-.9zM213.5 265.8h.9v.9h-.9zM225.1 255.5h.9v.9h-.9zM202.8 266.0h.9v.9h-.9zM213.6 260.2h.9v.9h-.9zM210.3 245.6h.9v.9h-.9zM223.2 250.0h.9v.9h-.9zM210.9 255.8h.9v.9h-.9zM218.1 254.8h.9v.9h-.9zM205.5 256.3h.9v.9h-.9zM216.2 268.1h.9v.9h-.9zM217.5 249.2h.9v.9h-.9zM217.2 260.1h.9v.9h-.9zM210.9 266.9h.9v.9h-.9zM209.6 252.8h.9v.9h-.9zM216.9 266.3h.9v.9h-.9zM215.9 248.5h.9v.9h-.9zM223.6 249.1h.9v.9h-.9zM206.4 267.0h.9v.9h-.9zM207.8 269.0h.9v.9h-.9zM202.9 266.1h.9v.9h-.9zM213.9 264.6h.9v.9h-.9zM226.1 255.2h.9v.9h-.9zM218.5 240.2h.9v.9h-.9zM210.9 246.0h.9v.9h-.9zM215.8 242.8h.9v.9h-.9zM218.6 264.3h.9v.9h-.9zM207.3 276.0h.9v.9h-.9zM208.2 268.7h.9v.9h-.9zM214.4 276.5h.9v.9h-.9zM198.6 273.0h.9v.9h-.9zM207.4 257.1h.9v.9h-.9zM209.8 268.6h.9v.9h-.9zM215.6 272.4h.9v.9h-.9zM214.5 251.4h.9v.9h-.9zM218.9 262.9h.9v.9h-.9zM225.3 249.0h.9v.9h-.9zM215.8 250.1h.9v.9h-.9zM222.6 261.8h.9v.9h-.9zM212.5 262.0h.9v.9h-.9zM212.5 256.5h.9v.9h-.9zM217.5 258.0h.9v.9h-.9zM218.6 245.8h.9v.9h-.9zM214.7 271.6h.9v.9h-.9zM197.7 273.4h.9v.9h-.9zM210.9 262.8h.9v.9h-.9zM212.9 261.0h.9v.9h-.9zM222.0 254.8h.9v.9h-.9zM208.8 267.1h.9v.9h-.9zM216.9 263.5h.9v.9h-.9zM210.3 263.2h.9v.9h-.9zM206.1 278.4h.9v.9h-.9zM202.7 276.5h.9v.9h-.9zM204.2 270.2h.9v.9h-.9zM214.8 263.5h.9v.9h-.9zM202.4 258.0h.9v.9h-.9zM211.5 278.8h.9v.9h-.9zM211.1 273.3h.9v.9h-.9zM209.1 267.0h.9v.9h-.9zM214.5 273.9h.9v.9h-.9zM213.3 252.2h.9v.9h-.9zM201.8 262.0h.9v.9h-.9zM215.8 256.5h.9v.9h-.9zM223.4 259.8h.9v.9h-.9zM208.8 260.2h.9v.9h-.9zM216.6 257.7h.9v.9h-.9zM214.8 261.2h.9v.9h-.9zM215.2 262.9h.9v.9h-.9zM214.2 264.9h.9v.9h-.9zM209.0 276.0h.9v.9h-.9zM207.2 264.6h.9v.9h-.9zM207.1 263.8h.9v.9h-.9zM220.4 257.1h.9v.9h-.9zM206.8 267.3h.9v.9h-.9zM198.3 262.8h.9v.9h-.9zM222.8 263.7h.9v.9h-.9zM233.3 255.0h.9v.9h-.9zM218.4 256.1h.9v.9h-.9zM224.0 244.7h.9v.9h-.9zM220.3 244.2h.9v.9h-.9zM214.2 254.4h.9v.9h-.9zM205.6 249.7h.9v.9h-.9zM212.5 255.3h.9v.9h-.9zM213.6 265.9h.9v.9h-.9zM205.3 269.6h.9v.9h-.9zM210.2 271.0h.9v.9h-.9zM213.0 256.0h.9v.9h-.9zM215.3 263.6h.9v.9h-.9zM212.3 250.1h.9v.9h-.9zM219.0 258.8h.9v.9h-.9zM209.6 255.8h.9v.9h-.9zM197.1 265.6h.9v.9h-.9zM204.5 270.5h.9v.9h-.9zM209.9 255.4h.9v.9h-.9zM200.1 264.2h.9v.9h-.9zM223.3 262.0h.9v.9h-.9zM215.9 239.9h.9v.9h-.9zM210.4 255.1h.9v.9h-.9zM209.2 262.0h.9v.9h-.9zM195.1 273.7h.9v.9h-.9zM226.4 237.3h.9v.9h-.9zM207.9 260.2h.9v.9h-.9zM209.4 263.4h.9v.9h-.9zM206.4 252.7h.9v.9h-.9zM208.9 250.2h.9v.9h-.9zM210.1 248.9h.9v.9h-.9zM210.7 272.0h.9v.9h-.9zM207.5 262.3h.9v.9h-.9zM219.3 250.2h.9v.9h-.9zM204.7 252.7h.9v.9h-.9zM214.8 256.8h.9v.9h-.9zM207.9 254.7h.9v.9h-.9zM211.7 272.4h.9v.9h-.9zM212.4 257.3h.9v.9h-.9zM210.7 265.1h.9v.9h-.9zM214.7 270.1h.9v.9h-.9zM218.8 261.4h.9v.9h-.9zM202.5 264.1h.9v.9h-.9zM223.5 243.7h.9v.9h-.9zM203.4 273.3h.9v.9h-.9zM217.8 254.3h.9v.9h-.9zM216.3 252.3h.9v.9h-.9zM200.2 256.0h.9v.9h-.9zM203.4 264.4h.9v.9h-.9zM206.0 260.8h.9v.9h-.9zM222.3 249.0h.9v.9h-.9zM207.6 263.2h.9v.9h-.9zM212.5 262.1h.9v.9h-.9zM219.2 262.9h.9v.9h-.9zM216.9 265.8h.9v.9h-.9zM218.0 250.1h.9v.9h-.9zM214.4 249.3h.9v.9h-.9zM223.5 252.7h.9v.9h-.9zM215.1 268.8h.9v.9h-.9zM206.1 254.8h.9v.9h-.9zM197.8 257.0h.9v.9h-.9zM218.8 261.3h.9v.9h-.9zM214.3 265.0h.9v.9h-.9zM222.1 259.5h.9v.9h-.9zM222.8 253.8h.9v.9h-.9zM204.9 257.4h.9v.9h-.9zM217.4 252.4h.9v.9h-.9zM221.2 258.8h.9v.9h-.9zM201.7 268.1h.9v.9h-.9zM215.4 255.7h.9v.9h-.9zM206.9 259.8h.9v.9h-.9zM203.6 264.3h.9v.9h-.9zM217.7 253.9h.9v.9h-.9zM217.2 269.7h.9v.9h-.9zM210.9 263.4h.9v.9h-.9zM210.8 264.6h.9v.9h-.9zM213.9 253.6h.9v.9h-.9zM219.2 256.7h.9v.9h-.9zM211.3 257.9h.9v.9h-.9zM201.4 260.7h.9v.9h-.9zM208.3 256.2h.9v.9h-.9zM215.7 255.3h.9v.9h-.9zM223.0 244.0h.9v.9h-.9zM217.2 264.8h.9v.9h-.9zM206.1 268.2h.9v.9h-.9zM210.6 267.1h.9v.9h-.9zM205.8 254.3h.9v.9h-.9zM199.4 247.5h.9v.9h-.9zM212.5 260.5h.9v.9h-.9zM198.1 268.3h.9v.9h-.9zM215.9 250.5h.9v.9h-.9zM198.6 275.3h.9v.9h-.9zM223.9 251.9h.9v.9h-.9zM222.3 248.0h.9v.9h-.9zM222.0 258.7h.9v.9h-.9zM218.2 255.9h.9v.9h-.9zM197.4 267.3h.9v.9h-.9zM207.5 261.2h.9v.9h-.9zM212.3 273.8h.9v.9h-.9zM222.4 255.3h.9v.9h-.9zM214.2 275.9h.9v.9h-.9zM213.2 258.0h.9v.9h-.9zM216.8 267.9h.9v.9h-.9zM222.0 265.7h.9v.9h-.9zM216.6 253.4h.9v.9h-.9zM217.9 265.3h.9v.9h-.9zM216.1 275.3h.9v.9h-.9zM217.9 256.4h.9v.9h-.9zM217.1 254.9h.9v.9h-.9zM200.3 256.8h.9v.9h-.9zM214.2 250.2h.9v.9h-.9zM196.6 261.8h.9v.9h-.9zM209.2 270.1h.9v.9h-.9zM217.3 254.0h.9v.9h-.9zM228.5 232.6h.9v.9h-.9zM211.2 256.5h.9v.9h-.9zM216.6 256.9h.9v.9h-.9zM205.5 270.4h.9v.9h-.9zM191.2 265.3h.9v.9h-.9zM191.8 260.1h.9v.9h-.9zM191.4 276.8h.9v.9h-.9zM176.9 265.1h.9v.9h-.9zM177.2 261.9h.9v.9h-.9zM180.0 249.0h.9v.9h-.9zM200.6 275.4h.9v.9h-.9zM172.1 262.4h.9v.9h-.9zM204.5 265.8h.9v.9h-.9zM187.9 262.8h.9v.9h-.9zM182.3 267.7h.9v.9h-.9zM171.9 261.6h.9v.9h-.9zM192.2 266.9h.9v.9h-.9zM189.4 282.8h.9v.9h-.9zM192.5 257.7h.9v.9h-.9zM199.5 251.8h.9v.9h-.9zM192.7 277.4h.9v.9h-.9zM200.9 277.0h.9v.9h-.9zM203.7 255.9h.9v.9h-.9zM188.1 261.8h.9v.9h-.9zM177.5 261.2h.9v.9h-.9zM182.5 278.1h.9v.9h-.9zM207.2 271.5h.9v.9h-.9zM172.0 263.4h.9v.9h-.9zM207.5 249.8h.9v.9h-.9zM197.1 264.6h.9v.9h-.9zM203.4 252.7h.9v.9h-.9zM201.4 240.6h.9v.9h-.9zM190.9 265.5h.9v.9h-.9zM184.4 262.9h.9v.9h-.9zM190.1 280.0h.9v.9h-.9zM180.6 256.2h.9v.9h-.9zM202.5 268.3h.9v.9h-.9zM173.2 277.2h.9v.9h-.9zM189.8 271.7h.9v.9h-.9zM169.6 261.5h.9v.9h-.9zM175.9 268.3h.9v.9h-.9zM198.7 273.3h.9v.9h-.9zM187.5 267.3h.9v.9h-.9zM200.5 269.0h.9v.9h-.9zM188.4 254.7h.9v.9h-.9zM200.1 249.5h.9v.9h-.9zM185.6 262.2h.9v.9h-.9zM173.3 272.6h.9v.9h-.9zM190.7 263.2h.9v.9h-.9zM194.8 257.0h.9v.9h-.9zM170.8 266.8h.9v.9h-.9zM185.6 277.5h.9v.9h-.9zM185.8 272.4h.9v.9h-.9zM171.2 259.6h.9v.9h-.9zM179.0 274.9h.9v.9h-.9zM205.6 265.3h.9v.9h-.9zM169.8 270.3h.9v.9h-.9zM170.9 264.3h.9v.9h-.9zM186.0 267.5h.9v.9h-.9zM204.5 265.6h.9v.9h-.9zM189.3 282.1h.9v.9h-.9zM175.2 264.8h.9v.9h-.9zM185.5 267.2h.9v.9h-.9zM172.4 274.7h.9v.9h-.9zM183.0 273.9h.9v.9h-.9zM175.7 271.1h.9v.9h-.9zM206.0 273.3h.9v.9h-.9zM206.1 265.7h.9v.9h-.9zM187.3 268.6h.9v.9h-.9zM203.1 268.1h.9v.9h-.9zM179.0 273.7h.9v.9h-.9zM189.2 270.3h.9v.9h-.9zM179.7 254.6h.9v.9h-.9zM187.9 277.2h.9v.9h-.9zM171.6 283.3h.9v.9h-.9zM175.1 277.1h.9v.9h-.9zM183.8 256.2h.9v.9h-.9zM188.7 241.2h.9v.9h-.9zM197.7 253.1h.9v.9h-.9zM186.9 254.6h.9v.9h-.9zM176.9 253.0h.9v.9h-.9zM174.4 262.9h.9v.9h-.9zM191.5 257.1h.9v.9h-.9zM187.4 269.1h.9v.9h-.9zM182.7 247.3h.9v.9h-.9zM180.9 288.3h.9v.9h-.9zM187.0 274.8h.9v.9h-.9zM200.1 266.7h.9v.9h-.9zM188.1 257.5h.9v.9h-.9zM195.4 246.2h.9v.9h-.9zM205.5 271.0h.9v.9h-.9zM192.9 261.4h.9v.9h-.9zM196.8 250.1h.9v.9h-.9zM203.0 250.9h.9v.9h-.9zM177.5 259.0h.9v.9h-.9zM179.4 271.0h.9v.9h-.9zM198.8 269.3h.9v.9h-.9zM172.5 267.6h.9v.9h-.9zM201.4 258.7h.9v.9h-.9zM206.2 279.2h.9v.9h-.9zM194.4 269.9h.9v.9h-.9zM186.5 278.1h.9v.9h-.9zM195.9 268.2h.9v.9h-.9zM188.8 273.3h.9v.9h-.9zM169.4 277.0h.9v.9h-.9zM175.3 260.7h.9v.9h-.9zM182.9 276.4h.9v.9h-.9zM178.5 270.7h.9v.9h-.9zM174.7 264.7h.9v.9h-.9zM197.6 258.2h.9v.9h-.9zM201.5 284.5h.9v.9h-.9zM188.1 260.0h.9v.9h-.9zM197.7 259.2h.9v.9h-.9zM206.4 259.7h.9v.9h-.9zM204.3 259.7h.9v.9h-.9zM177.3 241.9h.9v.9h-.9zM193.3 274.3h.9v.9h-.9zM205.3 272.8h.9v.9h-.9zM171.8 268.7h.9v.9h-.9zM174.5 271.9h.9v.9h-.9zM177.2 279.7h.9v.9h-.9zM188.4 262.8h.9v.9h-.9zM199.9 251.7h.9v.9h-.9zM181.7 243.7h.9v.9h-.9zM189.2 273.7h.9v.9h-.9zM204.4 261.7h.9v.9h-.9zM183.2 256.8h.9v.9h-.9zM173.0 269.4h.9v.9h-.9zM182.2 261.2h.9v.9h-.9zM190.4 247.8h.9v.9h-.9zM170.7 254.1h.9v.9h-.9zM192.6 259.0h.9v.9h-.9zM178.5 277.9h.9v.9h-.9zM178.3 271.1h.9v.9h-.9zM200.7 268.8h.9v.9h-.9zM198.2 263.6h.9v.9h-.9zM186.0 256.5h.9v.9h-.9zM202.2 271.2h.9v.9h-.9zM172.0 287.4h.9v.9h-.9zM185.3 258.5h.9v.9h-.9zM206.5 271.3h.9v.9h-.9zM189.3 252.1h.9v.9h-.9zM196.4 250.8h.9v.9h-.9zM177.6 258.3h.9v.9h-.9zM185.0 266.5h.9v.9h-.9zM196.0 266.9h.9v.9h-.9zM192.1 267.7h.9v.9h-.9zM196.8 284.8h.9v.9h-.9zM198.3 259.2h.9v.9h-.9zM194.1 262.1h.9v.9h-.9zM178.4 248.6h.9v.9h-.9zM188.3 262.6h.9v.9h-.9zM202.1 271.5h.9v.9h-.9zM183.7 256.6h.9v.9h-.9zM179.2 262.4h.9v.9h-.9zM200.9 267.4h.9v.9h-.9zM178.0 271.3h.9v.9h-.9zM182.0 269.0h.9v.9h-.9zM181.4 259.8h.9v.9h-.9zM176.9 260.4h.9v.9h-.9zM187.0 254.5h.9v.9h-.9zM183.3 265.9h.9v.9h-.9zM189.8 275.9h.9v.9h-.9zM195.9 265.5h.9v.9h-.9zM185.3 264.2h.9v.9h-.9zM199.7 256.7h.9v.9h-.9zM207.1 262.4h.9v.9h-.9zM170.4 250.5h.9v.9h-.9zM195.2 264.4h.9v.9h-.9zM198.5 261.0h.9v.9h-.9zM200.5 275.5h.9v.9h-.9zM175.5 261.4h.9v.9h-.9zM176.3 278.3h.9v.9h-.9zM206.7 267.5h.9v.9h-.9zM182.9 261.3h.9v.9h-.9zM198.5 265.7h.9v.9h-.9zM182.3 262.4h.9v.9h-.9zM195.6 284.4h.9v.9h-.9zM190.9 265.3h.9v.9h-.9zM196.1 261.2h.9v.9h-.9zM190.8 260.1h.9v.9h-.9zM186.0 260.3h.9v.9h-.9zM172.0 255.5h.9v.9h-.9zM190.5 269.5h.9v.9h-.9zM187.6 256.9h.9v.9h-.9zM207.4 258.4h.9v.9h-.9zM174.6 256.6h.9v.9h-.9zM199.1 253.3h.9v.9h-.9zM175.2 265.7h.9v.9h-.9zM192.9 282.1h.9v.9h-.9zM181.0 270.9h.9v.9h-.9zM178.6 256.6h.9v.9h-.9zM186.7 270.2h.9v.9h-.9zM206.2 282.6h.9v.9h-.9zM196.7 262.5h.9v.9h-.9zM205.4 264.4h.9v.9h-.9zM202.5 274.2h.9v.9h-.9zM171.5 252.4h.9v.9h-.9zM180.8 253.0h.9v.9h-.9zM176.7 267.7h.9v.9h-.9zM202.9 250.5h.9v.9h-.9zM203.0 267.3h.9v.9h-.9zM178.4 271.0h.9v.9h-.9zM173.1 278.9h.9v.9h-.9zM169.5 283.5h.9v.9h-.9zM201.3 270.3h.9v.9h-.9zM183.4 253.7h.9v.9h-.9zM180.5 269.1h.9v.9h-.9zM181.6 260.6h.9v.9h-.9zM195.7 271.6h.9v.9h-.9zM190.1 270.0h.9v.9h-.9zM197.6 269.4h.9v.9h-.9zM187.3 276.5h.9v.9h-.9zM191.3 254.1h.9v.9h-.9zM178.4 257.9h.9v.9h-.9zM197.7 259.3h.9v.9h-.9zM206.8 264.5h.9v.9h-.9zM183.5 270.2h.9v.9h-.9zM198.3 276.7h.9v.9h-.9zM193.9 273.6h.9v.9h-.9zM206.0 267.1h.9v.9h-.9zM189.3 278.3h.9v.9h-.9zM198.8 272.0h.9v.9h-.9zM203.9 278.3h.9v.9h-.9zM172.7 277.0h.9v.9h-.9zM193.4 264.5h.9v.9h-.9zM175.2 266.0h.9v.9h-.9zM184.8 258.6h.9v.9h-.9zM179.2 238.0h.9v.9h-.9zM179.2 262.4h.9v.9h-.9zM191.7 256.3h.9v.9h-.9zM201.7 266.6h.9v.9h-.9zM182.6 255.9h.9v.9h-.9zM195.4 254.6h.9v.9h-.9zM187.4 257.7h.9v.9h-.9zM197.0 268.3h.9v.9h-.9zM184.1 284.7h.9v.9h-.9zM184.9 284.4h.9v.9h-.9zM190.5 272.3h.9v.9h-.9zM193.2 264.8h.9v.9h-.9zM189.3 269.6h.9v.9h-.9zM188.4 273.0h.9v.9h-.9zM169.7 283.7h.9v.9h-.9zM201.9 270.5h.9v.9h-.9zM205.5 264.1h.9v.9h-.9zM205.1 260.1h.9v.9h-.9zM200.3 275.0h.9v.9h-.9zM170.8 267.1h.9v.9h-.9zM192.9 265.1h.9v.9h-.9zM170.2 251.5h.9v.9h-.9zM189.4 271.1h.9v.9h-.9zM182.6 266.1h.9v.9h-.9zM179.6 270.9h.9v.9h-.9zM176.7 267.0h.9v.9h-.9zM176.0 271.4h.9v.9h-.9zM184.3 279.4h.9v.9h-.9zM179.9 276.0h.9v.9h-.9zM222.8 284.3h.9v.9h-.9zM218.7 286.7h.9v.9h-.9zM193.4 285.9h.9v.9h-.9zM171.1 288.3h.9v.9h-.9zM192.7 278.7h.9v.9h-.9zM219.6 278.9h.9v.9h-.9zM229.8 281.0h.9v.9h-.9zM228.7 277.4h.9v.9h-.9zM188.6 287.7h.9v.9h-.9zM173.7 286.6h.9v.9h-.9zM195.9 284.3h.9v.9h-.9zM180.8 279.8h.9v.9h-.9zM229.8 286.5h.9v.9h-.9zM176.4 277.6h.9v.9h-.9zM175.9 279.2h.9v.9h-.9zM188.2 283.8h.9v.9h-.9zM173.9 283.4h.9v.9h-.9zM212.3 287.5h.9v.9h-.9zM201.8 285.2h.9v.9h-.9zM179.1 280.4h.9v.9h-.9zM228.4 276.7h.9v.9h-.9zM233.0 279.1h.9v.9h-.9zM177.5 287.8h.9v.9h-.9zM177.1 288.2h.9v.9h-.9zM190.3 276.9h.9v.9h-.9zM179.5 287.2h.9v.9h-.9zM232.3 286.6h.9v.9h-.9zM214.5 282.4h.9v.9h-.9zM189.8 281.7h.9v.9h-.9zM173.5 278.4h.9v.9h-.9zM232.2 280.3h.9v.9h-.9zM235.0 278.4h.9v.9h-.9zM214.6 278.0h.9v.9h-.9zM231.6 252.1h.9v.9h-.9zM234.0 241.7h.9v.9h-.9zM225.3 277.9h.9v.9h-.9zM231.0 246.3h.9v.9h-.9zM218.6 269.0h.9v.9h-.9zM214.1 227.0h.9v.9h-.9zM224.0 251.4h.9v.9h-.9zM233.5 236.7h.9v.9h-.9zM220.7 237.7h.9v.9h-.9zM215.6 288.0h.9v.9h-.9zM213.4 263.2h.9v.9h-.9zM214.7 259.2h.9v.9h-.9zM236.3 262.0h.9v.9h-.9zM213.2 275.2h.9v.9h-.9zM222.7 267.9h.9v.9h-.9zM231.9 262.4h.9v.9h-.9zM236.9 258.4h.9v.9h-.9zM214.3 253.3h.9v.9h-.9zM216.9 268.1h.9v.9h-.9zM214.5 264.5h.9v.9h-.9zM221.4 248.8h.9v.9h-.9zM235.6 254.3h.9v.9h-.9zM216.1 265.6h.9v.9h-.9zM221.8 279.6h.9v.9h-.9zM222.0 268.2h.9v.9h-.9zM230.1 256.0h.9v.9h-.9zM231.9 253.9h.9v.9h-.9zM229.3 256.6h.9v.9h-.9z" fill="#111" opacity="0.85"/>
<text x="206.25" y="213.70" font-size="11" text-anchor="middle" font-weight="normal" fill="#000" stroke="#000" stroke-width="0.25">-/-</text>
<text x="165.80" y="292.40" font-size="5.5" text-anchor="end" font-weight="normal" fill="#000" stroke="#000" stroke-width="0.25">10<tspan font-size="3.8" dy="-2.2">0</tspan></text>
<text x="172.90" y="298.00" font-size="5.5" text-anchor="middle" font-weight="normal" fill="#000" stroke="#000" stroke-width="0.25">10<tspan font-size="3.8" dy="-2.2">0</tspan></text>
<line x1="166.90" y1="290.40" x2="168.40" y2="290.40" stroke="#333" stroke-width="0.5"/>
<line x1="168.40" y1="290.40" x2="168.40" y2="291.90" stroke="#333" stroke-width="0.5"/>
<text x="165.80" y="274.95" font-size="5.5" text-anchor="end" font-weight="normal" fill="#000" stroke="#000" stroke-width="0.25">10<tspan font-size="3.8" dy="-2.2">1</tspan></text>
<text x="189.00" y="298.00" font-size="5.5" text-anchor="middle" font-weight="normal" fill="#000" stroke="#000" stroke-width="0.25">10<tspan font-size="3.8" dy="-2.2">1</tspan></text>
<line x1="166.90" y1="272.95" x2="168.40" y2="272.95" stroke="#333" stroke-width="0.5"/>
<line x1="185.90" y1="290.40" x2="185.90" y2="291.90" stroke="#333" stroke-width="0.5"/>
<text x="165.80" y="257.50" font-size="5.5" text-anchor="end" font-weight="normal" fill="#000" stroke="#000" stroke-width="0.25">10<tspan font-size="3.8" dy="-2.2">2</tspan></text>
<text x="205.10" y="298.00" font-size="5.5" text-anchor="middle" font-weight="normal" fill="#000" stroke="#000" stroke-width="0.25">10<tspan font-size="3.8" dy="-2.2">2</tspan></text>
<line x1="166.90" y1="255.50" x2="168.40" y2="255.50" stroke="#333" stroke-width="0.5"/>
<line x1="203.40" y1="290.40" x2="203.40" y2="291.90" stroke="#333" stroke-width="0.5"/>
<text x="165.80" y="240.05" font-size="5.5" text-anchor="end" font-weight="normal" fill="#000" stroke="#000" stroke-width="0.25">10<tspan font-size="3.8" dy="-2.2">3</tspan></text>
<text x="221.20" y="298.00" font-size="5.5" text-anchor="middle" font-weight="normal" fill="#000" stroke="#000" stroke-width="0.25">10<tspan font-size="3.8" dy="-2.2">3</tspan></text>
<line x1="166.90" y1="238.05" x2="168.40" y2="238.05" stroke="#333" stroke-width="0.5"/>
<line x1="220.90" y1="290.40" x2="220.90" y2="291.90" stroke="#333" stroke-width="0.5"/>
<text x="165.80" y="222.60" font-size="5.5" text-anchor="end" font-weight="normal" fill="#000" stroke="#000" stroke-width="0.25">10<tspan font-size="3.8" dy="-2.2">4</tspan></text>
<text x="237.30" y="298.00" font-size="5.5" text-anchor="middle" font-weight="normal" fill="#000" stroke="#000" stroke-width="0.25">10<tspan font-size="3.8" dy="-2.2">4</tspan></text>
<line x1="166.90" y1="220.60" x2="168.40" y2="220.60" stroke="#333" stroke-width="0.5"/>
<line x1="238.40" y1="290.40" x2="238.40" y2="291.90" stroke="#333" stroke-width="0.5"/>
<text x="169.90" y="224.80" font-size="3.4" text-anchor="start" font-weight="normal" fill="#000" stroke="#000" stroke-width="0.12">2.54%</text>
<text x="236.90" y="224.80" font-size="3.4" text-anchor="end" font-weight="normal" fill="#000" stroke="#000" stroke-width="0.12">83.4%</text>
<text x="169.90" y="288.90" font-size="3.4" text-anchor="start" font-weight="normal" fill="#000" stroke="#000" stroke-width="0.12">3.29%</text>
<text x="236.90" y="288.90" font-size="3.4" text-anchor="end" font-weight="normal" fill="#000" stroke="#000" stroke-width="0.12">10.7%</text>
<text transform="translate(62.90,253.70) rotate(-90)" font-size="10.4" text-anchor="middle" font-weight="normal" fill="#000" textLength="27.6" lengthAdjust="spacingAndGlyphs" stroke="#000" stroke-width="0.25">CD11b</text>
<text x="115.00" y="312.20" font-size="9.5" text-anchor="middle" font-weight="normal" fill="#000" stroke="#000" stroke-width="0.25">F4/80</text>
<text x="204.30" y="312.20" font-size="9.5" text-anchor="middle" font-weight="normal" fill="#000" stroke="#000" stroke-width="0.25">F4/80</text>
<text x="116.00" y="333.30" font-size="10" text-anchor="middle" font-weight="normal" fill="#000" stroke="#000" stroke-width="0.25">+/+</text>
<text x="197.00" y="333.30" font-size="10" text-anchor="middle" font-weight="normal" fill="#000" stroke="#000" stroke-width="0.25">-/-</text>
<g><rect x="77.2" y="338.2" width="75.60000000000001" height="74.60000000000002" fill="url(#bg)"/>
<clipPath id="c77"><rect x="77.2" y="338.2" width="75.60000000000001" height="74.60000000000002"/></clipPath>
<g clip-path="url(#c77)" filter="url(#b1)">
<circle cx="80.8" cy="349.0" r="3.5" fill="#b0b0b0"/>
<circle cx="81.1" cy="348.0" r="1.9" fill="#2c2c2c"/>
<circle cx="113.0" cy="349.0" r="3.8" fill="#b0b0b0"/>
<circle cx="112.5" cy="350.0" r="2.1" fill="#2c2c2c"/>
<circle cx="139.3" cy="344.1" r="2.9" fill="#a2a2a2"/>
<circle cx="138.4" cy="343.5" r="1.4" fill="#141414"/>
<circle cx="139.7" cy="343.0" r="1.4" fill="#141414"/>
<circle cx="151.1" cy="349.7" r="2.9" fill="#a2a2a2"/>
<circle cx="151.3" cy="348.6" r="1.4" fill="#141414"/>
<circle cx="152.1" cy="350.2" r="1.4" fill="#141414"/>
<circle cx="140.3" cy="357.9" r="2.9" fill="#a2a2a2"/>
<circle cx="139.3" cy="358.2" r="1.4" fill="#141414"/>
<circle cx="140.3" cy="356.8" r="1.4" fill="#141414"/>
<circle cx="124.8" cy="362.1" r="0.9" fill="#b0b0b0"/>
<circle cx="125.0" cy="361.9" r="0.5" fill="#2c2c2c"/>
<circle cx="90.7" cy="374.5" r="3.8" fill="#b0b0b0"/>
<circle cx="91.8" cy="374.7" r="2.1" fill="#2c2c2c"/>
<circle cx="80.3" cy="384.2" r="3.5" fill="#b0b0b0"/>
<circle cx="81.3" cy="383.9" r="1.9" fill="#2c2c2c"/>
<circle cx="91.7" cy="385.5" r="2.9" fill="#a2a2a2"/>
<circle cx="90.6" cy="385.3" r="1.4" fill="#141414"/>
<circle cx="92.1" cy="384.4" r="1.4" fill="#141414"/>
<circle cx="80.3" cy="391.0" r="3.5" fill="#b0b0b0"/>
<circle cx="80.9" cy="390.1" r="1.9" fill="#2c2c2c"/>
<circle cx="101.0" cy="390.6" r="3.5" fill="#a2a2a2"/>
<circle cx="99.8" cy="391.1" r="1.7" fill="#141414"/>
<circle cx="100.2" cy="389.6" r="1.7" fill="#141414"/>
<circle cx="105.2" cy="392.1" r="3.2" fill="#a2a2a2"/>
<circle cx="106.3" cy="392.6" r="1.5" fill="#141414"/>
<circle cx="104.8" cy="393.2" r="1.5" fill="#141414"/>
<circle cx="106.2" cy="381.7" r="3.5" fill="#b0b0b0"/>
<circle cx="106.6" cy="382.7" r="1.9" fill="#2c2c2c"/>
<circle cx="116.6" cy="369.3" r="3.2" fill="#a2a2a2"/>
<circle cx="116.1" cy="370.4" r="1.5" fill="#141414"/>
<circle cx="115.6" cy="368.6" r="1.5" fill="#141414"/>
<circle cx="127.9" cy="369.3" r="4.7" fill="#d6d6d6" stroke="#9a9a9a" stroke-width="0.5"/>
<circle cx="128.2" cy="369.3" r="2.1" fill="#666"/>
<circle cx="113.5" cy="376.6" r="3.2" fill="#a2a2a2"/>
<circle cx="113.5" cy="375.3" r="1.5" fill="#141414"/>
<circle cx="114.6" cy="376.3" r="1.5" fill="#141414"/>
<circle cx="119.7" cy="375.5" r="3.2" fill="#a2a2a2"/>
<circle cx="119.9" cy="376.7" r="1.5" fill="#141414"/>
<circle cx="118.5" cy="375.1" r="1.5" fill="#141414"/>
<circle cx="124.8" cy="376.6" r="3.2" fill="#a2a2a2"/>
<circle cx="125.8" cy="377.2" r="1.5" fill="#141414"/>
<circle cx="124.4" cy="377.7" r="1.5" fill="#141414"/>
<circle cx="130.0" cy="378.6" r="3.2" fill="#a2a2a2"/>
<circle cx="129.4" cy="377.6" r="1.5" fill="#141414"/>
<circle cx="131.2" cy="378.7" r="1.5" fill="#141414"/>
<circle cx="122.8" cy="383.8" r="3.5" fill="#a2a2a2"/>
<circle cx="122.8" cy="382.5" r="1.7" fill="#141414"/>
<circle cx="124.1" cy="384.0" r="1.7" fill="#141414"/>
<circle cx="132.1" cy="381.7" r="2.9" fill="#b0b0b0"/>
<circle cx="132.2" cy="380.9" r="1.6" fill="#2c2c2c"/>
<circle cx="135.8" cy="386.9" r="2.9" fill="#a2a2a2"/>
<circle cx="135.9" cy="385.8" r="1.4" fill="#141414"/>
<circle cx="136.5" cy="387.7" r="1.4" fill="#141414"/>
<circle cx="135.2" cy="392.1" r="2.6" fill="#a2a2a2"/>
<circle cx="134.3" cy="392.6" r="1.3" fill="#141414"/>
<circle cx="135.4" cy="391.1" r="1.3" fill="#141414"/>
<circle cx="133.1" cy="399.3" r="3.2" fill="#b0b0b0"/>
<circle cx="133.1" cy="398.4" r="1.8" fill="#2c2c2c"/>
<circle cx="149.7" cy="402.0" r="2.9" fill="#a2a2a2"/>
<circle cx="149.7" cy="403.1" r="1.4" fill="#141414"/>
<circle cx="148.6" cy="402.2" r="1.4" fill="#141414"/>
<circle cx="88.2" cy="407.6" r="2.3" fill="#a2a2a2"/>
<circle cx="88.5" cy="406.8" r="1.1" fill="#141414"/>
<circle cx="88.8" cy="408.3" r="1.1" fill="#141414"/>
<circle cx="77.9" cy="398.3" r="1.4" fill="#a2a2a2"/>
<circle cx="77.9" cy="397.7" r="0.7" fill="#141414"/>
<circle cx="78.4" cy="398.1" r="0.7" fill="#141414"/>
<circle cx="118.6" cy="380.7" r="2.9" fill="#b0b0b0"/>
<circle cx="117.8" cy="380.7" r="1.6" fill="#2c2c2c"/>
<circle cx="115.9" cy="373.0" r="2.6" fill="#a2a2a2"/>
<circle cx="115.6" cy="374.0" r="1.3" fill="#141414"/>
<circle cx="115.5" cy="372.1" r="1.3" fill="#141414"/>
<circle cx="121.3" cy="371.0" r="2.6" fill="#a2a2a2"/>
<circle cx="120.3" cy="371.0" r="1.3" fill="#141414"/>
<circle cx="121.9" cy="370.2" r="1.3" fill="#141414"/>
<circle cx="126.3" cy="373.9" r="2.6" fill="#b0b0b0"/>
<circle cx="126.0" cy="373.1" r="1.4" fill="#2c2c2c"/>
<circle cx="128.3" cy="383.4" r="2.6" fill="#a2a2a2"/>
<circle cx="127.8" cy="384.2" r="1.3" fill="#141414"/>
<circle cx="127.8" cy="382.5" r="1.3" fill="#141414"/>
<circle cx="112.4" cy="379.7" r="2.3" fill="#b0b0b0"/>
<circle cx="113.0" cy="380.0" r="1.3" fill="#2c2c2c"/>
</g></g>
<g><rect x="155.2" y="338.2" width="75.9" height="74.60000000000002" fill="url(#bg)"/>
<clipPath id="c155"><rect x="155.2" y="338.2" width="75.9" height="74.60000000000002"/></clipPath>
<g clip-path="url(#c155)" filter="url(#b1)">
<circle cx="157.2" cy="342.8" r="2.6" fill="#a2a2a2"/>
<circle cx="157.9" cy="342.1" r="1.3" fill="#141414"/>
<circle cx="157.3" cy="343.8" r="1.3" fill="#141414"/>
<circle cx="181.0" cy="340.3" r="2.6" fill="#a2a2a2"/>
<circle cx="180.6" cy="341.2" r="1.3" fill="#141414"/>
<circle cx="180.2" cy="339.8" r="1.3" fill="#141414"/>
<circle cx="176.5" cy="347.6" r="2.9" fill="#b0b0b0"/>
<circle cx="175.6" cy="347.4" r="1.6" fill="#2c2c2c"/>
<circle cx="186.2" cy="350.7" r="2.9" fill="#b0b0b0"/>
<circle cx="186.5" cy="349.9" r="1.6" fill="#2c2c2c"/>
<circle cx="183.1" cy="355.9" r="2.9" fill="#a2a2a2"/>
<circle cx="183.6" cy="354.9" r="1.4" fill="#141414"/>
<circle cx="184.2" cy="356.2" r="1.4" fill="#141414"/>
<circle cx="160.3" cy="354.8" r="2.9" fill="#a2a2a2"/>
<circle cx="160.9" cy="355.8" r="1.4" fill="#141414"/>
<circle cx="159.6" cy="355.7" r="1.4" fill="#141414"/>
<circle cx="165.5" cy="354.4" r="2.6" fill="#b0b0b0"/>
<circle cx="164.7" cy="354.3" r="1.4" fill="#2c2c2c"/>
<circle cx="159.3" cy="361.0" r="3.2" fill="#a2a2a2"/>
<circle cx="158.3" cy="361.7" r="1.5" fill="#141414"/>
<circle cx="159.1" cy="359.8" r="1.5" fill="#141414"/>
<circle cx="160.3" cy="365.6" r="2.9" fill="#a2a2a2"/>
<circle cx="161.4" cy="366.0" r="1.4" fill="#141414"/>
<circle cx="159.3" cy="366.0" r="1.4" fill="#141414"/>
<circle cx="156.2" cy="364.1" r="2.3" fill="#a2a2a2"/>
<circle cx="156.7" cy="363.4" r="1.1" fill="#141414"/>
<circle cx="156.6" cy="364.9" r="1.1" fill="#141414"/>
<circle cx="170.7" cy="370.3" r="2.9" fill="#a2a2a2"/>
<circle cx="169.6" cy="370.4" r="1.4" fill="#141414"/>
<circle cx="171.1" cy="369.3" r="1.4" fill="#141414"/>
<circle cx="175.9" cy="367.2" r="2.6" fill="#a2a2a2"/>
<circle cx="175.1" cy="367.9" r="1.3" fill="#141414"/>
<circle cx="175.8" cy="366.3" r="1.3" fill="#141414"/>
<circle cx="180.0" cy="365.2" r="2.9" fill="#a2a2a2"/>
<circle cx="181.0" cy="364.8" r="1.4" fill="#141414"/>
<circle cx="180.4" cy="366.2" r="1.4" fill="#141414"/>
<circle cx="184.1" cy="372.4" r="2.6" fill="#a2a2a2"/>
<circle cx="185.0" cy="371.9" r="1.3" fill="#141414"/>
<circle cx="184.9" cy="373.1" r="1.3" fill="#141414"/>
<circle cx="182.1" cy="374.5" r="2.8" fill="#d6d6d6" stroke="#9a9a9a" stroke-width="0.5"/>
<circle cx="182.4" cy="374.5" r="1.3" fill="#666"/>
<circle cx="160.3" cy="380.7" r="3.2" fill="#a2a2a2"/>
<circle cx="161.3" cy="380.0" r="1.5" fill="#141414"/>
<circle cx="161.3" cy="381.4" r="1.5" fill="#141414"/>
<circle cx="164.5" cy="379.7" r="2.9" fill="#a2a2a2"/>
<circle cx="163.5" cy="380.1" r="1.4" fill="#141414"/>
<circle cx="164.8" cy="378.6" r="1.4" fill="#141414"/>
<circle cx="169.7" cy="383.8" r="2.9" fill="#a2a2a2"/>
<circle cx="168.6" cy="383.9" r="1.4" fill="#141414"/>
<circle cx="169.8" cy="382.7" r="1.4" fill="#141414"/>
<circle cx="160.3" cy="385.9" r="2.9" fill="#a2a2a2"/>
<circle cx="160.3" cy="384.8" r="1.4" fill="#141414"/>
<circle cx="161.4" cy="386.0" r="1.4" fill="#141414"/>
<circle cx="165.5" cy="386.9" r="2.9" fill="#a2a2a2"/>
<circle cx="166.0" cy="385.9" r="1.4" fill="#141414"/>
<circle cx="166.4" cy="387.5" r="1.4" fill="#141414"/>
<circle cx="169.7" cy="389.0" r="2.3" fill="#a2a2a2"/>
<circle cx="170.5" cy="388.7" r="1.1" fill="#141414"/>
<circle cx="169.5" cy="389.8" r="1.1" fill="#141414"/>
<circle cx="181.0" cy="389.0" r="3.2" fill="#a2a2a2"/>
<circle cx="181.4" cy="387.8" r="1.5" fill="#141414"/>
<circle cx="182.0" cy="389.7" r="1.5" fill="#141414"/>
<circle cx="177.9" cy="392.1" r="2.9" fill="#b0b0b0"/>
<circle cx="177.5" cy="391.3" r="1.6" fill="#2c2c2c"/>
<circle cx="170.7" cy="395.2" r="3.2" fill="#a2a2a2"/>
<circle cx="169.6" cy="395.7" r="1.5" fill="#141414"/>
<circle cx="169.9" cy="394.2" r="1.5" fill="#141414"/>
<circle cx="175.9" cy="395.8" r="2.9" fill="#b0b0b0"/>
<circle cx="176.7" cy="396.1" r="1.6" fill="#2c2c2c"/>
<circle cx="190.3" cy="384.2" r="2.6" fill="#a2a2a2"/>
<circle cx="190.0" cy="383.3" r="1.3" fill="#141414"/>
<circle cx="191.3" cy="384.0" r="1.3" fill="#141414"/>
<circle cx="194.5" cy="381.7" r="2.6" fill="#a2a2a2"/>
<circle cx="194.2" cy="382.7" r="1.3" fill="#141414"/>
<circle cx="193.5" cy="381.5" r="1.3" fill="#141414"/>
<circle cx="204.2" cy="350.3" r="2.9" fill="#a2a2a2"/>
<circle cx="203.2" cy="349.8" r="1.4" fill="#141414"/>
<circle cx="204.8" cy="349.4" r="1.4" fill="#141414"/>
<circle cx="209.0" cy="348.6" r="3.2" fill="#a2a2a2"/>
<circle cx="208.2" cy="347.7" r="1.5" fill="#141414"/>
<circle cx="210.2" cy="348.7" r="1.5" fill="#141414"/>
<circle cx="212.1" cy="351.7" r="2.9" fill="#a2a2a2"/>
<circle cx="211.6" cy="352.7" r="1.4" fill="#141414"/>
<circle cx="211.1" cy="351.2" r="1.4" fill="#141414"/>
<circle cx="216.2" cy="349.7" r="3.2" fill="#a2a2a2"/>
<circle cx="217.4" cy="349.6" r="1.5" fill="#141414"/>
<circle cx="216.3" cy="350.9" r="1.5" fill="#141414"/>
<circle cx="220.3" cy="350.7" r="2.9" fill="#a2a2a2"/>
<circle cx="221.4" cy="350.4" r="1.4" fill="#141414"/>
<circle cx="220.1" cy="351.8" r="1.4" fill="#141414"/>
<circle cx="219.3" cy="356.9" r="2.6" fill="#a2a2a2"/>
<circle cx="219.8" cy="356.1" r="1.3" fill="#141414"/>
<circle cx="219.8" cy="357.8" r="1.3" fill="#141414"/>
<circle cx="218.3" cy="361.0" r="2.6" fill="#d6d6d6" stroke="#9a9a9a" stroke-width="0.5"/>
<circle cx="218.6" cy="361.0" r="1.2" fill="#666"/>
<circle cx="206.9" cy="372.4" r="2.6" fill="#a2a2a2"/>
<circle cx="207.0" cy="371.4" r="1.3" fill="#141414"/>
<circle cx="207.9" cy="372.2" r="1.3" fill="#141414"/>
<circle cx="204.8" cy="378.6" r="3.2" fill="#b0b0b0"/>
<circle cx="203.9" cy="378.6" r="1.8" fill="#2c2c2c"/>
<circle cx="205.9" cy="390.0" r="2.9" fill="#b0b0b0"/>
<circle cx="205.1" cy="390.5" r="1.6" fill="#2c2c2c"/>
<circle cx="218.3" cy="373.5" r="2.9" fill="#a2a2a2"/>
<circle cx="218.8" cy="372.5" r="1.4" fill="#141414"/>
<circle cx="219.1" cy="374.1" r="1.4" fill="#141414"/>
<circle cx="222.4" cy="374.5" r="2.9" fill="#a2a2a2"/>
<circle cx="221.4" cy="374.0" r="1.4" fill="#141414"/>
<circle cx="223.5" cy="374.2" r="1.4" fill="#141414"/>
<circle cx="227.6" cy="372.4" r="2.9" fill="#a2a2a2"/>
<circle cx="227.6" cy="371.3" r="1.4" fill="#141414"/>
<circle cx="228.7" cy="372.6" r="1.4" fill="#141414"/>
<circle cx="224.5" cy="379.7" r="3.2" fill="#b0b0b0"/>
<circle cx="225.0" cy="380.5" r="1.8" fill="#2c2c2c"/>
<circle cx="227.6" cy="376.6" r="2.6" fill="#a2a2a2"/>
<circle cx="227.4" cy="375.6" r="1.3" fill="#141414"/>
<circle cx="228.5" cy="377.0" r="1.3" fill="#141414"/>
<circle cx="212.1" cy="396.2" r="3.2" fill="#a2a2a2"/>
<circle cx="213.3" cy="396.2" r="1.5" fill="#141414"/>
<circle cx="211.3" cy="397.1" r="1.5" fill="#141414"/>
<circle cx="217.2" cy="395.2" r="3.2" fill="#b0b0b0"/>
<circle cx="218.2" cy="395.5" r="1.8" fill="#2c2c2c"/>
<circle cx="215.2" cy="401.4" r="2.9" fill="#a2a2a2"/>
<circle cx="216.1" cy="401.9" r="1.4" fill="#141414"/>
<circle cx="214.2" cy="401.9" r="1.4" fill="#141414"/>
<circle cx="220.3" cy="403.5" r="2.9" fill="#a2a2a2"/>
<circle cx="221.3" cy="404.0" r="1.4" fill="#141414"/>
<circle cx="219.3" cy="403.9" r="1.4" fill="#141414"/>
<circle cx="225.5" cy="402.4" r="3.2" fill="#b0b0b0"/>
<circle cx="225.6" cy="401.5" r="1.8" fill="#2c2c2c"/>
<circle cx="228.2" cy="407.6" r="2.6" fill="#a2a2a2"/>
<circle cx="228.2" cy="408.6" r="1.3" fill="#141414"/>
<circle cx="227.4" cy="407.0" r="1.3" fill="#141414"/>
<circle cx="172.8" cy="411.7" r="2.3" fill="#a2a2a2"/>
<circle cx="171.9" cy="412.0" r="1.1" fill="#141414"/>
<circle cx="173.0" cy="410.9" r="1.1" fill="#141414"/>
<circle cx="195.5" cy="412.4" r="2.3" fill="#a2a2a2"/>
<circle cx="195.7" cy="413.2" r="1.1" fill="#141414"/>
<circle cx="194.7" cy="412.0" r="1.1" fill="#141414"/>
<circle cx="227.6" cy="339.3" r="2.3" fill="#a2a2a2"/>
<circle cx="226.8" cy="338.9" r="1.1" fill="#141414"/>
<circle cx="228.1" cy="338.6" r="1.1" fill="#141414"/>
<circle cx="216.2" cy="339.3" r="2.3" fill="#d6d6d6" stroke="#9a9a9a" stroke-width="0.5"/>
<circle cx="216.5" cy="339.3" r="1.0" fill="#666"/>
</g></g>
</svg></body></html>
